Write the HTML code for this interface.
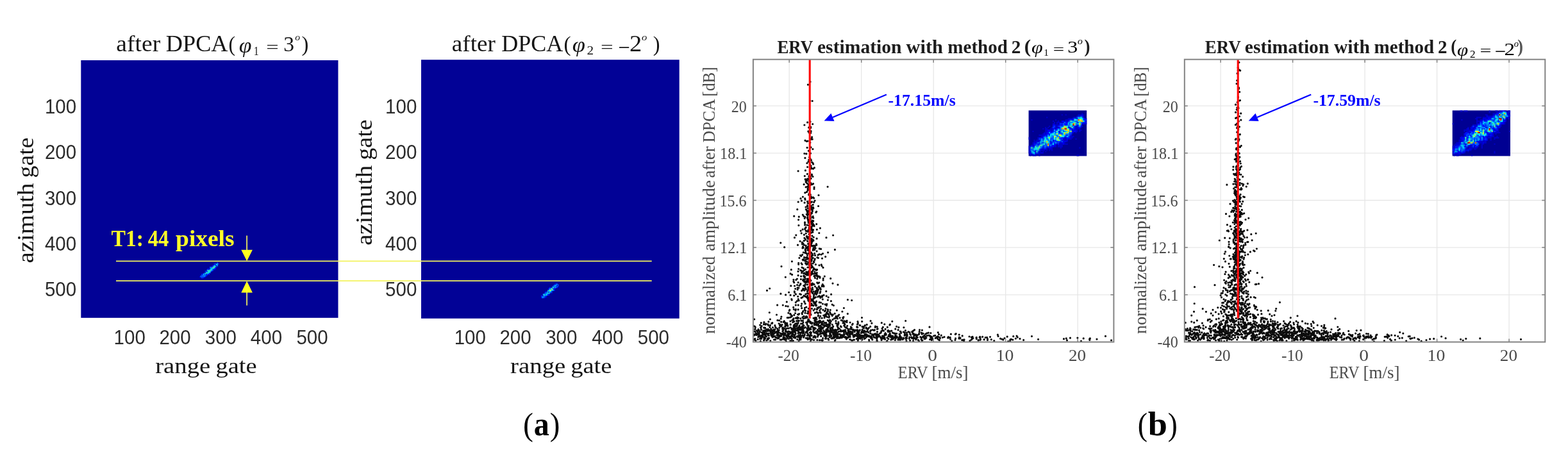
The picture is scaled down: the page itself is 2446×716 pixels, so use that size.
<!DOCTYPE html>
<html><head><meta charset="utf-8"><title>Figure</title>
<style>
html,body{margin:0;padding:0;background:#fff;}
body{width:2446px;height:716px;overflow:hidden;}
svg{display:block;}
.sf{font-family:"Liberation Serif",serif;}
.ss{font-family:"Liberation Sans",sans-serif;}
</style></head><body>
<svg width="2446" height="716" viewBox="0 0 2446 716">
<rect width="2446" height="716" fill="#fff"/>
<rect x="126.3" y="94.0" width="401.2" height="401.8" fill="#020296"/>
<rect x="657.0" y="93.2" width="402.7" height="403.6" fill="#020296"/>
<text transform="translate(69.90,176.70) scale(0.9580,1)" font-size="30.80" class="ss" fill="#2b2b2b">100</text>
<text transform="translate(601.10,176.70) scale(0.9580,1)" font-size="30.80" class="ss" fill="#2b2b2b">100</text>
<text transform="translate(69.90,248.10) scale(0.9580,1)" font-size="30.80" class="ss" fill="#2b2b2b">200</text>
<text transform="translate(601.10,248.10) scale(0.9580,1)" font-size="30.80" class="ss" fill="#2b2b2b">200</text>
<text transform="translate(69.90,319.50) scale(0.9580,1)" font-size="30.80" class="ss" fill="#2b2b2b">300</text>
<text transform="translate(601.10,319.50) scale(0.9580,1)" font-size="30.80" class="ss" fill="#2b2b2b">300</text>
<text transform="translate(69.90,390.90) scale(0.9580,1)" font-size="30.80" class="ss" fill="#2b2b2b">400</text>
<text transform="translate(601.10,390.90) scale(0.9580,1)" font-size="30.80" class="ss" fill="#2b2b2b">400</text>
<text transform="translate(69.90,462.20) scale(0.9580,1)" font-size="30.80" class="ss" fill="#2b2b2b">500</text>
<text transform="translate(601.10,462.20) scale(0.9580,1)" font-size="30.80" class="ss" fill="#2b2b2b">500</text>
<text transform="translate(177.60,537.20) scale(0.9580,1)" font-size="30.80" class="ss" fill="#2b2b2b">100</text>
<text transform="translate(708.65,537.20) scale(0.9580,1)" font-size="30.80" class="ss" fill="#2b2b2b">100</text>
<text transform="translate(248.41,537.20) scale(0.9580,1)" font-size="30.80" class="ss" fill="#2b2b2b">200</text>
<text transform="translate(779.41,537.20) scale(0.9580,1)" font-size="30.80" class="ss" fill="#2b2b2b">200</text>
<text transform="translate(319.76,537.20) scale(0.9580,1)" font-size="30.80" class="ss" fill="#2b2b2b">300</text>
<text transform="translate(851.16,537.20) scale(0.9580,1)" font-size="30.80" class="ss" fill="#2b2b2b">300</text>
<text transform="translate(390.86,537.20) scale(0.9580,1)" font-size="30.80" class="ss" fill="#2b2b2b">400</text>
<text transform="translate(923.16,537.20) scale(0.9580,1)" font-size="30.80" class="ss" fill="#2b2b2b">400</text>
<text transform="translate(462.41,537.20) scale(0.9580,1)" font-size="30.80" class="ss" fill="#2b2b2b">500</text>
<text transform="translate(994.76,537.20) scale(0.9580,1)" font-size="30.80" class="ss" fill="#2b2b2b">500</text>
<text class="sf"><tspan x="242.23" y="581.90" font-size="33.50" textLength="85.96" lengthAdjust="spacingAndGlyphs" fill="#141414">range</tspan> <tspan x="336.47" y="581.90" font-size="33.50" textLength="64.20" lengthAdjust="spacingAndGlyphs" fill="#141414">gate</tspan></text>
<text class="sf"><tspan x="796.02" y="581.80" font-size="33.50" textLength="86.37" lengthAdjust="spacingAndGlyphs" fill="#141414">range</tspan> <tspan x="890.16" y="581.80" font-size="33.50" textLength="64.31" lengthAdjust="spacingAndGlyphs" fill="#141414">gate</tspan></text>
<text class="sf" transform="translate(52.20,0) rotate(-90)"><tspan x="-410.56" y="0.00" font-size="35.00" textLength="125.08" lengthAdjust="spacingAndGlyphs" fill="#141414">azimuth</tspan> <tspan x="-277.40" y="0.00" font-size="35.00" textLength="62.94" lengthAdjust="spacingAndGlyphs" fill="#141414">gate</tspan></text>
<text class="sf" transform="translate(579.90,0) rotate(-90)"><tspan x="-382.86" y="0.00" font-size="35.00" textLength="125.08" lengthAdjust="spacingAndGlyphs" fill="#141414">azimuth</tspan> <tspan x="-249.71" y="0.00" font-size="35.00" textLength="63.47" lengthAdjust="spacingAndGlyphs" fill="#141414">gate</tspan></text>
<text class="sf"><tspan x="181.39" y="80.00" font-size="35.00" textLength="68.76" lengthAdjust="spacingAndGlyphs" fill="#141414">after</tspan> <tspan x="258.81" y="80.00" font-size="35.00" textLength="96.76" lengthAdjust="spacingAndGlyphs" fill="#141414">DPCA</tspan><tspan x="356.57" y="80.33" font-size="34.29" textLength="10.58" lengthAdjust="spacingAndGlyphs" fill="#141414">(</tspan><tspan x="372.73" y="81.73" font-size="34.74" textLength="19.78" lengthAdjust="spacingAndGlyphs" fill="#141414" font-style="italic">φ</tspan><tspan x="395.64" y="86.20" font-size="19.24" textLength="8.03" lengthAdjust="spacingAndGlyphs" fill="#141414">1</tspan> <tspan x="415.28" y="82.25" font-size="25.60" textLength="19.41" lengthAdjust="spacingAndGlyphs" fill="#141414">=</tspan> <tspan x="442.29" y="79.96" font-size="34.33" textLength="16.75" lengthAdjust="spacingAndGlyphs" fill="#141414">3</tspan><tspan x="460.33" y="62.96" font-size="13.75" textLength="7.84" lengthAdjust="spacingAndGlyphs" fill="#141414" font-style="italic">o</tspan><tspan x="470.52" y="80.33" font-size="34.29" textLength="10.89" lengthAdjust="spacingAndGlyphs" fill="#141414">)</tspan></text>
<text class="sf"><tspan x="704.80" y="80.00" font-size="35.00" textLength="68.04" lengthAdjust="spacingAndGlyphs" fill="#141414">after</tspan> <tspan x="782.22" y="80.00" font-size="35.00" textLength="96.15" lengthAdjust="spacingAndGlyphs" fill="#141414">DPCA</tspan><tspan x="879.60" y="80.33" font-size="34.29" textLength="11.10" lengthAdjust="spacingAndGlyphs" fill="#141414">(</tspan><tspan x="892.70" y="80.62" font-size="34.31" textLength="20.23" lengthAdjust="spacingAndGlyphs" fill="#141414" font-style="italic">φ</tspan><tspan x="915.54" y="84.60" font-size="19.09" textLength="10.62" lengthAdjust="spacingAndGlyphs" fill="#141414">2</tspan> <tspan x="937.06" y="82.25" font-size="25.60" textLength="19.65" lengthAdjust="spacingAndGlyphs" fill="#141414">=</tspan> <tspan x="964.17" y="85.78" font-size="36.00" textLength="18.44" lengthAdjust="spacingAndGlyphs" fill="#141414">−</tspan><tspan x="982.07" y="79.60" font-size="36.06" textLength="19.25" lengthAdjust="spacingAndGlyphs" fill="#141414">2</tspan><tspan x="1001.00" y="62.86" font-size="14.17" textLength="8.30" lengthAdjust="spacingAndGlyphs" fill="#141414" font-style="italic">o</tspan><tspan x="1018.63" y="80.33" font-size="34.29" textLength="10.76" lengthAdjust="spacingAndGlyphs" fill="#141414">)</tspan></text>
<path d="M332.7 410.9h1.6v1.6h-1.6zM335.6 412.3h1.6v1.6h-1.6zM326.9 415.2h1.6v1.6h-1.6zM328.4 415.2h1.6v1.6h-1.6zM324.0 418.1h1.6v1.6h-1.6zM325.4 419.6h1.6v1.6h-1.6zM332.7 419.6h1.6v1.6h-1.6zM313.9 426.8h1.6v1.6h-1.6zM321.1 426.8h1.6v1.6h-1.6zM310.9 431.1h1.6v1.6h-1.6zM319.6 431.1h1.6v1.6h-1.6z" fill="#0000d4"/>
<path d="M334.1 412.3h1.6v1.6h-1.6zM331.2 413.8h1.6v1.6h-1.6zM329.8 415.2h1.6v1.6h-1.6zM326.9 418.1h1.6v1.6h-1.6zM334.1 418.1h1.6v1.6h-1.6zM335.6 418.1h1.6v1.6h-1.6zM322.6 419.6h1.6v1.6h-1.6zM331.2 419.6h1.6v1.6h-1.6zM334.1 419.6h1.6v1.6h-1.6zM322.6 422.4h1.6v1.6h-1.6zM329.8 422.4h1.6v1.6h-1.6zM326.9 425.4h1.6v1.6h-1.6zM315.3 426.8h1.6v1.6h-1.6zM324.0 426.8h1.6v1.6h-1.6zM322.6 428.2h1.6v1.6h-1.6zM321.1 429.7h1.6v1.6h-1.6zM316.8 432.6h1.6v1.6h-1.6z" fill="#0000ff"/>
<path d="M334.1 410.9h1.6v1.6h-1.6zM339.9 410.9h1.6v1.6h-1.6zM331.2 415.2h1.6v1.6h-1.6zM337.1 415.2h1.6v1.6h-1.6zM324.0 419.6h1.6v1.6h-1.6zM319.6 422.4h1.6v1.6h-1.6zM321.1 422.4h1.6v1.6h-1.6zM325.4 425.4h1.6v1.6h-1.6zM325.4 426.8h1.6v1.6h-1.6zM315.3 428.2h1.6v1.6h-1.6zM318.2 428.2h1.6v1.6h-1.6zM321.1 428.2h1.6v1.6h-1.6zM313.9 429.7h1.6v1.6h-1.6zM315.3 431.1h1.6v1.6h-1.6zM318.2 431.1h1.6v1.6h-1.6zM313.9 432.6h1.6v1.6h-1.6zM315.3 432.6h1.6v1.6h-1.6z" fill="#002aff"/>
<path d="M338.5 409.4h1.6v1.6h-1.6zM335.6 410.9h1.6v1.6h-1.6zM337.1 410.9h1.6v1.6h-1.6zM335.6 413.8h1.6v1.6h-1.6zM326.9 416.6h1.6v1.6h-1.6zM329.8 416.6h1.6v1.6h-1.6zM331.2 421.0h1.6v1.6h-1.6zM328.4 422.4h1.6v1.6h-1.6zM318.2 425.4h1.6v1.6h-1.6zM318.2 426.8h1.6v1.6h-1.6zM313.9 428.2h1.6v1.6h-1.6zM319.6 428.2h1.6v1.6h-1.6zM312.4 429.7h1.6v1.6h-1.6zM316.8 429.7h1.6v1.6h-1.6zM319.6 429.7h1.6v1.6h-1.6zM312.4 431.1h1.6v1.6h-1.6zM313.9 431.1h1.6v1.6h-1.6zM316.8 431.1h1.6v1.6h-1.6z" fill="#0055ff"/>
<path d="M338.5 412.3h1.6v1.6h-1.6zM332.7 413.8h1.6v1.6h-1.6zM338.5 413.8h1.6v1.6h-1.6zM329.8 421.0h1.6v1.6h-1.6zM322.6 426.8h1.6v1.6h-1.6z" fill="#0080ff"/>
<path d="M338.5 410.9h1.6v1.6h-1.6zM335.6 415.2h1.6v1.6h-1.6zM328.4 416.6h1.6v1.6h-1.6zM328.4 418.1h1.6v1.6h-1.6zM332.7 418.1h1.6v1.6h-1.6zM326.9 419.6h1.6v1.6h-1.6zM328.4 419.6h1.6v1.6h-1.6zM319.6 425.4h1.6v1.6h-1.6zM322.6 425.4h1.6v1.6h-1.6zM316.8 428.2h1.6v1.6h-1.6zM315.3 429.7h1.6v1.6h-1.6z" fill="#00aaff"/>
<path d="M334.1 416.6h1.6v1.6h-1.6zM329.8 418.1h1.6v1.6h-1.6zM331.2 418.1h1.6v1.6h-1.6zM322.6 421.0h1.6v1.6h-1.6zM325.4 421.0h1.6v1.6h-1.6zM325.4 422.4h1.6v1.6h-1.6zM321.1 423.9h1.6v1.6h-1.6zM322.6 423.9h1.6v1.6h-1.6zM326.9 423.9h1.6v1.6h-1.6zM316.8 426.8h1.6v1.6h-1.6zM319.6 426.8h1.6v1.6h-1.6zM318.2 429.7h1.6v1.6h-1.6z" fill="#00d4ff"/>
<path d="M337.1 412.3h1.6v1.6h-1.6zM334.1 413.8h1.6v1.6h-1.6zM332.7 416.6h1.6v1.6h-1.6zM329.8 419.6h1.6v1.6h-1.6zM328.4 421.0h1.6v1.6h-1.6zM325.4 423.9h1.6v1.6h-1.6zM324.0 425.4h1.6v1.6h-1.6z" fill="#00ffff"/>
<path d="M332.7 415.2h1.6v1.6h-1.6zM324.0 422.4h1.6v1.6h-1.6zM326.9 422.4h1.6v1.6h-1.6zM324.0 423.9h1.6v1.6h-1.6z" fill="#2bffd4"/>
<path d="M334.1 415.2h1.6v1.6h-1.6zM324.0 421.0h1.6v1.6h-1.6zM326.9 421.0h1.6v1.6h-1.6zM321.1 425.4h1.6v1.6h-1.6z" fill="#55ffaa"/>
<path d="M331.2 416.6h1.6v1.6h-1.6z" fill="#80ff80"/>
<path d="M865.6 441.9h1.6v1.6h-1.6zM859.9 447.7h1.6v1.6h-1.6zM864.2 450.6h1.6v1.6h-1.6zM851.1 453.5h1.6v1.6h-1.6zM859.9 456.4h1.6v1.6h-1.6zM845.4 460.8h1.6v1.6h-1.6zM846.8 460.8h1.6v1.6h-1.6zM849.7 463.6h1.6v1.6h-1.6z" fill="#0000d4"/>
<path d="M870.0 446.2h1.6v1.6h-1.6zM857.0 447.7h1.6v1.6h-1.6zM864.2 447.7h1.6v1.6h-1.6zM868.5 447.7h1.6v1.6h-1.6zM855.5 449.1h1.6v1.6h-1.6zM865.6 449.1h1.6v1.6h-1.6zM862.8 450.6h1.6v1.6h-1.6zM864.2 452.1h1.6v1.6h-1.6zM859.9 453.5h1.6v1.6h-1.6zM849.7 454.9h1.6v1.6h-1.6zM851.1 454.9h1.6v1.6h-1.6zM855.5 454.9h1.6v1.6h-1.6zM854.0 457.9h1.6v1.6h-1.6zM855.5 459.3h1.6v1.6h-1.6zM843.9 462.2h1.6v1.6h-1.6zM851.1 462.2h1.6v1.6h-1.6zM843.9 463.6h1.6v1.6h-1.6z" fill="#0000ff"/>
<path d="M867.1 441.9h1.6v1.6h-1.6zM868.5 441.9h1.6v1.6h-1.6zM864.2 443.4h1.6v1.6h-1.6zM865.6 443.4h1.6v1.6h-1.6zM862.8 444.8h1.6v1.6h-1.6zM870.0 444.8h1.6v1.6h-1.6zM867.1 446.2h1.6v1.6h-1.6zM861.3 449.1h1.6v1.6h-1.6zM864.2 449.1h1.6v1.6h-1.6zM855.5 450.6h1.6v1.6h-1.6zM849.7 457.9h1.6v1.6h-1.6zM854.0 459.3h1.6v1.6h-1.6zM843.9 460.8h1.6v1.6h-1.6zM849.7 460.8h1.6v1.6h-1.6zM851.1 460.8h1.6v1.6h-1.6zM849.7 462.2h1.6v1.6h-1.6zM848.2 463.6h1.6v1.6h-1.6z" fill="#002aff"/>
<path d="M868.5 443.4h1.6v1.6h-1.6zM870.0 443.4h1.6v1.6h-1.6zM867.1 444.8h1.6v1.6h-1.6zM861.3 446.2h1.6v1.6h-1.6zM867.1 447.7h1.6v1.6h-1.6zM857.0 449.1h1.6v1.6h-1.6zM862.8 449.1h1.6v1.6h-1.6zM854.0 452.1h1.6v1.6h-1.6zM854.0 454.9h1.6v1.6h-1.6zM858.4 454.9h1.6v1.6h-1.6zM859.9 454.9h1.6v1.6h-1.6zM846.8 457.9h1.6v1.6h-1.6zM855.5 457.9h1.6v1.6h-1.6zM848.2 462.2h1.6v1.6h-1.6zM846.8 463.6h1.6v1.6h-1.6z" fill="#0055ff"/>
<path d="M864.2 444.8h1.6v1.6h-1.6zM862.8 446.2h1.6v1.6h-1.6zM865.6 446.2h1.6v1.6h-1.6zM868.5 446.2h1.6v1.6h-1.6zM858.4 449.1h1.6v1.6h-1.6zM858.4 450.6h1.6v1.6h-1.6zM862.8 452.1h1.6v1.6h-1.6zM852.6 454.9h1.6v1.6h-1.6zM849.7 456.4h1.6v1.6h-1.6zM851.1 456.4h1.6v1.6h-1.6zM857.0 456.4h1.6v1.6h-1.6zM851.1 457.9h1.6v1.6h-1.6zM849.7 459.3h1.6v1.6h-1.6zM845.4 463.6h1.6v1.6h-1.6z" fill="#0080ff"/>
<path d="M867.1 443.4h1.6v1.6h-1.6zM864.2 446.2h1.6v1.6h-1.6zM855.5 452.1h1.6v1.6h-1.6zM855.5 453.5h1.6v1.6h-1.6zM848.2 457.9h1.6v1.6h-1.6zM846.8 459.3h1.6v1.6h-1.6zM852.6 459.3h1.6v1.6h-1.6zM848.2 460.8h1.6v1.6h-1.6zM845.4 462.2h1.6v1.6h-1.6zM846.8 462.2h1.6v1.6h-1.6z" fill="#00aaff"/>
<path d="M865.6 444.8h1.6v1.6h-1.6zM861.3 447.7h1.6v1.6h-1.6zM865.6 447.7h1.6v1.6h-1.6zM857.0 450.6h1.6v1.6h-1.6zM859.9 452.1h1.6v1.6h-1.6zM861.3 452.1h1.6v1.6h-1.6zM857.0 454.9h1.6v1.6h-1.6zM852.6 456.4h1.6v1.6h-1.6zM852.6 457.9h1.6v1.6h-1.6z" fill="#00d4ff"/>
<path d="M857.0 453.5h1.6v1.6h-1.6zM858.4 453.5h1.6v1.6h-1.6zM854.0 456.4h1.6v1.6h-1.6zM851.1 459.3h1.6v1.6h-1.6z" fill="#00ffff"/>
<path d="M862.8 447.7h1.6v1.6h-1.6zM854.0 453.5h1.6v1.6h-1.6zM855.5 456.4h1.6v1.6h-1.6zM848.2 459.3h1.6v1.6h-1.6z" fill="#2bffd4"/>
<path d="M859.9 449.1h1.6v1.6h-1.6zM861.3 450.6h1.6v1.6h-1.6z" fill="#55ffaa"/>
<path d="M859.9 450.6h1.6v1.6h-1.6z" fill="#80ff80"/>
<path d="M857.0 452.1h1.6v1.6h-1.6zM858.4 452.1h1.6v1.6h-1.6z" fill="#aaff55"/>
<g stroke="#f3f35e" stroke-width="1.7" fill="none"><path d="M181 407.3H1016.7M181 438.2H1016.7M385.1 367.5V392M385.1 454V476.5"/></g>
<path d="M376.3 389.8H393.9L385.1 407.3zM376.3 456.4H393.9L385.1 438.3z" fill="#ffff1e"/>
<text class="sf"><tspan x="173.50" y="383.50" font-size="35.00" textLength="50.33" lengthAdjust="spacingAndGlyphs" fill="#ffff28" font-weight="bold">T1:</tspan> <tspan x="230.71" y="383.50" font-size="35.00" textLength="32.64" lengthAdjust="spacingAndGlyphs" fill="#ffff28" font-weight="bold">44</tspan> <tspan x="274.13" y="383.50" font-size="35.00" textLength="91.40" lengthAdjust="spacingAndGlyphs" fill="#ffff28" font-weight="bold">pixels</tspan></text>
<path d="M1174.9 165.2H1737.4M1174.9 238.8H1737.4M1174.9 312.5H1737.4M1174.9 386.1H1737.4M1174.9 459.8H1737.4M1231.2 92.7V533.5M1343.7 92.7V533.5M1456.2 92.7V533.5M1568.7 92.7V533.5M1681.2 92.7V533.5" stroke="#e7e7e7" stroke-width="1.3" fill="none"/>
<path d="M1262.0 292.1h0M1263.0 489.5h0M1273.5 459.4h0M1271.1 506.2h0M1259.2 411.2h0M1278.4 462.4h0M1279.0 431.8h0M1259.6 190.9h0M1279.0 433.3h0M1258.6 369.5h0M1239.4 508.9h0M1260.1 466.0h0M1298.2 492.6h0M1260.1 386.9h0M1267.2 509.7h0M1273.2 430.2h0M1267.2 503.5h0M1259.8 376.5h0M1266.8 383.4h0M1288.8 490.9h0M1259.5 314.3h0M1303.9 494.0h0M1285.0 460.4h0M1243.4 469.5h0M1267.8 451.6h0M1267.9 402.6h0M1243.4 435.0h0M1266.4 272.2h0M1251.9 387.0h0M1239.5 456.3h0M1259.7 461.3h0M1267.2 338.8h0M1266.1 379.6h0M1299.2 510.3h0M1263.5 420.6h0M1245.2 315.0h0M1245.1 266.8h0M1268.3 388.6h0M1279.5 501.2h0M1270.6 430.0h0M1254.5 401.3h0M1264.9 490.9h0M1257.4 451.6h0M1271.3 498.3h0M1306.4 497.0h0M1284.5 501.1h0M1267.7 319.5h0M1265.6 467.0h0M1270.7 465.0h0M1269.7 459.0h0M1268.3 374.1h0M1278.8 484.0h0M1265.4 476.5h0M1284.1 437.0h0M1264.2 354.4h0M1255.8 406.3h0M1250.7 480.7h0M1264.3 437.0h0M1235.4 407.8h0M1259.6 329.7h0M1249.6 431.0h0M1305.4 484.1h0M1255.8 300.7h0M1262.1 438.1h0M1271.1 313.0h0M1252.3 423.3h0M1252.8 406.0h0M1259.3 401.3h0M1263.3 322.6h0M1259.1 412.4h0M1264.9 285.6h0M1264.2 248.1h0M1221.3 476.0h0M1252.4 486.6h0M1271.9 456.1h0M1296.6 459.2h0M1268.0 254.4h0M1254.9 371.3h0M1256.6 410.6h0M1286.4 485.5h0M1282.2 446.7h0M1274.3 425.5h0M1255.7 496.2h0M1259.6 321.7h0M1262.5 250.6h0M1273.3 495.6h0M1266.1 373.0h0M1249.0 309.7h0M1259.2 404.1h0M1262.1 409.1h0M1307.4 492.9h0M1223.7 385.7h0M1262.5 276.6h0M1265.9 308.9h0M1254.9 195.0h0M1265.8 400.6h0M1256.6 393.4h0M1236.8 502.7h0M1257.2 493.8h0M1265.1 278.4h0M1261.9 283.6h0M1250.4 313.2h0M1271.8 498.9h0M1270.7 395.3h0M1268.5 427.1h0M1277.2 480.3h0M1260.3 428.5h0M1260.7 287.3h0M1291.6 393.8h0M1261.9 303.1h0M1266.9 367.9h0M1241.3 471.7h0M1265.3 413.2h0M1217.8 378.8h0M1265.0 355.0h0M1252.7 451.0h0M1245.6 342.8h0M1253.7 426.7h0M1273.7 330.1h0M1262.8 207.6h0M1255.6 351.0h0M1260.4 342.8h0M1279.2 486.9h0M1266.4 481.4h0M1277.8 363.5h0M1276.3 488.2h0M1251.1 417.2h0M1262.5 435.3h0M1260.6 380.4h0M1241.8 436.5h0M1289.3 476.6h0M1261.9 387.5h0M1261.7 351.5h0M1246.8 445.6h0M1267.1 377.0h0M1263.7 374.9h0M1263.9 443.2h0M1272.2 454.3h0M1261.7 380.8h0M1254.9 239.5h0M1261.9 345.5h0M1263.4 381.4h0M1272.9 382.3h0M1252.2 405.0h0M1259.4 271.4h0M1234.3 420.7h0M1255.9 246.4h0M1240.7 450.5h0M1253.7 337.3h0M1269.1 484.1h0M1273.7 427.5h0M1262.8 392.9h0M1268.7 465.4h0M1260.9 204.9h0M1258.3 368.6h0M1259.5 320.4h0M1255.5 348.1h0M1264.6 199.4h0M1275.0 502.4h0M1307.1 492.6h0M1267.2 468.9h0M1247.1 507.9h0M1284.0 417.4h0M1253.9 508.2h0M1265.9 473.7h0M1269.2 370.0h0M1262.5 327.4h0M1289.7 487.3h0M1245.2 466.6h0M1262.3 383.5h0M1263.8 386.2h0M1263.7 157.3h0M1218.9 494.0h0M1288.2 493.2h0M1261.2 347.6h0M1254.1 450.9h0M1252.9 503.1h0M1238.7 337.2h0M1248.5 398.4h0M1260.8 498.2h0M1266.1 357.3h0M1291.6 483.1h0M1258.8 440.2h0M1264.1 263.5h0M1265.1 204.7h0M1272.9 331.2h0M1279.1 457.0h0M1262.2 387.4h0M1279.4 450.0h0M1243.0 501.0h0M1265.9 383.1h0M1261.4 235.3h0M1287.1 490.9h0M1239.5 370.7h0M1296.4 469.7h0M1260.0 390.2h0M1294.0 502.8h0M1291.5 485.2h0M1198.6 507.6h0M1245.5 495.9h0M1262.4 427.5h0M1288.8 454.4h0M1259.3 443.9h0M1265.9 427.8h0M1257.3 326.5h0M1263.2 441.7h0M1266.4 314.9h0M1263.0 442.5h0M1237.9 439.0h0M1270.9 424.0h0M1315.0 503.8h0M1261.3 439.5h0M1267.1 395.9h0M1270.0 430.8h0M1261.4 469.3h0M1241.8 366.8h0M1260.9 427.7h0M1268.5 421.2h0M1254.8 470.9h0M1299.3 490.9h0M1261.0 488.7h0M1255.1 316.2h0M1267.1 398.8h0M1265.0 410.8h0M1252.4 384.9h0M1256.9 405.0h0M1291.1 482.9h0M1257.0 281.5h0M1258.3 395.4h0M1252.9 485.4h0M1313.9 486.0h0M1265.4 380.5h0M1338.4 503.9h0M1265.8 444.7h0M1260.7 427.1h0M1267.2 217.2h0M1274.2 452.6h0M1278.4 495.9h0M1276.6 321.5h0M1261.7 249.3h0M1263.4 256.4h0M1267.5 456.3h0M1238.7 461.1h0M1255.8 350.7h0M1262.2 380.5h0M1273.8 453.2h0M1250.4 422.6h0M1262.1 355.9h0M1254.0 461.3h0M1268.9 375.2h0M1245.2 440.7h0M1265.7 332.0h0M1267.5 327.5h0M1262.1 379.6h0M1272.4 412.6h0M1273.1 477.0h0M1291.2 499.6h0M1276.0 442.1h0M1293.6 493.2h0M1266.8 416.8h0M1261.9 389.2h0M1246.0 449.0h0M1262.8 313.6h0M1265.2 417.7h0M1264.1 286.7h0M1256.0 407.3h0M1260.1 297.0h0M1260.4 435.0h0M1232.9 489.4h0M1272.3 471.8h0M1252.4 307.1h0M1267.4 448.8h0M1267.4 476.1h0M1262.6 245.3h0M1266.5 415.8h0M1259.8 339.1h0M1249.1 360.1h0M1268.3 319.3h0M1263.0 284.5h0M1266.4 405.5h0M1262.0 365.3h0M1264.7 198.0h0M1282.7 461.3h0M1280.6 481.5h0M1299.0 442.1h0M1234.1 494.3h0M1259.2 494.8h0M1261.7 198.9h0M1264.6 469.8h0M1268.7 344.7h0M1261.9 457.5h0M1266.5 332.4h0M1257.6 360.2h0M1272.2 473.5h0M1264.3 303.7h0M1244.1 497.0h0M1244.2 451.7h0M1274.4 429.2h0M1273.7 349.6h0M1261.5 447.9h0M1261.3 438.8h0M1251.2 412.3h0M1255.3 446.4h0M1238.8 491.4h0M1268.0 398.0h0M1260.1 220.0h0M1254.1 375.7h0M1262.6 328.6h0M1274.4 482.8h0M1255.6 357.3h0M1264.4 275.3h0M1265.3 216.3h0M1260.6 429.1h0M1260.3 453.4h0M1245.0 423.3h0M1277.6 479.4h0M1269.7 315.4h0M1276.6 479.5h0M1252.9 379.8h0M1250.2 363.8h0M1270.4 430.9h0M1266.4 414.7h0M1280.2 488.0h0M1265.7 375.1h0M1286.3 431.1h0M1264.6 429.2h0M1282.3 445.6h0M1271.3 457.5h0M1280.5 472.0h0M1256.7 391.4h0M1264.2 462.3h0M1261.7 488.3h0M1241.4 482.6h0M1254.6 470.0h0M1262.2 316.8h0M1266.1 323.1h0M1235.2 468.0h0M1260.1 278.8h0M1243.8 326.7h0M1259.5 335.5h0M1265.4 407.6h0M1245.2 475.9h0M1269.3 461.8h0M1254.1 287.7h0M1264.3 337.2h0M1266.8 263.0h0M1233.1 460.3h0M1260.2 296.4h0M1248.9 442.7h0M1289.0 370.7h0M1260.1 403.9h0M1251.6 511.4h0M1266.4 398.3h0M1260.1 317.0h0M1231.8 483.4h0M1260.5 361.5h0M1257.1 354.7h0M1412.7 500.5h0M1270.7 389.7h0M1279.8 449.6h0M1259.1 435.2h0M1250.6 473.8h0M1264.0 127.5h0M1262.2 416.8h0M1307.1 506.8h0M1255.7 462.2h0M1256.5 449.0h0M1259.1 370.6h0M1244.1 448.8h0M1267.8 362.2h0M1265.7 377.5h0M1268.1 411.0h0M1263.7 382.0h0M1262.9 355.0h0M1272.8 420.7h0M1225.9 477.4h0M1262.3 422.5h0M1260.8 345.0h0M1261.4 369.6h0M1264.3 335.3h0M1315.1 497.0h0M1218.2 497.1h0M1262.2 440.6h0M1260.8 468.6h0M1262.5 392.7h0M1256.1 473.7h0M1257.4 385.5h0M1251.9 452.2h0M1281.3 412.8h0M1230.6 456.0h0M1272.4 463.5h0M1264.2 340.0h0M1252.1 357.9h0M1265.9 355.0h0M1262.3 407.2h0M1268.5 307.9h0M1318.1 509.9h0M1259.4 454.5h0M1265.1 374.8h0M1260.0 332.2h0M1265.0 321.2h0M1233.9 491.2h0M1274.0 486.9h0M1308.8 491.0h0M1283.4 474.0h0M1250.6 425.6h0M1267.1 352.5h0M1259.1 506.5h0M1245.1 429.7h0M1260.5 485.6h0M1306.5 509.6h0M1281.8 505.4h0M1225.9 508.0h0M1271.5 398.3h0M1266.6 475.6h0M1265.0 229.9h0M1251.0 488.4h0M1294.9 487.4h0M1252.0 463.7h0M1256.4 265.9h0M1262.1 355.3h0M1264.8 315.6h0M1261.8 499.2h0M1258.8 285.8h0M1270.9 500.5h0M1259.6 260.5h0M1267.0 344.2h0M1275.7 463.0h0M1262.6 412.9h0M1278.6 448.8h0M1256.0 219.2h0M1261.4 289.3h0M1235.8 499.5h0M1249.9 477.2h0M1251.2 378.0h0M1256.1 435.2h0M1288.0 481.3h0M1266.0 378.7h0M1326.1 503.0h0M1250.7 453.5h0M1263.1 392.9h0M1256.6 373.9h0M1241.3 475.9h0M1278.2 471.7h0M1240.3 507.1h0M1267.8 442.2h0M1283.3 466.9h0M1258.2 426.9h0M1258.3 334.3h0M1253.7 445.6h0M1255.3 274.6h0M1261.2 344.4h0M1277.1 448.0h0M1196.5 453.2h0M1263.7 247.0h0M1278.0 396.7h0M1254.2 421.7h0M1269.7 464.0h0M1276.4 402.3h0M1283.2 443.5h0M1284.2 434.3h0M1273.9 498.0h0M1263.5 366.6h0M1258.0 401.7h0M1238.3 482.5h0M1219.0 415.6h0M1252.0 494.9h0M1260.8 501.6h0M1253.3 404.5h0M1259.7 291.1h0M1280.1 478.1h0M1265.0 406.9h0M1262.4 470.1h0M1244.7 462.5h0M1291.1 291.3h0M1268.0 275.5h0M1260.2 324.8h0M1267.9 359.5h0M1318.0 506.3h0M1187.2 503.9h0M1267.0 359.6h0M1254.2 437.7h0M1301.3 496.8h0M1276.3 492.9h0M1248.8 421.7h0M1253.6 430.4h0M1271.3 386.6h0M1287.7 400.4h0M1267.3 358.2h0M1271.5 446.8h0M1256.0 394.5h0M1263.9 403.5h0M1264.2 504.0h0M1265.5 363.0h0M1270.0 294.7h0M1256.2 279.7h0M1258.3 279.8h0M1266.6 455.8h0M1232.8 495.0h0M1274.7 434.8h0M1246.6 489.6h0M1257.6 438.5h0M1262.0 403.3h0M1260.7 464.0h0M1270.1 292.1h0M1249.4 435.5h0M1243.5 507.2h0M1289.8 474.4h0M1257.2 383.1h0M1264.4 341.4h0M1255.9 432.1h0M1264.9 437.8h0M1265.8 394.8h0M1254.7 453.1h0M1284.7 445.6h0M1276.0 397.8h0M1277.4 446.7h0M1279.8 454.9h0M1271.3 488.1h0M1252.5 500.3h0M1286.1 495.7h0M1316.4 480.5h0M1265.5 404.7h0M1277.0 430.8h0M1262.1 282.7h0M1264.7 404.9h0M1296.7 490.3h0M1261.4 395.4h0M1277.9 461.7h0M1254.4 436.7h0M1262.4 391.1h0M1276.0 488.4h0M1250.1 464.7h0M1261.8 274.8h0M1269.7 383.0h0M1291.4 468.0h0M1257.1 284.0h0M1265.6 261.5h0M1261.4 380.2h0M1263.7 269.4h0M1259.6 375.8h0M1267.5 416.0h0M1341.7 507.6h0M1269.6 309.1h0M1272.5 502.5h0M1252.6 437.6h0M1256.3 355.9h0M1253.3 418.4h0M1273.8 505.6h0M1256.1 338.6h0M1295.4 504.0h0M1258.4 493.7h0M1257.9 239.9h0M1250.3 500.4h0M1200.3 487.5h0M1274.3 358.1h0M1267.7 193.5h0M1272.1 387.2h0M1268.9 324.8h0M1264.0 345.6h0M1265.6 346.9h0M1215.1 504.8h0M1260.0 338.6h0M1257.8 424.1h0M1265.6 404.1h0M1254.8 432.4h0M1267.1 508.8h0M1264.6 217.5h0M1302.2 489.2h0M1254.7 439.1h0M1267.8 444.2h0M1261.4 409.9h0M1268.8 476.8h0M1280.6 388.4h0M1271.5 433.5h0M1268.6 286.5h0M1266.8 350.6h0M1257.5 463.0h0M1270.1 352.6h0M1266.8 325.4h0M1259.9 335.5h0M1274.1 372.2h0M1273.9 449.1h0M1211.5 491.0h0M1237.7 479.4h0M1269.7 351.2h0M1266.6 213.9h0M1305.6 495.3h0M1262.2 358.9h0M1266.5 273.1h0M1271.2 403.8h0M1273.6 421.5h0M1271.3 384.4h0M1266.3 349.4h0M1234.8 466.6h0M1257.1 291.8h0M1240.6 488.5h0M1212.6 475.9h0M1292.2 463.8h0M1257.9 327.3h0M1241.4 458.9h0M1265.4 454.4h0M1254.4 366.2h0M1215.7 511.3h0M1296.6 511.2h0M1273.7 381.9h0M1265.9 444.9h0M1256.5 420.2h0M1279.8 464.5h0M1264.5 426.9h0M1258.3 220.4h0M1258.7 464.0h0M1217.9 458.2h0M1266.4 505.0h0M1259.9 437.2h0M1300.4 476.5h0M1263.5 419.7h0M1259.7 387.1h0M1322.4 467.5h0M1264.3 450.0h0M1264.2 288.4h0M1256.1 389.7h0M1259.3 331.0h0M1254.6 425.9h0M1258.7 408.0h0M1259.6 328.8h0M1292.4 490.6h0M1294.6 486.8h0M1258.9 254.5h0M1270.0 408.8h0M1303.2 496.4h0M1294.7 504.5h0M1316.0 494.5h0M1264.4 239.2h0M1267.6 346.3h0M1262.8 279.5h0M1261.6 303.9h0M1298.2 475.1h0M1268.1 390.3h0M1258.6 299.4h0M1268.6 358.6h0M1246.1 468.8h0M1263.8 436.3h0M1246.4 510.5h0M1265.6 327.0h0M1227.3 470.9h0M1263.2 482.5h0M1260.6 448.3h0M1261.0 458.1h0M1267.9 232.6h0M1274.9 401.7h0M1273.4 380.7h0M1233.8 445.9h0M1349.3 507.7h0M1256.9 450.0h0M1228.2 495.6h0M1259.1 401.5h0M1259.9 417.0h0M1271.6 505.6h0M1265.4 393.9h0M1257.3 364.1h0M1262.9 387.3h0M1280.3 451.4h0M1251.6 381.0h0M1268.9 470.7h0M1258.0 360.5h0M1242.5 504.6h0M1245.7 410.3h0M1272.5 426.8h0M1285.0 446.8h0M1262.3 301.9h0M1259.6 426.6h0M1251.3 380.3h0M1254.6 430.5h0M1248.8 496.8h0M1307.0 444.2h0M1259.0 351.0h0M1283.5 395.6h0M1267.0 397.7h0M1235.6 492.9h0M1268.2 337.6h0M1257.8 412.3h0M1256.4 427.6h0M1295.7 434.4h0M1253.3 386.5h0M1274.9 480.6h0M1263.5 484.3h0M1253.0 435.9h0M1274.6 420.7h0M1276.6 451.6h0M1243.6 444.5h0M1286.3 503.7h0M1254.0 493.3h0M1302.4 389.4h0M1365.3 510.6h0M1260.8 450.9h0M1266.5 452.0h0M1268.4 323.3h0M1255.4 402.1h0M1268.7 263.2h0M1270.4 261.7h0M1256.4 373.0h0M1255.7 309.7h0M1230.1 495.6h0M1260.8 359.0h0M1263.7 344.8h0M1261.7 342.3h0M1269.9 460.1h0M1233.1 426.9h0M1264.8 207.3h0M1254.6 439.4h0M1268.2 383.9h0M1229.9 488.2h0M1267.3 329.7h0M1248.1 376.3h0M1289.2 488.9h0M1279.5 502.1h0M1238.6 507.2h0M1279.7 493.1h0M1274.5 482.7h0M1244.5 504.5h0M1239.6 446.0h0M1258.9 329.2h0M1259.7 488.8h0M1235.6 428.4h0M1225.7 507.5h0M1257.1 360.1h0M1249.8 399.5h0M1269.0 454.8h0M1244.5 382.2h0M1268.4 349.4h0M1265.4 306.9h0M1252.8 450.1h0M1268.3 467.6h0M1238.7 440.7h0M1270.7 405.7h0M1258.9 503.2h0M1260.4 372.4h0M1248.5 444.0h0M1256.0 311.3h0M1245.7 419.6h0M1264.0 189.8h0M1260.1 385.6h0M1251.4 490.0h0M1259.1 230.3h0M1246.4 500.3h0M1176.7 498.0h0M1268.6 256.0h0M1267.5 457.4h0M1262.3 413.4h0M1254.4 382.2h0M1250.1 410.7h0M1273.5 470.2h0M1273.8 382.2h0M1229.1 477.9h0M1293.2 495.2h0M1255.4 480.3h0M1267.4 287.4h0M1275.6 432.0h0M1279.4 355.9h0M1247.7 458.6h0M1281.1 397.0h0M1276.5 491.8h0M1391.8 501.3h0M1271.0 482.0h0M1286.2 493.2h0M1256.8 388.2h0M1242.6 500.7h0M1264.2 316.3h0M1265.1 383.4h0M1233.2 506.5h0M1266.6 253.1h0M1266.1 333.0h0M1262.4 434.9h0M1260.7 384.4h0M1269.2 408.0h0M1287.1 474.8h0M1269.8 419.2h0M1279.9 462.5h0M1257.9 479.1h0M1258.0 387.1h0M1273.7 507.2h0M1273.4 458.0h0M1269.1 386.8h0M1256.1 443.9h0M1282.0 415.0h0M1252.4 452.1h0M1231.3 484.7h0M1262.0 279.5h0M1265.5 249.9h0M1268.2 402.3h0M1256.5 441.0h0M1251.6 397.4h0M1263.8 222.4h0M1269.5 389.3h0M1274.1 391.8h0M1282.6 463.2h0M1274.9 455.0h0M1260.4 132.1h0M1260.0 386.4h0M1280.6 502.9h0M1283.9 483.4h0M1225.3 432.3h0M1255.3 483.2h0M1260.1 294.4h0M1256.8 458.9h0M1269.8 470.8h0M1265.7 345.1h0M1225.6 459.9h0M1266.0 372.2h0M1257.7 424.4h0M1278.3 387.9h0M1275.9 453.8h0M1264.0 361.2h0M1255.2 340.6h0M1268.8 340.0h0M1267.2 157.5h0M1264.3 363.7h0M1274.7 440.9h0M1264.3 484.9h0M1253.3 393.8h0M1282.5 403.1h0M1261.9 486.0h0M1264.7 309.3h0M1260.8 423.9h0M1263.3 396.6h0M1266.8 442.2h0M1299.6 367.0h0M1264.3 465.4h0M1268.0 375.3h0M1274.4 450.1h0M1258.7 281.9h0M1270.1 443.5h0M1245.7 412.3h0M1258.6 368.6h0M1258.4 429.0h0M1265.0 258.7h0M1278.0 413.8h0M1269.9 473.2h0M1263.0 383.7h0M1264.7 437.5h0M1204.5 504.5h0M1200.7 450.0h0M1261.3 427.0h0M1260.6 330.6h0M1261.0 252.2h0M1259.4 457.5h0M1271.4 420.3h0M1304.1 493.3h0M1277.7 440.8h0M1246.3 338.2h0M1240.9 484.5h0M1257.0 323.0h0M1271.3 426.8h0M1289.2 461.8h0M1264.9 358.0h0M1253.4 404.6h0M1265.2 405.0h0M1256.6 484.8h0M1263.0 334.8h0M1259.5 340.4h0M1259.5 428.6h0M1261.7 280.8h0M1252.3 335.1h0M1277.0 304.5h0M1266.0 353.9h0M1292.0 505.8h0M1261.4 481.4h0M1255.5 346.8h0M1239.3 454.6h0M1233.0 501.1h0M1245.9 351.6h0M1328.7 468.5h0M1261.9 206.3h0M1249.9 500.1h0M1267.3 423.4h0M1260.5 425.5h0M1246.9 402.3h0M1271.8 475.6h0M1259.4 398.2h0M1273.5 476.2h0M1265.5 287.8h0M1269.3 418.3h0M1266.7 425.8h0M1260.4 295.5h0M1266.3 424.0h0M1314.8 495.5h0M1264.5 324.3h0M1262.3 465.7h0M1261.5 334.3h0M1263.3 372.5h0M1262.2 352.2h0M1264.4 490.3h0M1275.1 456.9h0M1237.9 436.3h0M1249.4 459.3h0M1367.7 524.7h0M1497.7 528.0h0M1304.4 514.8h0M1344.4 518.4h0M1218.5 509.2h0M1250.0 526.1h0M1197.2 515.2h0M1289.2 508.7h0M1270.2 514.1h0M1496.2 522.1h0M1385.9 528.7h0M1374.7 516.9h0M1215.8 523.0h0M1344.7 501.5h0M1213.2 518.2h0M1216.4 508.1h0M1337.4 524.8h0M1264.7 523.4h0M1259.4 513.0h0M1240.1 515.1h0M1357.9 519.8h0M1260.6 510.9h0M1451.6 524.3h0M1482.6 529.1h0M1349.9 527.5h0M1238.1 518.0h0M1243.4 524.7h0M1388.1 522.9h0M1368.1 524.9h0M1310.2 521.3h0M1374.3 519.0h0M1258.1 495.5h0M1176.8 529.4h0M1242.7 512.0h0M1375.3 503.7h0M1214.2 522.2h0M1435.8 525.7h0M1318.8 517.8h0M1409.0 527.1h0M1286.0 524.0h0M1199.2 523.2h0M1289.1 521.7h0M1232.7 526.1h0M1275.5 525.2h0M1490.6 527.9h0M1432.3 530.4h0M1368.5 523.3h0M1322.4 522.5h0M1237.2 521.4h0M1281.0 513.0h0M1251.8 519.9h0M1280.5 511.7h0M1227.0 525.1h0M1381.1 513.4h0M1532.7 525.4h0M1419.0 518.4h0M1246.0 523.1h0M1327.5 517.4h0M1327.2 518.3h0M1280.2 507.8h0M1195.0 517.1h0M1248.9 529.7h0M1227.7 504.2h0M1427.1 527.4h0M1306.1 506.9h0M1397.4 523.9h0M1311.6 524.3h0M1456.6 524.0h0M1437.6 527.7h0M1240.3 509.4h0M1255.3 521.9h0M1243.8 494.9h0M1259.0 504.2h0M1184.2 520.7h0M1295.2 519.3h0M1446.3 523.6h0M1249.1 524.0h0M1257.6 503.1h0M1342.6 525.2h0M1261.4 508.5h0M1350.0 521.1h0M1397.0 525.3h0M1321.5 512.1h0M1204.0 514.8h0M1234.3 518.1h0M1315.8 503.7h0M1322.3 489.4h0M1403.5 522.0h0M1198.0 506.0h0M1177.9 513.4h0M1285.8 509.5h0M1193.0 517.8h0M1424.9 528.4h0M1331.7 530.1h0M1244.3 514.3h0M1304.1 516.0h0M1221.2 520.7h0M1350.0 522.5h0M1261.2 522.7h0M1177.3 516.8h0M1369.0 523.6h0M1185.7 517.6h0M1281.9 505.7h0M1191.7 520.1h0M1347.3 509.6h0M1251.8 518.1h0M1399.2 525.0h0M1330.9 514.1h0M1310.3 526.1h0M1201.5 507.4h0M1398.6 509.3h0M1191.0 520.4h0M1189.3 523.5h0M1270.9 503.8h0M1358.7 515.2h0M1225.7 513.3h0M1240.8 513.6h0M1299.9 522.1h0M1317.3 521.1h0M1567.0 527.5h0M1292.0 500.3h0M1431.4 522.6h0M1218.4 508.3h0M1382.2 521.2h0M1512.9 531.7h0M1326.3 525.5h0M1233.7 531.6h0M1297.0 515.3h0M1369.2 521.5h0M1236.5 520.7h0M1359.9 504.2h0M1233.2 526.5h0M1331.7 515.7h0M1724.5 524.4h0M1295.0 512.4h0M1307.4 527.2h0M1256.0 488.2h0M1222.0 526.1h0M1378.5 528.0h0M1294.6 499.2h0M1226.9 528.8h0M1319.3 525.9h0M1289.5 514.5h0M1338.9 517.2h0M1288.8 522.8h0M1202.5 521.1h0M1443.7 521.2h0M1235.7 522.6h0M1351.6 525.7h0M1248.6 514.6h0M1183.7 522.1h0M1325.9 522.9h0M1517.9 527.6h0M1556.4 522.2h0M1194.7 505.2h0M1306.8 514.1h0M1205.7 521.0h0M1280.7 520.2h0M1245.1 525.6h0M1224.7 505.1h0M1326.6 521.2h0M1275.4 519.6h0M1248.3 526.2h0M1243.6 515.3h0M1198.9 501.9h0M1301.7 522.2h0M1204.3 516.7h0M1362.8 523.6h0M1388.1 521.6h0M1479.3 525.7h0M1200.6 515.1h0M1418.7 526.1h0M1239.7 512.1h0M1241.3 515.2h0M1312.3 510.0h0M1339.5 519.6h0M1221.9 522.4h0M1201.4 498.0h0M1403.3 525.1h0M1252.3 510.8h0M1453.3 525.7h0M1452.8 528.1h0M1276.8 515.9h0M1262.8 512.3h0M1298.4 512.3h0M1187.3 513.3h0M1221.2 510.8h0M1384.0 531.5h0M1189.1 524.2h0M1482.2 526.3h0M1458.7 523.4h0M1229.7 520.3h0M1193.2 516.8h0M1262.2 523.6h0M1213.6 523.3h0M1212.3 520.4h0M1256.8 510.6h0M1191.2 519.7h0M1409.9 510.8h0M1376.6 527.2h0M1463.7 525.4h0M1294.4 526.1h0M1198.2 522.8h0M1404.9 525.9h0M1236.8 520.7h0M1220.8 516.6h0M1343.4 519.5h0M1299.6 515.0h0M1323.5 517.5h0M1299.8 526.2h0M1212.7 512.9h0M1223.6 520.0h0M1205.8 523.5h0M1260.4 509.2h0M1299.5 527.8h0M1199.8 515.2h0M1263.2 523.3h0M1215.5 525.2h0M1348.4 528.5h0M1263.6 512.1h0M1183.3 525.0h0M1315.5 515.6h0M1368.5 517.7h0M1304.1 520.2h0M1339.4 517.3h0M1403.1 529.9h0M1433.5 521.4h0M1222.1 502.3h0M1317.6 506.1h0M1272.0 524.9h0M1244.9 524.9h0M1347.8 523.4h0M1280.4 521.0h0M1345.1 514.3h0M1199.5 527.4h0M1340.4 525.0h0M1323.0 519.7h0M1465.4 530.7h0M1363.3 521.6h0M1336.9 509.5h0M1329.3 520.8h0M1288.7 515.2h0M1183.0 513.8h0M1215.7 499.9h0M1302.3 531.6h0M1454.5 527.8h0M1176.5 523.1h0M1218.9 529.9h0M1300.1 515.3h0M1268.8 513.3h0M1186.4 525.5h0M1310.5 527.1h0M1214.6 515.8h0M1540.5 528.7h0M1325.7 529.5h0M1191.9 528.3h0M1304.5 523.1h0M1478.6 527.0h0M1193.0 515.5h0M1388.1 516.6h0M1214.4 527.6h0M1285.6 519.0h0M1340.0 518.2h0M1305.3 519.0h0M1344.5 495.5h0M1367.3 523.6h0M1307.4 520.9h0M1185.1 517.9h0M1312.3 499.6h0M1194.6 524.2h0M1466.4 527.7h0M1187.3 503.6h0M1523.3 526.4h0M1220.6 512.9h0M1307.3 511.1h0M1183.9 522.8h0M1181.6 516.1h0M1540.5 530.4h0M1369.1 512.9h0M1204.0 520.2h0M1191.5 505.9h0M1377.1 528.0h0M1356.9 524.1h0M1342.9 525.6h0M1208.6 524.4h0M1294.5 520.5h0M1355.0 523.9h0M1309.4 512.5h0M1371.8 523.9h0M1291.7 507.0h0M1288.6 503.4h0M1202.4 516.4h0M1344.0 523.3h0M1283.6 512.5h0M1217.7 507.3h0M1459.3 527.4h0M1404.4 528.6h0M1413.3 522.4h0M1349.1 517.4h0M1322.4 527.0h0M1439.6 525.4h0M1283.6 527.5h0M1287.5 484.4h0M1245.2 503.7h0M1226.4 532.3h0M1307.6 521.0h0M1251.9 504.8h0M1278.5 530.7h0M1295.6 521.5h0M1528.1 526.3h0M1311.4 508.9h0M1462.6 528.2h0M1320.4 511.2h0M1221.8 514.9h0M1420.6 522.5h0M1251.4 515.9h0M1305.4 524.2h0M1367.8 521.2h0M1349.3 523.0h0M1217.2 519.8h0M1414.0 531.8h0M1232.0 526.7h0M1376.4 524.0h0M1428.6 521.8h0M1396.3 530.5h0M1297.7 515.7h0M1339.4 522.2h0M1291.7 511.1h0M1496.2 528.0h0M1311.9 517.1h0M1429.6 525.2h0M1253.7 517.8h0M1239.9 516.1h0M1270.7 506.8h0M1257.1 518.0h0M1295.4 518.8h0M1299.0 513.9h0M1338.1 522.1h0M1389.2 522.7h0M1221.4 528.9h0M1319.8 527.4h0M1340.1 516.5h0M1302.5 524.6h0M1619.6 529.3h0M1180.2 521.1h0M1389.9 530.0h0M1245.6 490.8h0M1357.6 516.7h0M1226.9 523.5h0M1437.2 529.4h0M1374.8 526.9h0M1334.8 515.0h0M1306.1 505.4h0M1286.0 506.9h0M1463.8 529.6h0M1208.9 507.6h0M1352.1 512.2h0M1266.5 529.5h0M1395.9 525.6h0M1196.5 520.2h0M1245.2 510.6h0M1350.9 522.5h0M1298.9 498.6h0M1372.6 520.0h0M1178.6 521.7h0M1240.6 527.2h0M1363.1 525.7h0M1214.9 522.9h0M1180.8 520.8h0M1264.9 520.4h0M1445.7 519.9h0M1338.3 527.3h0M1249.6 504.9h0M1295.3 483.5h0M1225.6 513.1h0M1177.6 509.4h0M1414.7 524.9h0M1580.8 524.7h0M1450.0 510.2h0M1360.3 523.2h0M1213.5 520.8h0M1285.8 522.6h0M1190.9 516.9h0M1314.4 500.5h0M1224.0 529.8h0M1270.9 499.8h0M1699.6 528.8h0M1283.6 507.0h0M1279.8 509.7h0M1290.1 524.0h0M1336.7 510.1h0M1544.6 525.5h0M1291.8 528.1h0M1450.8 524.2h0M1235.3 528.6h0M1279.5 513.7h0M1321.7 508.3h0M1303.0 530.4h0M1307.7 513.0h0M1289.0 505.7h0M1338.5 517.6h0M1234.3 519.9h0M1268.8 526.5h0M1295.1 515.5h0M1355.3 511.5h0M1253.7 526.2h0M1380.6 529.2h0M1327.3 510.2h0M1500.7 530.4h0M1190.8 522.1h0M1193.6 511.4h0M1282.1 519.8h0M1502.6 530.4h0M1401.9 510.7h0M1275.6 507.1h0M1175.9 508.6h0M1291.0 512.5h0M1440.7 524.4h0M1385.5 517.4h0M1303.1 523.9h0M1193.7 522.7h0M1237.6 498.8h0M1180.4 515.8h0M1260.0 500.9h0M1460.8 526.1h0M1338.9 524.6h0M1358.7 525.5h0M1345.7 523.9h0M1188.8 525.3h0M1274.9 530.4h0M1248.1 510.6h0M1526.2 530.6h0M1260.3 515.4h0M1251.2 509.4h0M1229.1 520.0h0M1307.9 502.5h0M1322.9 515.3h0M1346.4 515.8h0M1197.9 516.3h0M1318.6 525.6h0M1222.8 523.1h0M1403.1 521.2h0M1354.0 513.3h0M1278.8 500.2h0M1177.8 517.4h0M1550.8 531.5h0M1464.6 521.7h0M1294.9 515.1h0M1206.4 521.4h0M1300.5 521.3h0M1305.5 527.6h0M1228.4 524.2h0M1207.6 529.8h0M1332.6 530.0h0M1228.8 508.5h0M1305.1 523.4h0M1214.7 527.6h0M1461.5 525.5h0M1259.8 516.3h0M1311.1 515.5h0M1238.7 501.4h0M1279.7 514.9h0M1336.2 515.1h0M1280.9 514.4h0M1287.7 519.5h0M1385.3 515.9h0M1209.6 518.6h0M1202.9 521.8h0M1305.1 524.8h0M1387.9 507.0h0M1201.8 531.5h0M1596.7 530.4h0M1239.1 524.1h0M1317.1 500.9h0M1381.1 519.5h0M1288.6 514.9h0M1355.9 532.5h0M1352.1 524.9h0M1294.5 506.1h0M1176.7 521.7h0M1341.3 514.8h0M1263.7 501.7h0M1231.3 527.5h0M1294.5 508.2h0M1398.7 520.3h0M1390.8 516.2h0M1270.3 518.9h0M1320.5 521.1h0M1699.8 530.3h0M1405.7 526.2h0M1289.5 518.3h0M1413.3 529.0h0M1310.1 495.8h0M1253.6 507.9h0M1306.6 508.9h0M1234.4 523.5h0M1234.7 512.4h0M1236.3 513.3h0M1288.5 528.2h0M1330.8 522.7h0M1263.9 518.8h0M1206.2 517.7h0M1360.6 521.6h0M1296.4 501.0h0M1251.8 513.5h0M1325.1 522.3h0M1351.4 517.5h0M1409.6 527.9h0M1320.2 525.9h0M1388.7 522.6h0M1516.1 528.9h0M1194.0 515.7h0M1347.1 518.9h0M1244.6 490.5h0M1247.3 529.5h0M1319.1 516.8h0M1364.4 514.7h0M1290.6 507.2h0M1184.9 524.8h0M1303.9 500.7h0M1212.7 527.8h0M1428.9 523.5h0M1236.3 521.2h0M1233.2 510.8h0M1225.0 519.9h0M1412.7 526.8h0M1249.2 524.9h0M1358.5 526.9h0M1247.4 528.2h0M1177.7 528.4h0M1182.8 525.7h0M1421.6 525.9h0M1205.0 519.4h0M1353.5 524.5h0M1297.5 516.9h0M1302.9 516.4h0M1305.2 523.3h0M1233.2 505.8h0M1359.9 527.8h0M1236.1 525.0h0M1301.8 525.8h0M1263.5 524.4h0M1318.4 514.5h0M1361.4 514.5h0M1300.3 525.5h0M1196.0 520.0h0M1316.5 520.9h0M1224.9 503.4h0M1575.9 529.9h0M1273.1 517.1h0M1663.3 527.9h0M1380.2 521.0h0M1246.7 514.1h0M1247.7 514.3h0M1349.3 521.1h0M1192.2 530.1h0M1409.4 517.8h0M1412.1 522.7h0M1317.8 515.1h0M1392.9 529.0h0M1384.3 510.4h0M1279.5 500.7h0M1277.6 512.0h0M1430.2 527.0h0M1179.0 521.1h0M1194.3 523.5h0M1337.3 517.1h0M1366.8 524.1h0M1276.7 522.8h0M1358.1 500.7h0M1198.3 513.6h0M1289.3 513.6h0M1204.9 521.4h0M1214.0 517.1h0M1237.9 511.4h0M1276.5 506.4h0M1269.4 525.3h0M1318.9 501.3h0M1367.8 531.6h0M1336.9 510.4h0M1276.7 516.8h0M1369.5 525.5h0M1248.4 520.5h0M1359.1 527.7h0M1300.5 525.1h0M1270.1 506.3h0M1192.5 521.4h0M1247.1 526.3h0M1235.5 531.7h0M1238.3 526.3h0M1295.8 512.8h0M1284.9 515.9h0M1360.6 528.8h0M1333.3 517.5h0M1305.9 508.0h0M1390.3 524.6h0M1609.5 524.6h0M1203.7 504.4h0M1243.9 525.4h0M1276.5 517.1h0M1282.2 512.8h0M1404.9 529.9h0M1300.6 518.2h0M1265.5 519.0h0M1204.8 503.7h0M1215.8 523.8h0M1279.5 513.3h0M1264.5 517.9h0M1377.4 510.3h0M1386.5 517.0h0M1571.2 525.2h0M1335.6 523.7h0M1355.6 525.1h0M1264.0 527.5h0M1323.5 517.5h0M1423.6 516.8h0M1453.3 530.5h0M1537.2 526.5h0M1344.7 528.7h0M1176.3 522.0h0M1251.4 523.5h0M1323.3 517.5h0M1186.4 532.0h0M1260.2 529.4h0M1287.4 520.7h0M1326.4 513.2h0M1291.5 511.0h0M1388.2 524.2h0M1526.1 531.1h0M1451.7 526.2h0M1225.3 528.9h0M1230.4 512.2h0M1221.2 511.3h0M1512.1 525.0h0M1207.3 520.6h0M1347.7 509.5h0M1382.1 522.3h0M1344.9 526.3h0M1319.0 501.7h0M1404.1 523.9h0M1394.6 519.9h0M1206.7 525.2h0M1415.2 523.2h0M1343.9 526.7h0M1323.5 525.2h0M1262.9 491.7h0M1391.7 526.3h0M1424.6 526.6h0M1324.7 519.4h0M1286.5 517.7h0M1357.0 524.3h0M1584.4 528.1h0M1251.6 508.8h0M1237.9 496.9h0M1546.4 529.6h0M1378.5 516.1h0M1228.3 506.9h0M1220.4 520.2h0M1495.9 528.0h0M1426.1 527.0h0M1443.9 527.5h0M1240.1 526.8h0M1367.9 523.5h0M1373.2 526.0h0M1260.8 501.4h0M1286.1 523.1h0M1220.0 506.7h0M1287.8 527.7h0M1351.0 524.8h0M1308.9 527.3h0M1504.1 529.8h0M1190.6 515.8h0M1367.3 525.5h0M1400.9 529.9h0M1178.3 510.5h0M1240.0 506.6h0M1302.1 519.6h0M1363.8 526.3h0M1438.2 531.3h0M1202.9 522.8h0M1227.8 518.0h0M1270.2 514.2h0M1271.1 511.7h0M1419.7 521.2h0M1384.9 516.2h0M1205.5 510.8h0M1275.7 516.0h0M1377.5 528.0h0M1224.8 508.5h0M1299.7 509.0h0M1405.1 517.4h0M1337.8 505.7h0M1221.3 516.5h0M1313.4 523.9h0M1199.4 520.0h0M1355.6 530.2h0M1529.1 526.3h0M1345.4 523.7h0M1212.5 517.2h0M1302.9 516.3h0M1490.0 530.3h0M1211.0 517.7h0M1292.7 530.1h0M1209.2 519.1h0M1249.7 511.6h0M1405.9 527.9h0M1396.1 520.0h0M1244.6 514.7h0M1287.9 523.9h0M1192.7 527.2h0M1179.3 519.9h0M1180.1 522.6h0M1415.0 521.5h0M1298.4 518.6h0M1321.1 519.8h0M1341.4 525.5h0M1357.6 520.2h0M1659.5 528.7h0M1311.6 524.1h0M1280.7 524.4h0M1340.0 521.2h0M1473.0 525.7h0M1367.2 525.4h0M1274.4 519.9h0M1365.5 509.1h0M1239.2 515.6h0M1188.2 508.5h0M1575.7 532.1h0M1411.4 521.3h0M1203.3 523.8h0M1282.6 501.9h0M1182.4 520.3h0M1295.3 503.9h0M1426.6 514.5h0M1323.3 516.1h0M1733.6 530.8h0M1327.4 521.1h0M1277.0 509.0h0M1217.2 529.9h0M1417.0 517.7h0M1577.3 529.2h0M1310.8 516.7h0M1392.5 524.0h0M1186.7 510.7h0M1275.7 522.4h0M1292.4 530.0h0M1230.2 528.4h0M1212.7 526.5h0M1282.8 531.8h0M1367.0 524.6h0M1238.1 508.8h0M1189.4 520.3h0M1283.4 530.6h0M1396.8 513.2h0M1365.1 520.5h0M1299.2 527.3h0M1278.3 521.1h0M1529.5 529.0h0M1253.6 516.5h0M1254.9 523.7h0M1256.9 519.0h0M1187.4 514.5h0M1240.9 518.8h0M1443.3 528.4h0M1245.6 518.1h0M1412.4 515.7h0M1431.2 526.2h0M1235.9 523.2h0M1272.1 526.7h0M1380.0 526.7h0M1337.9 514.9h0M1237.4 531.5h0M1429.6 528.0h0M1352.2 506.4h0M1293.0 501.1h0M1368.3 513.3h0M1240.5 505.2h0M1242.8 496.2h0M1202.7 513.0h0M1376.1 512.3h0M1237.8 516.0h0M1515.2 530.0h0M1224.6 522.8h0M1254.6 511.5h0M1292.6 517.3h0M1354.7 518.4h0M1191.4 519.8h0M1216.4 525.1h0M1274.4 504.0h0M1210.0 526.4h0M1327.7 519.6h0M1468.3 523.2h0M1352.4 512.9h0M1411.3 518.8h0M1427.5 522.3h0M1195.8 513.8h0M1253.3 523.8h0M1292.6 509.3h0M1291.8 510.0h0M1328.3 510.8h0M1218.6 502.2h0M1258.9 512.8h0M1535.2 529.7h0M1197.5 528.3h0M1246.5 523.6h0M1257.2 527.3h0M1341.0 507.3h0M1250.7 511.2h0M1390.4 529.5h0M1277.9 515.8h0M1193.4 515.0h0M1230.0 522.9h0M1297.1 527.9h0M1453.7 525.9h0M1243.8 529.4h0M1346.3 526.0h0M1398.8 524.7h0M1336.5 520.7h0M1297.3 516.5h0M1483.4 521.2h0M1197.9 516.3h0M1309.9 521.4h0M1356.7 524.8h0M1209.7 529.8h0M1178.0 513.2h0M1228.7 522.2h0M1199.0 527.3h0M1353.2 517.2h0M1195.5 524.9h0M1293.2 508.6h0M1375.1 516.6h0M1355.5 524.2h0M1299.4 520.4h0M1317.9 526.2h0M1383.3 532.6h0M1572.7 532.6h0M1192.0 525.9h0M1586.1 524.2h0M1261.6 498.5h0M1391.6 527.7h0M1308.0 517.4h0M1303.7 521.1h0M1291.6 489.2h0M1347.5 525.8h0M1304.5 516.8h0M1339.3 519.5h0M1215.0 518.6h0M1337.8 510.6h0M1387.6 525.0h0M1441.8 523.7h0M1376.9 515.2h0M1190.6 519.4h0M1340.6 527.6h0M1496.3 526.0h0M1204.4 523.2h0M1283.4 504.7h0M1528.7 525.4h0M1241.2 496.1h0M1315.5 525.5h0M1259.5 488.8h0M1357.6 516.4h0M1287.6 528.2h0M1403.7 524.6h0M1351.1 521.2h0M1379.8 505.8h0M1229.9 516.8h0M1302.9 514.3h0M1209.5 510.0h0M1411.1 523.3h0M1221.9 513.5h0M1312.3 522.9h0M1319.4 511.0h0M1392.5 519.1h0M1333.1 515.2h0M1321.0 502.6h0M1295.1 522.7h0M1320.2 519.7h0M1358.3 526.7h0M1314.2 523.1h0M1346.8 511.7h0M1208.1 516.9h0M1253.5 519.7h0M1237.7 514.2h0M1396.4 520.5h0M1259.2 523.3h0M1251.9 523.1h0M1498.0 527.0h0M1539.6 526.3h0M1188.9 523.9h0M1245.3 516.7h0M1268.7 516.5h0M1198.0 529.7h0M1425.7 526.9h0M1386.0 524.4h0M1294.7 517.2h0M1441.5 527.1h0M1200.9 510.4h0M1438.4 515.1h0M1438.3 519.6h0M1425.8 524.0h0M1321.1 500.3h0M1219.4 520.5h0M1368.2 525.3h0M1234.0 518.1h0M1408.2 529.5h0M1204.4 521.1h0M1344.2 517.2h0M1232.5 531.9h0M1188.3 523.2h0M1338.0 515.4h0M1295.8 514.4h0M1217.7 523.1h0M1296.4 516.1h0M1316.7 522.9h0M1177.7 513.6h0M1368.5 531.9h0M1284.7 492.0h0M1236.1 516.9h0M1503.7 532.0h0M1329.7 518.7h0M1269.1 517.4h0M1237.1 521.8h0M1388.3 519.8h0M1189.7 525.0h0M1176.0 530.1h0M1291.8 516.1h0M1289.1 516.3h0M1307.9 513.3h0M1330.6 516.0h0M1213.4 527.8h0M1437.3 519.1h0M1182.8 519.5h0M1360.8 529.8h0M1245.2 500.3h0M1393.9 527.5h0M1311.4 514.9h0M1192.1 522.0h0M1351.0 511.9h0M1191.9 502.7h0M1377.3 525.8h0M1664.5 530.9h0M1515.4 526.0h0M1276.7 501.6h0M1191.6 505.4h0M1367.5 527.5h0M1517.1 525.4h0M1288.3 522.4h0M1282.0 510.3h0M1205.2 516.3h0M1375.1 530.4h0M1367.9 528.7h0M1353.2 516.3h0M1376.9 524.3h0M1310.5 526.0h0M1418.3 528.2h0M1199.3 523.4h0M1405.1 526.6h0M1259.0 516.4h0M1190.6 520.5h0M1397.0 528.0h0M1224.3 527.1h0M1288.0 517.8h0M1340.2 523.6h0M1370.4 522.0h0M1185.6 507.0h0M1326.6 529.7h0M1344.9 529.9h0M1225.7 515.1h0M1332.7 525.0h0M1228.1 525.5h0M1466.2 526.3h0M1245.3 513.0h0M1395.6 526.2h0M1591.0 528.4h0M1330.2 519.2h0M1389.7 525.9h0M1336.7 514.8h0M1366.2 526.9h0M1264.5 502.0h0M1262.5 501.8h0M1330.2 505.2h0M1414.2 519.0h0M1228.1 526.4h0M1305.0 523.4h0M1294.8 520.8h0M1245.1 482.9h0M1258.4 517.2h0M1338.0 501.7h0M1366.2 521.2h0M1326.1 517.1h0M1300.8 521.2h0M1284.6 519.0h0M1669.5 527.2h0M1313.6 516.4h0M1329.6 531.1h0M1185.6 528.4h0M1401.1 514.7h0M1252.9 514.0h0M1295.1 520.1h0M1249.1 527.5h0M1397.5 526.2h0M1700.4 527.9h0M1293.3 523.8h0M1239.8 524.2h0M1337.7 521.9h0M1453.5 525.5h0M1207.0 514.2h0M1563.1 529.1h0M1213.2 515.8h0M1327.4 520.1h0M1308.0 504.9h0M1223.8 520.5h0M1247.5 512.7h0M1263.4 518.9h0M1281.2 516.5h0M1202.4 519.1h0M1383.9 526.8h0M1454.3 529.5h0M1284.2 520.5h0M1440.1 520.3h0M1212.9 499.7h0M1288.3 526.3h0M1425.4 520.6h0M1222.5 519.3h0M1201.1 516.6h0M1181.3 522.1h0M1376.5 515.3h0M1422.4 527.4h0M1193.4 520.3h0M1426.2 527.6h0M1259.9 519.9h0M1264.5 531.7h0M1290.3 494.4h0M1253.0 496.9h0M1401.4 529.0h0M1433.6 532.2h0M1434.2 517.4h0M1374.6 527.9h0M1235.1 514.0h0M1316.3 517.9h0M1424.1 521.2h0M1424.6 531.7h0M1272.8 519.3h0M1185.5 523.6h0M1195.8 531.0h0M1180.5 521.3h0M1188.5 518.6h0M1235.3 523.7h0M1281.5 530.5h0M1246.1 532.2h0M1320.4 519.1h0M1242.4 509.0h0M1203.7 515.7h0M1223.1 526.3h0M1328.5 513.4h0M1295.2 489.3h0M1324.2 516.1h0M1231.8 517.7h0M1286.2 519.8h0M1208.9 513.9h0M1290.4 513.5h0M1320.4 528.9h0M1313.6 522.7h0M1240.2 518.2h0M1396.7 523.4h0M1304.4 525.2h0M1329.1 521.0h0M1331.4 525.6h0M1238.2 525.3h0M1303.6 525.1h0M1304.1 518.9h0M1287.0 508.0h0M1523.3 528.6h0M1218.7 524.2h0M1296.7 523.3h0M1232.4 527.5h0M1329.4 506.6h0M1358.5 526.6h0M1269.1 496.3h0M1261.0 522.1h0M1368.3 509.8h0M1341.6 522.6h0M1240.5 526.1h0M1448.2 519.2h0M1336.3 528.7h0M1284.0 511.4h0M1186.3 524.8h0M1352.7 516.5h0M1237.1 498.4h0M1680.9 527.1h0M1337.8 518.0h0M1323.7 513.6h0M1449.1 523.1h0M1249.4 512.4h0M1345.1 509.5h0M1351.3 522.4h0M1490.3 521.4h0M1192.3 511.6h0M1347.9 524.4h0M1178.9 531.4h0M1327.7 519.5h0M1239.8 522.4h0M1238.3 515.9h0M1401.5 527.0h0M1194.2 506.3h0M1273.5 501.5h0M1313.2 526.8h0M1223.0 512.7h0M1262.7 514.2h0M1228.8 521.6h0M1377.0 525.8h0M1215.2 514.8h0M1216.9 506.3h0M1251.0 513.8h0M1248.4 522.7h0M1248.0 523.9h0M1428.8 529.7h0M1579.9 530.0h0M1422.7 517.6h0M1419.6 531.2h0M1239.0 512.2h0M1211.9 523.2h0M1197.7 505.9h0M1335.4 523.7h0M1337.4 506.0h0M1277.8 504.0h0M1501.2 523.9h0M1219.1 521.8h0M1210.2 511.0h0M1264.6 521.4h0M1205.5 525.1h0M1187.5 510.1h0M1180.4 521.1h0M1230.6 524.7h0M1224.8 529.9h0M1316.7 508.0h0M1444.9 526.9h0M1564.9 529.9h0M1206.3 521.1h0M1347.5 511.8h0M1363.5 515.3h0M1233.7 525.9h0M1194.3 522.3h0M1288.5 515.0h0M1264.3 512.7h0M1233.0 490.2h0M1225.1 521.1h0M1404.3 517.1h0M1557.1 524.5h0M1282.8 519.1h0M1262.4 528.3h0M1451.9 519.5h0M1293.0 509.9h0M1261.1 511.1h0M1236.4 519.1h0M1222.5 527.5h0M1272.3 512.3h0M1301.9 526.9h0M1587.3 526.1h0M1205.0 526.0h0M1187.6 528.3h0M1247.4 518.6h0M1330.0 519.6h0M1341.8 527.6h0M1398.5 526.8h0M1462.7 524.8h0M1227.9 512.1h0M1191.7 511.2h0M1241.1 520.7h0M1479.6 526.9h0M1197.4 521.1h0M1300.2 514.8h0M1560.6 528.2h0M1192.1 518.8h0M1250.3 518.4h0M1311.1 525.3h0M1438.1 521.1h0M1266.2 523.5h0M1184.0 515.4h0M1348.8 516.2h0M1253.1 507.1h0M1345.9 518.6h0M1433.8 520.3h0M1281.2 513.4h0M1294.7 517.5h0M1179.2 522.2h0M1223.3 500.9h0M1366.2 521.9h0M1348.6 515.8h0M1311.5 515.8h0M1423.3 518.8h0M1333.6 522.1h0M1343.0 528.5h0M1282.1 496.2h0M1258.7 527.8h0M1225.4 516.7h0M1523.0 526.8h0M1369.3 521.6h0M1213.0 522.7h0M1378.9 523.8h0M1338.3 531.5h0M1193.9 527.8h0M1443.7 524.8h0M1338.7 529.5h0M1245.7 524.9h0M1207.6 516.4h0M1304.1 504.2h0M1264.0 528.6h0M1360.0 526.4h0M1289.9 515.2h0M1296.6 524.7h0M1298.3 506.3h0M1232.9 518.1h0M1242.1 515.4h0M1279.3 518.0h0M1226.2 504.7h0M1290.6 509.2h0M1301.1 526.6h0M1181.8 517.6h0M1372.4 524.7h0M1434.5 514.5h0M1402.7 527.0h0M1231.7 520.8h0M1470.3 526.5h0M1333.4 523.1h0M1245.2 510.5h0M1279.0 508.4h0M1226.4 504.9h0M1450.5 529.5h0M1353.5 522.9h0M1264.1 488.1h0M1191.6 530.9h0M1442.0 528.5h0M1425.9 521.6h0M1690.2 527.9h0M1226.8 517.0h0M1275.6 514.4h0M1287.7 508.1h0M1245.1 520.1h0M1269.6 530.3h0M1392.7 524.7h0M1216.1 525.0h0M1265.6 509.8h0M1405.7 519.3h0M1331.2 525.0h0M1414.6 527.7h0M1380.1 523.0h0M1711.0 529.1h0M1484.8 531.8h0M1276.5 522.4h0M1270.4 524.2h0M1191.8 519.4h0M1326.9 521.1h0M1491.2 520.7h0M1317.4 504.5h0M1263.0 525.7h0M1389.8 523.8h0M1296.9 517.1h0M1385.5 515.4h0M1264.9 513.5h0M1231.7 525.0h0M1259.8 514.6h0M1271.5 495.7h0M1529.1 530.2h0M1291.7 514.9h0M1189.0 525.9h0M1357.7 509.4h0M1303.7 518.2h0M1351.1 510.8h0M1193.4 516.2h0M1270.1 504.0h0M1294.7 520.5h0M1259.9 527.0h0M1260.5 511.9h0M1328.7 531.1h0M1686.5 532.0h0M1368.0 527.8h0M1182.2 529.3h0M1438.9 531.0h0M1338.1 516.6h0M1324.0 525.8h0M1220.9 516.6h0M1307.0 521.4h0M1268.9 511.0h0M1307.3 524.7h0M1224.7 509.8h0M1425.0 515.9h0M1234.1 518.7h0M1437.5 526.7h0M1386.9 522.1h0M1388.4 506.2h0M1463.3 518.7h0M1307.0 524.8h0" stroke="#0c0c0c" stroke-width="3.2" stroke-linecap="round" stroke-linejoin="round" fill="none"/>
<line x1="1263.2" y1="92.7" x2="1263.2" y2="496.8" stroke="#ff0a0a" stroke-width="3.1"/>
<path d="M1174.9 165.2h5.0M1737.4 165.2h-5.0M1174.9 238.8h5.0M1737.4 238.8h-5.0M1174.9 312.5h5.0M1737.4 312.5h-5.0M1174.9 386.1h5.0M1737.4 386.1h-5.0M1174.9 459.8h5.0M1737.4 459.8h-5.0M1231.2 92.7v5.0M1231.2 533.5v-5.0M1343.7 92.7v5.0M1343.7 533.5v-5.0M1456.2 92.7v5.0M1456.2 533.5v-5.0M1568.7 92.7v5.0M1568.7 533.5v-5.0M1681.2 92.7v5.0M1681.2 533.5v-5.0" stroke="#838383" stroke-width="1.5" fill="none"/>
<rect x="1174.9" y="92.7" width="562.5" height="440.8" fill="none" stroke="#838383" stroke-width="2"/>
<text transform="translate(1140.73,174.50) scale(0.9850,1)" font-size="24.50" class="sf" fill="#4a4a4a">20</text>
<text transform="translate(1123.12,248.15) scale(0.9850,1)" font-size="24.50" class="sf" fill="#4a4a4a">18.1</text>
<text transform="translate(1122.39,321.80) scale(0.9850,1)" font-size="24.50" class="sf" fill="#4a4a4a">15.6</text>
<text transform="translate(1123.12,395.45) scale(0.9850,1)" font-size="24.50" class="sf" fill="#4a4a4a">12.1</text>
<text transform="translate(1135.18,469.10) scale(0.9850,1)" font-size="24.50" class="sf" fill="#4a4a4a">6.1</text>
<text transform="translate(1132.65,542.20) scale(0.9850,1)" font-size="24.50" class="sf" fill="#4a4a4a">-40</text>
<text transform="translate(1213.43,563.20) scale(1.0172,1)" font-size="24.50" class="sf" fill="#4a4a4a">-20</text>
<text transform="translate(1326.01,563.20) scale(1.0398,1)" font-size="24.50" class="sf" fill="#4a4a4a">-10</text>
<text transform="translate(1447.32,563.20) scale(1.2051,1)" font-size="24.50" class="sf" fill="#4a4a4a">0</text>
<text transform="translate(1553.64,563.20) scale(1.1335,1)" font-size="24.50" class="sf" fill="#4a4a4a">10</text>
<text transform="translate(1666.88,563.20) scale(1.1107,1)" font-size="24.50" class="sf" fill="#4a4a4a">20</text>
<text class="sf"><tspan x="1400.87" y="589.90" font-size="27.00" textLength="46.67" lengthAdjust="spacingAndGlyphs" fill="#4a4a4a">ERV</tspan> <tspan x="1453.58" y="589.90" font-size="27.00" textLength="56.93" lengthAdjust="spacingAndGlyphs" fill="#4a4a4a">[m/s]</tspan></text>
<text class="sf" transform="translate(1115.30,0) rotate(-90)"><tspan x="-520.74" y="0.00" font-size="27.00" textLength="121.05" lengthAdjust="spacingAndGlyphs" fill="#4a4a4a">normalized</tspan> <tspan x="-391.77" y="0.00" font-size="27.00" textLength="110.81" lengthAdjust="spacingAndGlyphs" fill="#4a4a4a">amplitude</tspan> <tspan x="-277.54" y="0.00" font-size="27.00" textLength="49.11" lengthAdjust="spacingAndGlyphs" fill="#4a4a4a">after</tspan> <tspan x="-222.26" y="0.00" font-size="27.00" textLength="67.75" lengthAdjust="spacingAndGlyphs" fill="#4a4a4a">DPCA</tspan> <tspan x="-150.49" y="0.00" font-size="27.00" textLength="46.24" lengthAdjust="spacingAndGlyphs" fill="#4a4a4a">[dB]</tspan></text>
<path d="M1847.8 165.2H2410.3M1847.8 238.8H2410.3M1847.8 312.5H2410.3M1847.8 386.1H2410.3M1847.8 459.8H2410.3M1904.1 92.7V533.5M2016.6 92.7V533.5M2129.1 92.7V533.5M2241.6 92.7V533.5M2354.1 92.7V533.5" stroke="#e7e7e7" stroke-width="1.3" fill="none"/>
<path d="M1924.0 460.2h0M1932.0 482.5h0M1907.0 416.8h0M1933.2 109.1h0M1935.1 440.8h0M1921.1 479.3h0M1930.7 325.4h0M1936.9 392.4h0M1932.5 455.7h0M1948.6 480.0h0M1925.9 272.8h0M1912.9 438.9h0M1922.2 500.2h0M1932.6 138.3h0M1932.4 326.4h0M1923.3 400.6h0M1933.3 450.6h0M1917.8 399.0h0M1931.5 107.5h0M1950.6 422.5h0M1930.9 314.4h0M1932.6 428.4h0M1910.9 427.6h0M1938.1 377.0h0M1925.2 315.3h0M1933.8 280.2h0M1925.9 444.9h0M1929.9 389.3h0M1928.4 250.0h0M1928.2 358.3h0M1915.4 471.8h0M1923.7 459.4h0M1913.4 491.3h0M1935.1 303.3h0M1926.8 321.8h0M1932.3 413.3h0M1927.6 362.6h0M1933.5 181.5h0M1935.7 321.8h0M1939.9 417.6h0M1926.2 334.5h0M1934.3 310.7h0M1933.8 430.5h0M1928.1 247.5h0M1923.9 287.1h0M1931.8 338.3h0M1932.1 505.9h0M1933.5 336.4h0M1933.3 366.6h0M1902.3 375.0h0M1941.7 430.3h0M1945.9 358.9h0M1927.2 422.8h0M1911.8 459.5h0M1935.1 359.9h0M1931.6 200.4h0M1935.8 357.1h0M1936.4 431.7h0M1933.1 396.6h0M1928.0 401.2h0M1943.7 488.3h0M1930.7 402.7h0M1927.1 313.2h0M1930.8 322.8h0M1917.0 377.3h0M1945.7 474.4h0M1929.9 288.9h0M1929.5 199.6h0M1926.9 423.1h0M1925.1 476.6h0M1925.1 454.8h0M1939.3 413.5h0M1934.1 347.1h0M1939.5 383.7h0M1929.8 411.1h0M1929.6 265.8h0M1914.0 503.5h0M1931.3 353.5h0M1931.8 336.7h0M1930.1 334.3h0M1939.7 287.7h0M1932.7 481.1h0M1937.1 443.1h0M1926.0 361.3h0M1921.4 441.4h0M1930.2 159.5h0M1928.6 384.1h0M1923.6 452.2h0M1927.4 271.1h0M1942.3 485.4h0M1929.9 329.2h0M1931.3 348.8h0M1950.4 494.7h0M1930.8 281.7h0M1924.8 328.5h0M1946.0 499.7h0M1930.3 171.4h0M1935.4 377.0h0M1929.1 298.6h0M1925.5 432.6h0M1935.8 432.9h0M1942.6 379.0h0M1961.3 425.7h0M1924.6 271.3h0M1957.3 494.9h0M1937.2 479.3h0M1941.0 508.9h0M1930.4 422.6h0M1932.5 337.4h0M1933.3 371.8h0M2039.9 505.1h0M1927.0 333.3h0M1925.1 475.1h0M1935.6 447.1h0M1918.4 470.6h0M1940.0 457.8h0M1930.1 388.8h0M1930.1 403.0h0M1996.4 471.7h0M1929.3 385.8h0M1971.8 507.4h0M1926.2 336.7h0M1914.2 500.1h0M1936.5 435.8h0M1942.3 435.5h0M1930.1 319.9h0M1925.5 437.5h0M1941.4 447.9h0M1923.8 490.1h0M1925.4 343.6h0M1932.9 421.6h0M1932.2 238.3h0M1916.7 384.7h0M1928.0 338.4h0M1930.2 359.0h0M1944.7 468.2h0M1910.0 484.4h0M1938.7 314.3h0M1924.1 403.4h0M1948.4 426.1h0M1932.4 219.2h0M1939.2 386.8h0M1923.7 324.4h0M1911.1 469.7h0M1907.4 482.4h0M1932.8 450.8h0M1936.7 361.0h0M2036.4 504.4h0M1932.5 351.0h0M1907.6 499.8h0M1930.2 478.5h0M1925.8 434.0h0M1934.9 483.4h0M1929.2 171.0h0M1930.3 445.3h0M1918.3 416.2h0M1939.3 468.3h0M1923.9 424.7h0M1932.6 136.9h0M1939.8 450.2h0M1932.5 445.5h0M1928.9 231.1h0M1939.7 482.0h0M1931.3 314.4h0M1931.1 375.2h0M1931.1 115.0h0M1937.1 318.1h0M1931.4 391.2h0M1920.9 422.7h0M1938.5 426.9h0M1968.4 511.0h0M1933.0 398.5h0M1942.7 507.2h0M1916.6 497.1h0M1928.1 399.8h0M1989.8 484.8h0M1928.8 394.3h0M1957.1 391.8h0M1958.5 496.5h0M1945.7 377.6h0M1922.1 328.2h0M1947.3 459.2h0M1929.3 482.9h0M1940.0 417.6h0M1927.7 336.9h0M1943.7 428.2h0M1910.3 395.8h0M1931.3 407.6h0M1929.7 409.2h0M1929.4 399.4h0M1928.9 291.9h0M1934.4 453.0h0M1933.3 264.9h0M1913.9 288.2h0M1948.2 475.0h0M1971.5 500.8h0M1926.9 405.6h0M1926.2 380.9h0M1926.7 403.8h0M1919.1 386.9h0M1926.9 318.4h0M1863.5 447.7h0M1928.2 359.8h0M1924.0 330.5h0M1926.1 355.0h0M1915.0 453.0h0M1934.0 363.1h0M1928.8 273.6h0M1929.2 473.0h0M1915.5 470.2h0M1932.4 354.8h0M1939.1 438.8h0M1942.8 505.1h0M1918.3 371.6h0M1934.1 393.4h0M1912.2 442.2h0M1937.0 472.3h0M1926.2 386.8h0M1912.5 452.4h0M1946.3 286.4h0M1939.2 474.6h0M1935.7 475.2h0M1909.7 483.8h0M1932.4 504.9h0M1948.1 503.8h0M1939.2 392.9h0M1925.1 400.4h0M1862.7 503.2h0M1951.1 463.7h0M1936.0 443.6h0M1932.6 437.1h0M1944.3 446.2h0M1890.2 500.3h0M1930.9 452.4h0M1919.3 352.9h0M1934.4 472.6h0M1928.8 357.3h0M1946.2 462.4h0M1914.4 350.7h0M1926.3 346.5h0M1887.3 498.1h0M1958.4 494.0h0M1922.8 470.7h0M1985.1 504.3h0M1968.7 506.5h0M2049.3 503.6h0M1906.7 472.4h0M1914.2 360.0h0M1930.9 418.8h0M1931.1 307.3h0M1928.6 326.4h0M1926.8 457.5h0M1931.5 443.8h0M1914.8 502.5h0M1930.7 351.1h0M1922.1 429.8h0M1923.7 477.9h0M1935.2 405.6h0M1932.5 415.4h0M1937.3 286.5h0M1944.6 496.0h0M1968.1 498.5h0M1937.1 481.9h0M1936.1 453.7h0M1907.2 457.1h0M1912.1 503.4h0M1939.4 428.1h0M1928.6 247.6h0M1933.2 467.1h0M1937.3 374.4h0M1935.3 337.8h0M1925.7 283.0h0M1929.2 391.5h0M1986.9 509.6h0M1928.2 347.2h0M1932.4 395.2h0M1928.5 232.9h0M1943.8 453.7h0M1930.2 464.4h0M1921.3 437.9h0M1931.1 251.4h0M1928.0 336.7h0M1931.2 210.6h0M1931.3 341.5h0M1925.8 491.5h0M1933.3 472.9h0M1929.7 206.2h0M1938.9 496.5h0M1954.4 490.6h0M1927.8 334.5h0M1917.1 448.1h0M1949.6 479.6h0M1931.0 317.2h0M1911.2 440.9h0M1932.7 376.0h0M1932.1 398.7h0M1926.6 412.9h0M1935.2 392.7h0M1933.3 239.3h0M1933.1 374.7h0M1929.4 232.9h0M1946.5 436.2h0M1925.1 437.3h0M1929.8 422.8h0M1933.9 506.6h0M1918.3 454.3h0M1950.4 392.9h0M1940.7 332.8h0M1913.1 475.1h0M1927.6 357.5h0M1935.5 388.4h0M1931.5 410.1h0M1930.1 264.7h0M1926.7 299.5h0M1936.1 480.8h0M1896.4 486.8h0M1928.8 396.2h0M1938.5 423.4h0M1958.2 511.2h0M1928.2 223.2h0M1927.5 175.2h0M1937.4 392.0h0M1931.7 233.3h0M1929.1 367.4h0M1952.2 510.3h0M1934.3 385.8h0M1924.5 402.2h0M1927.8 339.7h0M1945.3 370.3h0M1927.8 458.5h0M1937.3 485.4h0M1934.4 209.6h0M1926.1 371.4h0M1929.9 396.7h0M1933.7 157.0h0M1909.6 486.7h0M1979.4 509.1h0M1923.3 436.4h0M1919.9 471.8h0M1953.1 374.8h0M1923.7 264.8h0M2008.3 509.6h0M1938.6 275.7h0M1921.7 439.2h0M1929.0 381.4h0M1924.2 373.7h0M1926.6 368.9h0M1932.9 313.3h0M1908.5 472.2h0M1915.0 455.7h0M1916.2 433.7h0M1933.8 427.7h0M1926.0 370.2h0M1928.6 500.3h0M1923.3 461.0h0M1934.4 314.7h0M1942.2 473.1h0M1929.1 484.9h0M1929.9 271.9h0M1938.4 407.8h0M1929.3 344.7h0M1938.9 373.5h0M1958.3 443.6h0M1960.4 388.0h0M1926.0 458.8h0M1926.1 311.8h0M1929.0 389.4h0M1932.5 413.0h0M1928.5 405.2h0M1934.8 350.0h0M1909.0 448.9h0M1926.0 408.9h0M1929.4 336.0h0M1936.2 295.7h0M1906.3 457.3h0M1905.8 488.8h0M1927.7 271.4h0M1924.8 470.8h0M1877.1 507.9h0M1928.1 364.8h0M1895.0 444.7h0M1926.6 450.2h0M1932.3 430.2h0M1933.4 197.8h0M1910.7 371.2h0M1931.2 351.6h0M1933.5 423.9h0M1943.0 470.3h0M1931.5 294.4h0M1935.8 392.5h0M1950.8 489.8h0M1926.5 444.3h0M1930.9 459.1h0M1930.3 265.4h0M1930.6 245.0h0M1924.5 437.3h0M1925.7 378.7h0M1930.2 315.6h0M2064.3 511.3h0M1931.9 227.2h0M1956.6 491.9h0M1927.5 406.0h0M1930.1 381.6h0M1931.4 310.6h0M1933.3 443.0h0M1943.8 457.1h0M1930.9 318.2h0M1925.5 359.7h0M1932.1 346.9h0M1923.9 260.2h0M1933.8 338.4h0M1937.3 475.6h0M1930.6 410.4h0M1925.0 404.7h0M1930.8 447.1h0M1929.7 330.2h0M1929.5 308.2h0M1917.0 411.3h0M1933.2 403.5h0M1927.8 392.6h0M1924.9 448.4h0M1927.0 436.5h0M1929.3 399.6h0M1910.5 483.4h0M1935.2 365.0h0M1925.6 301.2h0M1924.9 487.0h0M1920.6 500.0h0M1939.8 425.0h0M1931.9 412.0h0M1933.1 313.4h0M1911.5 505.0h0M1935.7 176.9h0M1927.2 397.4h0M1930.0 277.2h0M1932.1 229.3h0M1924.0 376.0h0M1909.4 478.0h0M1928.4 392.1h0M1970.8 497.0h0M1915.8 441.1h0M1922.1 430.1h0M1876.2 481.7h0M1928.2 353.0h0M1909.3 403.7h0M1919.5 501.5h0M1942.9 381.8h0M1914.2 472.5h0M1928.1 461.6h0M1946.8 396.8h0M1912.3 479.4h0M1920.9 357.5h0M1956.8 477.8h0M1932.4 356.0h0M1937.6 389.3h0M1928.9 244.1h0M1941.3 413.0h0M1917.2 381.0h0M1938.2 333.9h0M1926.4 480.3h0M1927.7 343.8h0M1938.2 412.3h0M1931.7 202.3h0M1932.4 272.1h0M1929.1 303.0h0M1939.5 361.2h0M1920.7 330.5h0M1884.2 499.9h0M1925.5 449.1h0M1931.9 253.8h0M1930.4 316.2h0M1932.8 468.4h0M1923.7 449.4h0M1927.0 473.7h0M1949.0 473.9h0M1933.4 404.6h0M1934.8 261.3h0M1950.9 503.7h0M1931.0 470.4h0M1937.2 452.7h0M1927.4 369.7h0M1946.9 504.2h0M1911.5 407.9h0M1947.4 466.9h0M1932.9 269.4h0M1929.0 318.6h0M1934.5 156.5h0M1978.3 484.4h0M1935.6 359.7h0M1929.8 168.1h0M1930.2 348.7h0M1936.2 227.3h0M1955.6 390.8h0M1912.0 468.1h0M1931.4 196.9h0M1939.3 488.3h0M1872.7 511.3h0M1984.0 492.8h0M1937.2 450.5h0M1915.1 477.8h0M1934.2 435.5h0M1936.6 479.3h0M1908.3 509.5h0M1928.1 239.8h0M1928.4 473.9h0M1937.5 347.4h0M1934.6 330.1h0M1927.9 299.7h0M1935.8 294.6h0M1934.6 360.4h0M1928.5 252.2h0M1939.3 466.8h0M1937.0 465.0h0M1929.6 192.8h0M1924.7 449.6h0M1901.8 503.0h0M1930.1 273.6h0M1933.9 450.8h0M1932.9 311.3h0M1928.4 324.4h0M1940.6 401.9h0M1934.2 335.2h0M1931.0 404.6h0M1912.1 424.2h0M1936.5 349.3h0M1933.4 462.7h0M1920.2 492.7h0M1930.1 283.7h0M1936.8 446.8h0M1936.6 421.7h0M1930.9 464.1h0M1937.0 294.8h0M1926.8 482.1h0M1921.4 429.0h0M1932.0 168.7h0M1913.6 492.4h0M1929.9 389.1h0M1927.9 424.7h0M1925.5 328.4h0M1922.6 493.0h0M1917.4 478.0h0M1929.4 324.6h0M1938.9 472.5h0M1919.9 453.1h0M1926.0 398.9h0M1931.6 167.2h0M1929.8 306.6h0M1927.8 392.9h0M1930.9 243.6h0M1897.3 497.9h0M1893.6 413.3h0M1927.9 317.8h0M1944.0 490.2h0M1920.8 440.5h0M1927.0 436.1h0M1933.3 488.5h0M1937.9 473.8h0M1920.0 490.9h0M1928.1 216.7h0M1925.2 429.1h0M1905.2 457.7h0M1928.1 314.6h0M1929.1 347.4h0M1932.2 350.2h0M1927.7 283.5h0M1917.9 430.8h0M1928.7 231.6h0M1931.0 445.0h0M1926.1 360.1h0M1934.5 229.4h0M1932.2 497.6h0M1934.3 285.4h0M1916.5 360.8h0M1923.6 363.8h0M1940.1 382.6h0M1933.7 392.1h0M1921.9 439.1h0M1937.8 425.2h0M1909.6 437.0h0M1934.9 433.0h0M1926.1 452.1h0M1916.8 486.8h0M1925.5 415.4h0M1931.4 362.4h0M1934.6 437.9h0M1926.1 437.2h0M1923.3 510.5h0M1945.2 498.9h0M1932.8 463.6h0M1959.2 478.4h0M1938.6 502.3h0M2024.0 492.8h0M1937.4 363.1h0M1936.3 372.2h0M1931.0 238.1h0M1913.6 481.7h0M1926.7 303.3h0M1956.3 463.5h0M1928.5 449.5h0M1967.9 489.7h0M1933.6 414.1h0M1940.7 360.0h0M1933.6 370.4h0M1927.8 304.9h0M1934.7 110.1h0M1934.2 209.9h0M1938.9 432.7h0M1944.8 457.7h0M1948.8 440.2h0M1930.2 337.8h0M1939.0 391.8h0M1916.5 428.5h0M1927.6 456.1h0M1892.5 509.6h0M1927.9 241.7h0M1927.5 163.2h0M1928.1 451.9h0M1931.3 109.9h0M1925.1 427.1h0M1924.5 399.7h0M1941.6 477.9h0M1928.4 424.6h0M1918.3 440.4h0M1924.5 388.0h0M1928.6 330.2h0M1948.1 490.4h0M1917.5 508.6h0M1923.0 502.3h0M1930.5 419.4h0M1927.8 374.6h0M1926.7 469.9h0M1928.5 370.7h0M1928.3 393.2h0M1932.2 452.0h0M1936.0 373.9h0M1934.1 288.6h0M1936.7 332.1h0M1941.5 506.3h0M1896.1 509.3h0M1933.4 448.8h0M1921.4 474.0h0M1932.9 272.0h0M1926.2 386.8h0M1937.7 410.5h0M1923.2 482.1h0M1926.7 380.0h0M1938.7 488.8h0M1933.9 373.8h0M1920.2 403.9h0M1929.4 298.8h0M1928.7 379.9h0M1942.3 477.5h0M1917.9 337.3h0M1939.6 306.8h0M1931.3 210.5h0M1928.6 410.4h0M1937.6 399.9h0M1932.8 419.4h0M1899.8 479.8h0M1939.0 498.5h0M1930.0 476.0h0M1935.8 474.2h0M1936.3 481.1h0M1927.5 315.7h0M1934.2 346.0h0M1934.7 430.7h0M1938.2 456.6h0M1926.3 427.1h0M1930.0 334.5h0M1892.0 483.3h0M1934.7 485.4h0M1932.2 248.1h0M1897.6 506.4h0M1937.9 432.5h0M1905.5 463.8h0M1920.0 467.6h0M1932.7 478.9h0M1925.7 449.8h0M1931.6 413.2h0M1905.1 504.7h0M1928.1 361.7h0M1932.2 217.5h0M1943.7 484.1h0M1911.8 490.1h0M1938.5 482.5h0M1943.8 477.7h0M1914.0 479.4h0M1919.0 432.2h0M1934.6 332.4h0M1901.2 496.9h0M1926.8 292.0h0M1947.0 490.5h0M1936.8 426.7h0M1901.8 415.6h0M1936.9 462.0h0M1931.4 151.4h0M1911.5 503.4h0M1924.2 470.5h0M1960.4 508.1h0M1922.7 499.5h0M1927.5 401.1h0M1933.4 321.3h0M1929.7 408.7h0M1932.3 492.7h0M1923.7 498.1h0M1935.2 401.0h0M1911.6 392.7h0M1928.9 410.9h0M1931.6 177.3h0M1925.8 426.6h0M1931.4 429.1h0M1929.8 406.6h0M1934.8 429.1h0M1930.8 274.6h0M1958.0 481.4h0M1927.0 286.8h0M1932.7 392.8h0M1929.2 307.7h0M1938.5 408.8h0M1942.9 479.9h0M1936.0 419.9h0M1938.6 365.2h0M1927.7 387.6h0M1921.8 443.9h0M1926.8 458.7h0M1915.6 497.1h0M1931.8 257.8h0M1929.1 259.0h0M1928.9 432.4h0M1925.2 461.5h0M1863.8 510.5h0M1936.5 259.6h0M1929.5 344.3h0M1934.6 295.5h0M1947.8 424.3h0M1951.8 365.4h0M1918.9 508.9h0M1936.2 383.3h0M1936.1 431.7h0M1937.3 327.4h0M1946.8 454.8h0M1960.0 443.3h0M1928.6 325.6h0M1931.8 219.9h0M1940.7 454.9h0M1927.1 344.0h0M1932.1 219.0h0M1936.3 508.9h0M1934.1 425.8h0M1910.1 486.4h0M1930.5 196.9h0M1926.7 438.5h0M1929.7 385.9h0M1944.1 511.0h0M1902.1 509.8h0M1938.5 465.9h0M1930.1 267.0h0M1929.1 420.9h0M1932.3 189.2h0M1939.9 488.4h0M1938.3 377.6h0M1926.2 418.7h0M1972.2 502.9h0M1927.8 374.7h0M1938.9 289.6h0M1937.0 364.4h0M1936.8 435.4h0M1938.1 423.7h0M1948.5 486.1h0M1939.6 384.4h0M1931.2 105.4h0M1935.6 489.4h0M1928.2 300.7h0M1904.1 460.8h0M1927.4 501.2h0M1926.2 279.0h0M1881.4 486.3h0M1919.4 445.6h0M1918.9 480.9h0M1931.7 474.0h0M1934.5 264.0h0M1921.9 452.3h0M1933.1 448.6h0M1920.9 437.6h0M1931.3 439.6h0M1937.2 494.6h0M1958.3 464.5h0M1924.2 423.3h0M1920.4 471.8h0M1927.2 280.5h0M1969.0 432.8h0M1931.8 306.5h0M1929.2 466.8h0M1935.8 187.2h0M1927.3 217.7h0M1933.8 305.8h0M1934.6 411.7h0M1930.5 280.9h0M1941.2 476.1h0M1929.7 125.6h0M1921.0 482.5h0M1918.3 499.5h0M1924.1 363.5h0M1933.2 439.0h0M1925.9 349.6h0M1924.0 502.8h0M1934.1 497.1h0M1929.5 310.7h0M1929.2 364.3h0M1935.6 346.1h0M1941.5 370.5h0M1931.6 263.6h0M1933.0 455.9h0M1931.0 255.6h0M1943.7 443.2h0M1937.7 449.8h0M1933.0 217.2h0M1930.6 413.9h0M1933.5 372.5h0M1909.0 466.8h0M1863.2 473.5h0M1925.2 360.4h0M1925.8 367.5h0M1927.6 184.3h0M1936.8 454.6h0M1947.3 490.6h0M1937.6 374.6h0M1930.6 460.5h0M1938.5 474.1h0M1928.9 324.8h0M1925.9 298.1h0M1933.9 245.1h0M1931.8 404.4h0M1915.7 469.6h0M1929.0 427.9h0M1928.7 183.7h0M1901.1 489.8h0M1931.1 321.7h0M1929.1 130.6h0M1928.0 407.0h0M1929.8 418.5h0M1935.8 272.3h0M1889.2 488.9h0M1908.8 499.3h0M1948.4 474.4h0M1927.9 390.6h0M1932.4 471.3h0M1930.9 350.4h0M1928.5 263.7h0M1931.6 265.4h0M1940.0 368.2h0M1926.5 456.6h0M1956.4 476.2h0M1922.2 463.5h0M1934.4 351.6h0M1920.0 491.1h0M1929.7 414.7h0M1924.7 416.5h0M1930.3 394.6h0M1924.6 419.1h0M1935.6 422.2h0M1940.2 440.1h0M1930.2 451.1h0M1927.4 194.7h0M1921.1 441.7h0M1924.2 324.4h0M1919.4 404.0h0M1912.5 333.7h0M1926.4 394.1h0M1924.6 294.2h0M1927.4 342.3h0M1924.9 478.2h0M1922.6 465.7h0M1932.9 97.3h0M1947.8 340.3h0M1940.1 404.2h0M1916.6 385.3h0M1904.5 480.1h0M1895.7 506.1h0M1927.8 272.7h0M1862.5 486.2h0M1945.9 481.3h0M1933.8 407.1h0M1931.3 347.4h0M1927.1 435.0h0M1916.4 444.6h0M1924.4 378.4h0M1932.1 376.6h0M1938.8 410.7h0M1947.8 480.1h0M1922.2 458.7h0M1933.5 330.4h0M1928.2 393.4h0M1917.2 470.4h0M1932.2 373.1h0M1932.4 427.7h0M1932.6 458.8h0M1931.2 243.6h0M1928.4 429.9h0M1959.2 364.0h0M1911.9 450.4h0M1906.6 476.7h0M1930.7 322.5h0M1937.1 431.3h0M1931.9 213.6h0M1955.6 504.7h0M1946.4 489.3h0M1935.1 418.9h0M1919.6 458.0h0M1936.2 372.1h0M1941.3 307.4h0M1942.0 393.9h0M1931.8 361.3h0M1926.5 471.0h0M1907.9 453.9h0M1944.9 482.8h0M1936.3 293.4h0M1928.2 398.5h0M1897.3 505.5h0M1933.1 396.3h0M1932.7 265.3h0M1959.5 495.2h0M1943.0 342.5h0M1930.1 258.9h0M1932.7 400.6h0M1936.8 430.7h0M1919.0 318.1h0M1929.3 359.3h0M1932.0 427.6h0M1942.4 398.0h0M1926.4 402.7h0M1944.4 463.3h0M1936.9 480.9h0M1929.7 398.5h0M1934.0 366.4h0M1925.3 325.1h0M1927.5 375.0h0M1932.7 406.7h0M1929.9 247.0h0M1913.9 461.2h0M1931.0 234.2h0M1932.2 248.1h0M1935.1 484.1h0M1924.0 396.6h0M1935.4 426.4h0M1947.0 436.2h0M1929.2 411.9h0M1927.9 405.9h0M1931.5 363.9h0M1926.5 444.6h0M1937.3 402.1h0M1929.8 371.4h0M1935.7 333.5h0M1942.4 491.7h0M1930.8 434.7h0M1926.6 340.7h0M1943.4 507.5h0M1931.7 463.5h0M1923.6 422.1h0M1956.7 493.9h0M1943.3 437.7h0M1933.6 143.4h0M1936.8 389.2h0M1927.6 362.3h0M1931.7 498.2h0M1924.5 484.2h0M1923.3 347.0h0M1944.2 291.1h0M1929.9 403.5h0M1963.5 442.7h0M1930.6 450.8h0M1945.5 493.3h0M1946.9 377.4h0M1937.4 419.7h0M1929.0 288.9h0M1935.5 357.7h0M1927.1 346.3h0M1919.2 447.6h0M1922.1 490.5h0M1930.7 396.0h0M1902.1 508.2h0M1939.4 491.3h0M1939.8 498.0h0M1936.8 498.2h0M1920.8 467.6h0M1944.9 481.5h0M1932.2 381.6h0M1928.3 260.6h0M1934.6 251.7h0M1929.7 269.1h0M1928.3 443.7h0M1928.2 496.5h0M1939.0 450.7h0M1935.1 429.7h0M1933.2 308.2h0M1923.5 313.2h0M1946.7 486.6h0M1928.2 242.4h0M1935.3 255.0h0M1884.5 498.6h0M1930.1 114.6h0M1933.2 376.4h0M1926.2 248.5h0M1914.1 475.5h0M1926.3 345.8h0M1936.7 487.5h0M1930.8 327.0h0M1926.1 325.0h0M1924.8 430.6h0M1927.0 296.4h0M1929.9 286.3h0M1947.6 475.8h0M1875.4 504.1h0M1927.4 318.9h0M1958.1 480.8h0M1915.8 359.6h0M1967.2 484.8h0M1935.9 334.6h0M1925.3 488.7h0M1935.4 308.4h0M1962.5 490.9h0M1924.9 365.7h0M1931.7 279.1h0M1933.8 449.1h0M2045.3 505.4h0M1967.2 507.3h0M1961.2 483.3h0M2135.3 526.7h0M2095.6 519.3h0M1972.4 519.8h0M2255.1 527.7h0M2159.4 531.5h0M1937.7 511.3h0M2068.5 524.6h0M1902.9 528.7h0M1874.1 527.1h0M1902.0 513.3h0M2049.2 511.5h0M2016.4 526.6h0M2024.3 530.2h0M1865.0 521.7h0M1973.2 508.5h0M2018.2 523.0h0M2117.9 526.1h0M1941.9 511.3h0M2002.0 523.2h0M2116.2 515.6h0M2061.7 525.9h0M1943.3 527.9h0M2023.4 526.9h0M2016.8 518.8h0M1933.2 522.2h0M1900.5 518.8h0M1902.2 513.0h0M2012.6 502.2h0M2013.3 495.7h0M1989.6 522.8h0M2003.5 518.3h0M1917.8 492.0h0M2023.7 523.8h0M1988.0 504.6h0M1940.7 526.6h0M1970.7 524.6h0M1861.1 520.7h0M1854.3 527.8h0M1931.6 520.9h0M1907.1 513.8h0M1986.5 516.1h0M2112.8 531.9h0M2114.1 526.8h0M1970.1 495.7h0M1958.1 514.3h0M2031.5 524.3h0M1917.9 523.7h0M1985.5 500.9h0M1898.5 522.1h0M2115.4 528.4h0M2001.0 530.9h0M1982.4 501.3h0M1951.6 515.8h0M2106.3 528.1h0M2176.1 523.3h0M1960.6 503.6h0M1941.6 508.0h0M1874.8 518.7h0M1895.1 527.8h0M2070.7 528.1h0M2030.7 515.9h0M2065.4 528.6h0M1861.9 527.4h0M2050.9 516.0h0M2079.5 523.8h0M1994.4 525.0h0M1859.8 516.8h0M1853.3 525.2h0M2008.2 506.7h0M1998.7 529.0h0M1983.2 521.5h0M1865.0 514.4h0M2003.1 511.4h0M1980.7 490.2h0M1925.6 507.6h0M1963.4 508.7h0M2092.9 523.6h0M2018.0 503.6h0M1937.5 525.9h0M2119.8 526.6h0M1974.8 512.1h0M2308.8 527.9h0M2009.8 507.1h0M1930.5 516.7h0M1972.0 510.6h0M2078.4 527.0h0M2006.9 531.7h0M1969.3 519.7h0M1978.1 521.8h0M2041.4 526.6h0M1992.3 531.8h0M2230.6 528.9h0M1939.3 503.0h0M1956.6 494.5h0M2199.8 528.0h0M1848.9 515.2h0M2034.1 522.9h0M2005.4 521.6h0M1970.9 530.5h0M1979.9 506.7h0M2028.9 529.8h0M1911.0 520.6h0M1849.9 529.2h0M1868.6 531.2h0M1956.5 524.8h0M1953.2 530.7h0M1969.5 520.5h0M1912.2 517.5h0M1902.3 531.9h0M1931.0 515.6h0M2000.9 517.1h0M2061.4 522.8h0M2083.8 519.7h0M1905.2 531.8h0M2025.8 516.2h0M2019.6 529.9h0M2067.1 519.2h0M2105.8 522.3h0M2010.2 526.9h0M2036.4 517.3h0M2061.8 515.3h0M1917.1 528.2h0M1925.4 502.8h0M1968.5 513.1h0M1905.2 528.0h0M1964.1 521.2h0M2040.7 522.4h0M1887.7 514.0h0M1967.0 515.5h0M1923.9 514.4h0M1865.8 528.0h0M1953.9 526.9h0M1921.3 530.0h0M2100.8 526.8h0M2020.2 518.0h0M1954.9 509.3h0M1904.6 485.9h0M2009.7 518.5h0M1957.0 523.8h0M1971.2 519.0h0M2076.4 530.2h0M1926.7 510.4h0M2076.4 523.9h0M1938.9 517.6h0M1861.7 528.9h0M2064.0 525.5h0M2014.3 518.7h0M1968.5 505.9h0M1962.7 511.4h0M1907.7 525.5h0M2044.9 513.8h0M1986.7 518.1h0M1909.8 526.3h0M2018.3 511.0h0M2004.1 523.2h0M1987.1 506.2h0M2164.2 521.9h0M1971.8 514.0h0M1921.3 495.0h0M2059.2 527.1h0M2110.8 529.4h0M1912.2 526.6h0M2118.5 522.2h0M1900.0 511.7h0M1869.0 520.6h0M1996.9 528.8h0M1965.6 519.9h0M2143.9 528.4h0M2065.3 519.5h0M1909.7 532.3h0M2018.4 528.7h0M2097.3 522.0h0M2100.5 527.9h0M1910.4 527.4h0M2023.9 510.1h0M2002.6 501.1h0M2002.7 525.8h0M1905.2 528.1h0M1965.5 520.0h0M2069.9 524.6h0M1920.9 498.3h0M2004.1 504.3h0M2037.7 524.6h0M1894.2 521.9h0M1995.1 523.7h0M1871.4 518.0h0M1978.1 513.0h0M1942.6 520.8h0M2072.6 525.0h0M1965.5 525.9h0M2027.2 522.4h0M1975.7 519.0h0M2130.7 526.3h0M1880.8 522.5h0M1966.6 515.4h0M1881.0 521.7h0M1910.1 517.9h0M2064.6 521.4h0M2103.7 516.4h0M2081.9 529.0h0M1904.2 516.4h0M2286.8 528.3h0M2278.6 529.3h0M2225.0 530.5h0M1902.9 505.9h0M1975.0 523.4h0M2054.3 529.9h0M1877.7 521.8h0M1987.9 518.0h0M2002.6 519.6h0M1999.4 512.2h0M1974.8 522.6h0M2054.5 519.4h0M2024.9 503.2h0M2126.4 523.6h0M2000.7 520.4h0M1949.5 518.0h0M2031.8 524.5h0M2035.3 524.3h0M1900.5 510.3h0M1954.0 521.4h0M1994.0 517.7h0M1893.7 529.0h0M1869.4 522.4h0M1908.4 493.4h0M2127.1 523.1h0M1958.7 506.3h0M1859.2 521.8h0M2086.8 522.1h0M2007.3 523.7h0M1916.1 522.5h0M1961.4 515.1h0M2032.6 527.8h0M1924.5 516.8h0M2054.7 526.4h0M1895.9 518.5h0M1915.3 520.2h0M1850.3 524.3h0M1996.0 519.8h0M2087.4 515.2h0M1987.2 531.4h0M1989.7 513.9h0M1854.4 531.5h0M1930.0 521.8h0M1964.1 506.6h0M1988.0 491.6h0M1867.3 499.9h0M1922.3 500.5h0M2068.1 519.6h0M1903.0 511.2h0M2118.6 525.4h0M1983.5 525.4h0M1946.1 521.4h0M1977.4 523.7h0M2016.1 524.8h0M1993.0 502.7h0M2106.7 530.2h0M2022.0 520.0h0M2007.4 516.9h0M2138.7 527.0h0M1954.7 525.7h0M1961.0 522.5h0M2065.3 515.7h0M1874.7 526.6h0M1888.8 519.0h0M1989.1 523.5h0M1997.6 513.5h0M1895.1 517.3h0M1985.6 513.6h0M2049.1 531.6h0M1926.6 519.5h0M1944.0 518.9h0M2030.3 520.7h0M2037.6 515.5h0M1999.7 527.3h0M1952.1 523.9h0M1953.3 509.7h0M1954.3 511.3h0M1941.7 511.9h0M2041.5 512.2h0M1922.7 510.6h0M1917.0 527.6h0M1889.2 523.4h0M1965.1 527.2h0M2086.3 522.2h0M1883.8 530.9h0M1864.0 519.8h0M1931.5 520.3h0M1862.5 519.0h0M1970.1 508.9h0M2065.0 527.6h0M1971.3 519.6h0M1893.6 527.9h0M1937.7 525.6h0M2138.1 523.1h0M1987.2 521.6h0M1936.6 525.6h0M1981.6 517.2h0M1891.5 526.9h0M2074.0 527.5h0M2069.3 516.5h0M2206.3 526.9h0M1950.4 512.2h0M2055.9 531.2h0M2211.9 528.8h0M2018.5 506.0h0M2058.2 518.1h0M2027.3 517.5h0M1999.5 522.7h0M1985.1 519.3h0M1997.8 512.6h0M1940.9 526.5h0M1856.8 519.7h0M1976.7 519.2h0M2037.3 519.4h0M1951.2 506.7h0M2134.4 524.3h0M2030.7 518.8h0M1980.6 523.5h0M2067.7 511.9h0M2197.2 524.8h0M1950.3 517.4h0M2035.5 521.6h0M1978.9 522.2h0M1855.2 524.2h0M2200.5 528.4h0M2077.4 529.1h0M1950.5 519.5h0M2071.9 518.8h0M1906.9 520.8h0M2058.2 520.4h0M1992.1 510.7h0M2018.9 512.6h0M2022.5 527.5h0M1988.0 511.9h0M1957.0 530.4h0M1906.4 517.8h0M1998.5 520.4h0M1916.3 495.7h0M1878.5 521.4h0M2036.1 528.2h0M1951.9 517.9h0M2062.6 519.9h0M2045.1 524.3h0M1954.8 493.1h0M1883.3 527.1h0M1874.2 528.1h0M1892.0 492.1h0M2007.2 526.0h0M1991.0 525.0h0M2061.4 529.9h0M2180.8 524.6h0M1996.0 526.4h0M2050.1 520.4h0M2031.5 501.2h0M1981.1 517.5h0M2141.0 529.8h0M1997.8 516.1h0M2043.2 524.5h0M2015.1 525.7h0M2132.3 526.2h0M1973.2 496.7h0M1923.2 510.4h0M1977.2 526.9h0M2014.0 523.3h0M2075.3 524.0h0M1973.6 513.0h0M1898.6 523.3h0M2015.0 513.0h0M1985.5 509.9h0M2037.1 528.2h0M1997.1 505.3h0M1884.6 520.2h0M1958.7 526.8h0M2236.7 528.4h0M2020.3 520.5h0M1928.9 520.8h0M2084.4 530.5h0M1984.8 517.3h0M2043.4 526.6h0M2001.5 515.5h0M1974.1 512.5h0M2068.8 519.2h0M1861.6 513.9h0M2030.2 522.1h0M1911.7 506.6h0M1990.2 504.9h0M2020.1 527.9h0M2040.5 520.4h0M1941.2 503.3h0M1902.0 519.4h0M2143.3 532.5h0M1897.4 518.8h0M2062.5 529.2h0M1990.7 481.5h0M1963.5 507.8h0M2065.1 527.1h0M1921.5 525.7h0M1988.1 523.9h0M1979.2 514.1h0M2018.1 522.8h0M1853.3 515.6h0M1861.4 528.6h0M2031.7 512.7h0M2078.9 527.1h0M1868.2 522.2h0M1910.7 508.0h0M1912.3 527.7h0M2096.6 529.2h0M1973.5 527.8h0M1898.0 518.1h0M2007.3 520.6h0M2019.7 529.6h0M1877.0 526.7h0M1977.0 520.6h0M1941.0 519.7h0M1959.4 507.1h0M2017.5 519.5h0M1863.1 529.4h0M2049.7 521.1h0M2045.9 508.6h0M1934.1 515.1h0M1926.0 523.4h0M1872.4 529.9h0M1921.9 518.7h0M1958.8 524.1h0M2085.3 529.1h0M2014.0 523.4h0M2026.6 515.1h0M1960.2 530.2h0M1932.3 521.8h0M2035.6 521.7h0M1955.1 525.7h0M2058.0 530.6h0M2010.6 528.1h0M2107.0 528.5h0M1986.7 530.4h0M1869.6 525.5h0M2067.1 517.9h0M2217.2 532.2h0M2137.6 525.3h0M2041.0 518.2h0M1900.2 529.9h0M2024.6 508.6h0M2032.1 515.4h0M1915.1 508.5h0M1990.7 519.6h0M1966.7 510.0h0M1911.8 508.8h0M2005.7 517.7h0M1935.5 502.1h0M1957.9 517.2h0M1914.0 531.2h0M1972.9 525.6h0M2023.5 518.4h0M2028.3 525.5h0M1923.2 510.0h0M2282.2 531.0h0M1915.8 516.0h0M1955.4 500.9h0M1917.8 529.2h0M1889.9 512.4h0M1965.8 518.9h0M1955.0 519.2h0M2050.4 528.0h0M2134.3 524.4h0M1916.2 527.2h0M1932.9 515.5h0M1994.9 522.8h0M2134.4 520.8h0M2045.1 522.9h0M1968.6 527.4h0M1930.9 525.6h0M2031.8 516.4h0M2041.0 525.4h0M2009.4 512.5h0M2067.8 530.8h0M2067.0 512.3h0M1943.4 508.2h0M2083.1 524.0h0M2107.6 523.9h0M1968.5 511.1h0M1977.9 501.6h0M1953.6 529.7h0M1915.5 526.5h0M1947.7 521.2h0M2027.3 512.7h0M2127.9 525.0h0M2011.1 520.6h0M1911.1 511.0h0M1870.3 527.8h0M2030.1 523.3h0M2046.4 531.0h0M2029.9 522.9h0M1896.8 525.3h0M1925.4 505.9h0M1972.7 525.7h0M1885.9 512.5h0M2104.7 527.5h0M2014.8 526.7h0M1904.7 528.6h0M1962.2 509.6h0M2111.2 528.1h0M2048.9 517.6h0M2036.5 528.6h0M2032.8 520.6h0M1906.3 516.3h0M1904.4 523.5h0M1990.7 526.7h0M1987.2 515.9h0M2046.4 528.4h0M2162.5 525.2h0M1901.8 518.4h0M2009.3 524.8h0M1953.4 519.6h0M2008.3 518.6h0M1856.6 511.8h0M2076.0 527.7h0M1964.9 517.6h0M1899.4 517.4h0M1990.5 529.7h0M2119.7 525.7h0M1954.6 523.2h0M2022.1 529.4h0M2164.7 527.1h0M1887.6 508.8h0M2056.7 529.0h0M1940.6 508.2h0M2146.1 525.4h0M2131.3 527.0h0M2060.2 529.3h0M2047.6 522.5h0M1857.1 516.2h0M2084.1 522.7h0M1998.2 522.5h0M2041.3 525.9h0M1930.5 516.0h0M1920.9 506.2h0M2065.0 531.0h0M2007.6 513.4h0M1956.1 526.6h0M2089.8 519.6h0M1945.0 488.8h0M1944.1 516.0h0M1868.6 509.6h0M1944.3 524.9h0M1899.9 517.4h0M1997.1 505.3h0M2139.9 525.3h0M2086.8 510.0h0M1942.6 519.8h0M1904.3 517.4h0M1857.1 514.1h0M1975.3 521.4h0M1909.0 516.1h0M1936.5 506.2h0M1907.2 522.2h0M2030.3 517.6h0M2052.3 523.4h0M1918.6 529.1h0M1948.0 505.8h0M1992.2 527.1h0M1962.0 525.8h0M1955.8 521.9h0M2170.1 531.3h0M1915.0 502.7h0M2064.6 519.7h0M1908.8 511.9h0M2127.6 525.1h0M2068.2 523.9h0M2008.0 525.7h0M1944.6 506.8h0M1939.7 528.2h0M1980.6 512.6h0M1971.5 502.3h0M1981.0 506.4h0M1878.8 523.5h0M2027.7 516.3h0M2202.9 527.5h0M2005.6 505.4h0M1968.6 510.5h0M1940.5 517.8h0M1920.3 509.9h0M1859.3 527.0h0M1887.5 531.3h0M1932.0 509.9h0M1889.8 516.1h0M1942.4 511.7h0M1998.1 518.1h0M1918.7 522.8h0M1959.2 526.6h0M1863.5 518.5h0M1884.4 530.1h0M2039.2 528.6h0M1849.2 513.7h0M2019.4 515.8h0M2000.1 529.1h0M2083.0 496.9h0M1955.3 522.8h0M1993.2 511.8h0M1915.1 507.1h0M2072.4 530.3h0M1986.1 510.3h0M2014.4 509.0h0M1914.3 527.7h0M2033.7 520.9h0M1963.0 515.4h0M1952.9 527.2h0M1981.1 518.5h0M1908.8 514.4h0M1993.9 512.7h0M2166.4 523.3h0M1984.1 507.2h0M1869.6 511.1h0M2046.1 515.0h0M2043.7 529.4h0M1866.7 522.2h0M2104.3 526.4h0M2010.1 512.3h0M2076.8 527.6h0M2013.3 507.4h0M1949.8 520.2h0M1973.0 526.8h0M1918.8 520.4h0M2015.2 522.9h0M2085.6 524.8h0M2120.4 531.9h0M2054.8 528.1h0M2031.5 528.8h0M2042.4 512.9h0M1904.0 507.4h0M1912.1 514.9h0M1922.8 496.5h0M1976.5 497.8h0M2038.5 526.0h0M1905.4 518.8h0M2070.8 525.2h0M1864.2 523.2h0M2029.7 521.7h0M1930.4 507.7h0M2055.9 516.4h0M2007.6 508.7h0M1856.4 531.5h0M1977.8 504.0h0M2004.3 527.2h0M1857.2 513.0h0M2183.2 527.6h0M1926.7 526.5h0M1864.0 514.6h0M2006.9 517.0h0M1888.7 516.7h0M2042.0 516.4h0M1950.6 515.6h0M1924.9 499.3h0M1957.2 506.1h0M1902.4 522.3h0M2032.4 513.1h0M1993.1 506.6h0M2083.1 520.1h0M1935.7 521.6h0M1914.0 493.4h0M2061.9 528.8h0M2007.9 513.5h0M1931.6 515.4h0M2003.6 522.7h0M1860.1 528.7h0M1861.7 527.9h0M1902.4 516.2h0M2071.0 522.2h0M2039.7 515.8h0M2065.8 507.0h0M1980.9 506.2h0M1870.8 508.6h0M1906.7 515.3h0M2109.5 524.9h0M2030.5 528.5h0M1896.5 531.0h0M2034.1 529.9h0M2016.2 511.6h0M2018.1 516.5h0M2025.1 512.6h0M1876.2 525.3h0M2045.4 521.6h0M1939.7 504.2h0M1869.9 522.7h0M2248.6 525.0h0M2146.1 527.8h0M1944.1 492.3h0M2050.1 524.1h0M2095.0 521.1h0M1994.7 517.3h0M1887.6 512.6h0M2031.0 518.1h0M1870.6 515.2h0M2065.8 525.9h0M1992.0 521.1h0M2122.9 515.2h0M2051.2 525.4h0M2033.8 520.0h0M2131.6 520.5h0M1901.7 532.2h0M2050.9 525.5h0M1913.6 496.2h0M1864.1 513.8h0M2090.5 526.0h0M2058.4 530.0h0M1892.9 515.1h0M1965.9 508.8h0M1965.4 517.8h0M1892.8 526.6h0M1936.2 520.5h0M1981.3 516.6h0M1955.0 517.1h0M2047.7 517.9h0M2016.9 524.5h0M1894.3 523.5h0M1878.3 526.9h0M1923.7 511.6h0M1978.3 518.9h0M2089.7 513.4h0M1933.5 513.5h0M1975.3 507.7h0M2010.3 526.0h0M2043.0 517.1h0M1947.0 514.0h0M1966.1 514.5h0M2029.2 528.0h0M1949.0 513.9h0M1941.6 510.7h0M1938.3 510.2h0M1875.8 524.0h0M2036.6 522.1h0M2028.7 516.2h0M1893.4 508.1h0M1964.8 520.4h0M2050.5 523.3h0M1903.0 517.6h0M2187.3 527.2h0M1953.0 506.3h0M1887.3 527.4h0M2048.5 521.0h0M1856.4 521.7h0M1956.2 522.1h0M2061.5 508.6h0M1916.1 516.2h0M2036.6 514.4h0M1988.7 506.9h0M1961.7 529.6h0M1942.4 516.3h0M2050.0 518.1h0M2030.0 523.2h0M1963.8 528.2h0M2019.2 512.5h0M2020.4 529.2h0M1968.1 518.9h0M2020.3 517.4h0M2061.6 525.1h0M2039.9 511.7h0M1998.2 527.3h0M1866.7 520.4h0M2035.0 520.8h0M2048.1 501.7h0M1954.7 526.8h0M1972.6 501.4h0M1876.2 526.6h0M2146.4 526.9h0M2011.0 516.9h0M1993.0 509.7h0M1948.7 520.4h0M1997.2 520.3h0M1922.6 516.2h0M1920.3 525.9h0M2113.2 527.5h0M1899.0 522.7h0M1981.3 506.8h0M1901.9 516.8h0M1910.7 509.0h0M1872.7 521.6h0M2032.5 522.7h0M1855.8 514.2h0M2016.1 523.0h0M2021.1 528.6h0M1859.1 522.4h0M2034.3 530.0h0M1967.2 532.3h0M1857.0 520.6h0M1878.0 528.7h0M1983.0 522.6h0M1876.7 512.0h0M2072.1 531.3h0M1996.4 517.7h0M2036.8 521.1h0M2041.7 528.1h0M1858.7 492.1h0M2372.5 529.3h0M2028.8 516.5h0M2029.5 528.0h0M1979.8 511.6h0M1913.7 518.6h0M1867.4 519.1h0M2106.4 522.4h0M2066.3 518.3h0M2170.6 522.9h0M1979.4 524.1h0M1923.4 522.6h0M2075.6 518.2h0M1904.9 514.1h0M2131.4 524.9h0M1999.2 531.0h0M1856.7 519.3h0M2047.3 529.3h0M1926.4 510.8h0M1883.2 523.8h0M1995.7 506.5h0M2028.5 509.3h0M1896.0 523.4h0M2048.5 518.7h0M2097.1 528.0h0M2104.4 521.4h0M1930.6 507.0h0M2103.2 526.1h0M2039.9 525.5h0M2028.6 530.0h0M1927.6 506.0h0M1926.8 523.1h0M1967.8 506.9h0M1941.5 520.3h0M2168.5 529.2h0M1989.2 514.6h0M1933.1 516.3h0M1949.5 504.6h0M2030.2 526.6h0M1919.0 518.5h0M1961.8 516.9h0M2092.8 526.5h0M1865.9 510.0h0M1922.2 515.9h0M1866.4 526.8h0M1996.0 531.0h0M1923.8 528.3h0M1911.0 521.7h0M1968.4 519.3h0M2165.2 524.4h0M1988.7 528.2h0M2087.3 519.3h0M2016.8 531.1h0M1980.9 523.8h0M1906.4 505.7h0M1981.0 515.4h0M1986.0 508.5h0M1924.3 517.3h0M2055.2 507.3h0M2017.3 520.2h0M1881.0 510.4h0M2081.4 521.3h0M1932.3 493.0h0M1945.4 523.0h0M1914.1 499.9h0M1957.2 525.7h0M1989.2 506.8h0M1922.1 523.0h0M1954.0 526.5h0M1932.0 516.2h0M1855.7 521.9h0M1983.4 528.8h0M2122.1 525.1h0M1975.9 519.3h0M1928.0 519.1h0M2049.0 527.1h0M1955.5 496.7h0M2014.8 519.0h0M1929.7 529.8h0M1854.5 519.2h0M1981.5 527.6h0M1864.3 520.7h0M2147.9 522.1h0M2000.1 522.6h0M2084.2 524.6h0M2044.1 519.4h0M2022.6 527.5h0M1968.2 516.8h0M2011.8 526.1h0M1980.6 529.1h0M2023.1 517.5h0M1933.0 511.3h0M1988.7 501.3h0M1971.8 519.8h0M1882.9 520.2h0M2023.9 522.8h0M1904.6 522.1h0M2010.1 523.8h0M1961.1 508.7h0M1868.8 524.3h0M1932.0 489.6h0M1934.5 517.3h0M2080.2 527.8h0M1969.9 527.1h0M2027.6 509.2h0M1910.1 512.9h0M1984.4 515.4h0M2012.9 518.6h0M2048.2 519.7h0M2188.8 520.1h0M1959.7 478.9h0M2015.8 520.4h0M1904.8 501.5h0M1906.1 514.9h0M1913.9 520.2h0M1978.8 513.5h0M2126.7 529.4h0M2129.0 527.8h0M2090.4 520.2h0M1983.6 517.6h0M1877.6 513.0h0M1941.1 508.2h0M2039.0 528.0h0M2065.5 509.6h0M1953.5 511.0h0M1942.4 503.0h0M2010.8 504.7h0M1916.2 492.0h0M1944.6 508.4h0M2033.1 530.9h0M2089.6 520.7h0M2053.2 516.4h0M1940.0 512.6h0M1919.9 514.6h0M2064.4 526.4h0M2021.4 525.9h0M1917.6 524.5h0M1911.0 523.2h0M2063.6 529.4h0M1883.6 520.1h0M2014.8 518.6h0M1977.1 520.4h0M2038.1 520.8h0M2052.0 525.6h0M1895.8 514.7h0M1954.1 508.3h0M2084.2 527.0h0M2030.8 511.3h0M1877.7 528.3h0M1933.1 490.1h0M2026.5 510.6h0M1929.1 518.5h0M2034.3 530.0h0M1993.7 522.4h0M2045.0 526.0h0M1934.6 517.5h0M2055.3 529.9h0M1900.9 512.3h0M2013.2 514.2h0M2002.0 507.8h0M1939.6 500.5h0M2170.5 531.0h0M2079.5 521.1h0M1958.7 517.5h0M1908.4 515.3h0M2037.1 516.7h0M2014.8 520.3h0M2005.0 509.3h0M1877.0 522.3h0M2017.8 528.1h0M1861.4 526.2h0M1962.9 529.4h0M1907.0 526.9h0M1972.1 529.5h0M2038.7 525.6h0M2088.1 524.2h0M1862.2 529.4h0M1911.2 514.0h0M1960.0 522.0h0M1957.1 509.6h0M1903.7 512.6h0M1987.9 515.6h0M2054.1 531.0h0M2045.4 522.1h0M1916.3 510.9h0M2019.2 530.8h0M2074.9 523.0h0M1851.2 515.6h0M2034.9 517.2h0M2093.2 530.0h0M1931.2 515.4h0M1909.2 514.5h0M1900.9 522.7h0M1958.0 501.8h0M1942.2 506.7h0M1911.2 518.6h0M1982.0 507.0h0M1959.2 531.0h0M1956.6 526.4h0M1965.4 517.8h0M1851.8 515.1h0M2042.0 519.4h0M1974.4 527.4h0M1877.6 521.0h0M1903.9 523.5h0M1889.3 528.2h0M1967.5 495.9h0M2047.5 518.1h0M2213.6 529.9h0M1989.5 504.7h0M2038.7 527.2h0M2049.6 522.9h0M2043.1 528.8h0M1895.8 526.7h0M1956.9 527.9h0M2166.9 524.5h0M1894.0 517.0h0M1944.0 519.4h0M1925.1 500.2h0M2134.4 524.3h0M1895.3 521.9h0M2004.6 515.5h0M1962.3 515.6h0M2087.5 523.2h0M2015.3 527.9h0M2001.1 525.2h0M1980.3 507.9h0M1970.4 529.7h0M1956.4 524.4h0M1849.2 503.4h0M1998.3 521.2h0M1878.9 519.8h0M1985.5 522.1h0M2000.6 517.6h0M1947.0 519.5h0M1966.0 508.7h0M2176.3 530.0h0M1895.3 528.1h0M2107.3 522.9h0M1984.9 516.6h0M2102.5 525.8h0M1921.3 519.6h0M1851.7 524.8h0M2076.6 529.4h0M2004.1 514.5h0M2120.9 527.9h0M2071.9 529.5h0M1956.2 526.4h0M1994.4 526.2h0M1932.0 502.4h0M1856.0 521.2h0M1982.3 498.3h0M2017.0 528.7h0M2011.3 523.1h0M1993.6 508.9h0M1945.0 506.6h0M2109.9 522.5h0M1909.9 522.4h0M2160.2 525.3h0M1968.8 505.8h0M1934.5 483.9h0M2009.0 523.7h0M1852.3 512.7h0M2052.6 525.7h0M1886.4 523.1h0M1885.0 530.8h0M2008.9 523.6h0M2082.4 525.0h0M2019.9 528.5h0M1916.3 513.5h0M1941.9 492.9h0M1951.6 528.5h0M1863.1 523.9h0M2003.9 513.7h0M2035.5 528.9h0M2146.7 522.8h0M2015.7 531.8h0M1978.0 509.2h0M1918.6 522.4h0M1851.0 525.1h0M2025.6 523.9h0M1858.7 501.8h0M1888.3 502.2h0M1935.1 498.4h0M2025.8 523.4h0M2083.2 529.3h0M2055.0 527.4h0M2199.2 524.6h0M1851.1 529.3h0M1865.2 525.7h0M1867.3 514.7h0M2088.0 521.3h0M2024.1 506.3h0M1977.1 530.1h0M2022.1 501.2h0M2106.7 522.7h0M1973.7 510.7h0M1870.4 528.9h0M2005.9 519.2h0M1923.0 510.1h0M2114.6 520.1h0M1940.4 527.7h0M1913.1 516.5h0M2039.6 522.2h0M2065.4 518.4h0M1987.7 519.1h0M2031.4 519.8h0M1914.5 528.4h0M2066.9 528.6h0M1850.1 527.2h0M1907.8 527.6h0M1979.3 522.2h0M2072.9 530.5h0M1951.8 512.8h0M2077.0 513.8h0M1880.9 522.2h0M2063.4 527.4h0M1857.8 526.0h0M2007.2 514.8h0M1888.1 516.8h0M2014.4 510.8h0M1956.9 504.6h0M1977.2 505.4h0M1903.7 523.7h0M2041.0 528.9h0M2143.0 528.7h0M1914.0 524.6h0M2050.8 525.7h0M1909.3 517.3h0M1905.6 518.5h0M2060.5 520.9h0M1923.8 522.3h0M2193.7 531.8h0M2070.9 519.9h0M1949.7 517.4h0M1937.0 514.7h0M1903.2 512.9h0M1913.3 520.5h0M2065.7 516.5h0M1916.6 519.3h0M1902.9 515.2h0M1908.5 512.4h0M1902.6 519.8h0M2076.8 526.0h0M2121.0 520.9h0M2112.9 531.4h0M2057.1 528.2h0M1925.6 514.6h0M1976.1 510.6h0M2007.1 521.5h0M1935.6 521.6h0M1969.3 515.9h0M2007.6 517.5h0M2049.3 522.6h0M1904.1 524.2h0M2019.4 513.4h0M1931.4 526.7h0M1969.5 512.3h0M1966.9 499.4h0M1974.9 497.8h0M2121.6 524.0h0M1967.0 502.1h0M2010.7 504.5h0M1885.8 524.8h0M2080.1 524.1h0M2005.4 524.9h0M2183.7 518.3h0M1863.6 520.6h0M2046.0 520.5h0M1893.1 526.4h0M2084.0 525.3h0M2082.3 522.3h0M1978.8 517.9h0M1897.1 516.7h0M1915.8 519.2h0M2069.4 529.0h0M1942.7 524.3h0M2095.6 529.8h0M1901.8 519.5h0M2048.0 528.4h0M1981.9 519.6h0M2079.9 524.7h0M1986.6 525.8h0M1961.6 516.5h0M2057.6 518.5h0M2106.1 528.1h0M1991.0 528.0h0M1998.9 529.1h0M1876.9 524.8h0M1938.7 509.1h0M1937.7 522.0h0M2045.5 523.1h0M1964.0 508.1h0M1912.3 500.8h0M1989.8 530.6h0M2056.6 529.0h0M2021.4 525.3h0M1920.2 517.5h0M2034.0 527.3h0M2042.1 521.4h0M1951.9 514.1h0" stroke="#0c0c0c" stroke-width="3.2" stroke-linecap="round" stroke-linejoin="round" fill="none"/>
<line x1="1931.2" y1="92.7" x2="1931.2" y2="496.8" stroke="#ff0a0a" stroke-width="3.1"/>
<path d="M1847.8 165.2h5.0M2410.3 165.2h-5.0M1847.8 238.8h5.0M2410.3 238.8h-5.0M1847.8 312.5h5.0M2410.3 312.5h-5.0M1847.8 386.1h5.0M2410.3 386.1h-5.0M1847.8 459.8h5.0M2410.3 459.8h-5.0M1904.1 92.7v5.0M1904.1 533.5v-5.0M2016.6 92.7v5.0M2016.6 533.5v-5.0M2129.1 92.7v5.0M2129.1 533.5v-5.0M2241.6 92.7v5.0M2241.6 533.5v-5.0M2354.1 92.7v5.0M2354.1 533.5v-5.0" stroke="#838383" stroke-width="1.5" fill="none"/>
<rect x="1847.8" y="92.7" width="562.5" height="440.8" fill="none" stroke="#838383" stroke-width="2"/>
<text transform="translate(1813.63,174.50) scale(0.9850,1)" font-size="24.50" class="sf" fill="#4a4a4a">20</text>
<text transform="translate(1796.02,248.15) scale(0.9850,1)" font-size="24.50" class="sf" fill="#4a4a4a">18.1</text>
<text transform="translate(1795.29,321.80) scale(0.9850,1)" font-size="24.50" class="sf" fill="#4a4a4a">15.6</text>
<text transform="translate(1796.02,395.45) scale(0.9850,1)" font-size="24.50" class="sf" fill="#4a4a4a">12.1</text>
<text transform="translate(1808.08,469.10) scale(0.9850,1)" font-size="24.50" class="sf" fill="#4a4a4a">6.1</text>
<text transform="translate(1805.55,542.20) scale(0.9850,1)" font-size="24.50" class="sf" fill="#4a4a4a">-40</text>
<text transform="translate(1886.33,563.20) scale(1.0172,1)" font-size="24.50" class="sf" fill="#4a4a4a">-20</text>
<text transform="translate(1998.91,563.20) scale(1.0398,1)" font-size="24.50" class="sf" fill="#4a4a4a">-10</text>
<text transform="translate(2120.22,563.20) scale(1.2051,1)" font-size="24.50" class="sf" fill="#4a4a4a">0</text>
<text transform="translate(2226.54,563.20) scale(1.1335,1)" font-size="24.50" class="sf" fill="#4a4a4a">10</text>
<text transform="translate(2339.78,563.20) scale(1.1107,1)" font-size="24.50" class="sf" fill="#4a4a4a">20</text>
<text class="sf"><tspan x="2073.77" y="589.90" font-size="27.00" textLength="46.67" lengthAdjust="spacingAndGlyphs" fill="#4a4a4a">ERV</tspan> <tspan x="2126.48" y="589.90" font-size="27.00" textLength="56.93" lengthAdjust="spacingAndGlyphs" fill="#4a4a4a">[m/s]</tspan></text>
<text class="sf" transform="translate(1788.20,0) rotate(-90)"><tspan x="-520.74" y="0.00" font-size="27.00" textLength="121.05" lengthAdjust="spacingAndGlyphs" fill="#4a4a4a">normalized</tspan> <tspan x="-391.77" y="0.00" font-size="27.00" textLength="110.81" lengthAdjust="spacingAndGlyphs" fill="#4a4a4a">amplitude</tspan> <tspan x="-277.54" y="0.00" font-size="27.00" textLength="49.11" lengthAdjust="spacingAndGlyphs" fill="#4a4a4a">after</tspan> <tspan x="-222.26" y="0.00" font-size="27.00" textLength="67.75" lengthAdjust="spacingAndGlyphs" fill="#4a4a4a">DPCA</tspan> <tspan x="-150.49" y="0.00" font-size="27.00" textLength="46.24" lengthAdjust="spacingAndGlyphs" fill="#4a4a4a">[dB]</tspan></text>
<text class="sf"><tspan x="1212.40" y="83.00" font-size="29.00" textLength="55.91" lengthAdjust="spacingAndGlyphs" fill="#1c1c1c" font-weight="bold">ERV</tspan> <tspan x="1274.96" y="83.00" font-size="29.00" textLength="131.65" lengthAdjust="spacingAndGlyphs" fill="#1c1c1c" font-weight="bold">estimation</tspan> <tspan x="1413.60" y="83.00" font-size="29.00" textLength="57.43" lengthAdjust="spacingAndGlyphs" fill="#1c1c1c" font-weight="bold">with</tspan> <tspan x="1478.37" y="83.00" font-size="29.00" textLength="93.58" lengthAdjust="spacingAndGlyphs" fill="#1c1c1c" font-weight="bold">method</tspan> <tspan x="1577.83" y="83.00" font-size="29.00" textLength="14.64" lengthAdjust="spacingAndGlyphs" fill="#1c1c1c" font-weight="bold">2</tspan> <tspan x="1597.79" y="82.24" font-size="29.12" textLength="10.45" lengthAdjust="spacingAndGlyphs" fill="#1c1c1c" font-weight="bold">(</tspan><tspan x="1608.94" y="82.96" font-size="27.15" textLength="17.77" lengthAdjust="spacingAndGlyphs" fill="#000" font-style="italic">φ</tspan><tspan x="1628.21" y="86.70" font-size="15.30" textLength="7.61" lengthAdjust="spacingAndGlyphs" fill="#000">1</tspan> <tspan x="1642.85" y="83.76" font-size="20.80" textLength="17.47" lengthAdjust="spacingAndGlyphs" fill="#000">=</tspan> <tspan x="1665.26" y="82.35" font-size="24.78" textLength="16.02" lengthAdjust="spacingAndGlyphs" fill="#000">3</tspan><tspan x="1681.13" y="68.85" font-size="14.58" textLength="7.84" lengthAdjust="spacingAndGlyphs" fill="#000" font-style="italic">o</tspan><tspan x="1691.39" y="82.24" font-size="29.12" textLength="8.97" lengthAdjust="spacingAndGlyphs" fill="#1c1c1c" font-weight="bold">)</tspan></text>
<text class="sf"><tspan x="1879.70" y="83.00" font-size="29.00" textLength="56.01" lengthAdjust="spacingAndGlyphs" fill="#1c1c1c" font-weight="bold">ERV</tspan> <tspan x="1941.76" y="83.00" font-size="29.00" textLength="131.65" lengthAdjust="spacingAndGlyphs" fill="#1c1c1c" font-weight="bold">estimation</tspan> <tspan x="2081.00" y="83.00" font-size="29.00" textLength="55.82" lengthAdjust="spacingAndGlyphs" fill="#1c1c1c" font-weight="bold">with</tspan> <tspan x="2143.57" y="83.00" font-size="29.00" textLength="93.58" lengthAdjust="spacingAndGlyphs" fill="#1c1c1c" font-weight="bold">method</tspan> <tspan x="2243.14" y="83.00" font-size="29.00" textLength="14.52" lengthAdjust="spacingAndGlyphs" fill="#1c1c1c" font-weight="bold">2</tspan> <tspan x="2263.28" y="82.24" font-size="29.12" textLength="9.01" lengthAdjust="spacingAndGlyphs" fill="#1c1c1c" font-weight="bold">(</tspan><tspan x="2273.07" y="87.04" font-size="27.74" textLength="17.21" lengthAdjust="spacingAndGlyphs" fill="#000" font-style="italic">φ</tspan><tspan x="2292.92" y="90.40" font-size="15.76" textLength="8.63" lengthAdjust="spacingAndGlyphs" fill="#000">2</tspan> <tspan x="2308.61" y="86.23" font-size="21.60" textLength="17.95" lengthAdjust="spacingAndGlyphs" fill="#000">=</tspan> <tspan x="2331.45" y="90.86" font-size="32.00" textLength="17.47" lengthAdjust="spacingAndGlyphs" fill="#000">−</tspan><tspan x="2346.40" y="86.10" font-size="28.18" textLength="16.62" lengthAdjust="spacingAndGlyphs" fill="#000">2</tspan><tspan x="2361.76" y="72.76" font-size="14.38" textLength="7.27" lengthAdjust="spacingAndGlyphs" fill="#000" font-style="italic">o</tspan><tspan x="2367.22" y="82.24" font-size="29.12" textLength="8.71" lengthAdjust="spacingAndGlyphs" fill="#555" font-weight="bold">)</tspan></text>
<line x1="1382.9" y1="147.5" x2="1299.0" y2="182.9" stroke="#0505ff" stroke-width="2.2"/>
<polygon points="1285.6,188.5 1296.4,176.8 1301.5,189.0" fill="#0505ff"/>
<line x1="2045.2" y1="147.5" x2="1961.1" y2="182.9" stroke="#0505ff" stroke-width="2.2"/>
<polygon points="1947.7,188.5 1958.5,176.8 1963.6,189.0" fill="#0505ff"/>
<text transform="translate(1385.50,165.10) scale(1.0113,1)" font-size="25.50" class="sf" fill="#0505ff" font-weight="bold">-17.15m/s</text>
<text transform="translate(2048.40,165.10) scale(1.0113,1)" font-size="25.50" class="sf" fill="#0505ff" font-weight="bold">-17.59m/s</text>
<rect x="1604.6" y="172.3" width="90.6" height="71.1" fill="#000092"/>
<path d="M1687.3 176.2h2.1v2.1h-2.1zM1655.8 178.2h2.1v2.1h-2.1zM1661.7 178.2h2.1v2.1h-2.1zM1681.4 178.2h2.1v2.1h-2.1zM1683.4 178.2h2.1v2.1h-2.1zM1685.4 178.2h2.1v2.1h-2.1zM1689.3 178.2h2.1v2.1h-2.1zM1679.4 180.2h2.1v2.1h-2.1zM1689.3 180.2h2.1v2.1h-2.1zM1632.2 182.2h2.1v2.1h-2.1zM1673.5 182.2h2.1v2.1h-2.1zM1675.5 182.2h2.1v2.1h-2.1zM1677.5 182.2h2.1v2.1h-2.1zM1665.7 184.2h2.1v2.1h-2.1zM1667.6 184.2h2.1v2.1h-2.1zM1669.6 184.2h2.1v2.1h-2.1zM1671.6 184.2h2.1v2.1h-2.1zM1693.2 184.2h2.1v2.1h-2.1zM1608.5 186.1h2.1v2.1h-2.1zM1646.0 186.1h2.1v2.1h-2.1zM1661.7 186.1h2.1v2.1h-2.1zM1663.7 186.1h2.1v2.1h-2.1zM1665.7 186.1h2.1v2.1h-2.1zM1642.0 188.1h2.1v2.1h-2.1zM1649.9 188.1h2.1v2.1h-2.1zM1659.7 188.1h2.1v2.1h-2.1zM1663.7 188.1h2.1v2.1h-2.1zM1693.2 188.1h2.1v2.1h-2.1zM1644.0 190.1h2.1v2.1h-2.1zM1647.9 190.1h2.1v2.1h-2.1zM1649.9 190.1h2.1v2.1h-2.1zM1651.9 190.1h2.1v2.1h-2.1zM1653.8 190.1h2.1v2.1h-2.1zM1655.8 190.1h2.1v2.1h-2.1zM1642.0 192.1h2.1v2.1h-2.1zM1644.0 192.1h2.1v2.1h-2.1zM1647.9 192.1h2.1v2.1h-2.1zM1687.3 192.1h2.1v2.1h-2.1zM1691.3 192.1h2.1v2.1h-2.1zM1693.2 192.1h2.1v2.1h-2.1zM1646.0 194.0h2.1v2.1h-2.1zM1647.9 194.0h2.1v2.1h-2.1zM1649.9 194.0h2.1v2.1h-2.1zM1636.1 196.0h2.1v2.1h-2.1zM1646.0 196.0h2.1v2.1h-2.1zM1647.9 196.0h2.1v2.1h-2.1zM1677.5 196.0h2.1v2.1h-2.1zM1679.4 196.0h2.1v2.1h-2.1zM1687.3 196.0h2.1v2.1h-2.1zM1630.2 198.0h2.1v2.1h-2.1zM1634.1 198.0h2.1v2.1h-2.1zM1640.1 198.0h2.1v2.1h-2.1zM1646.0 198.0h2.1v2.1h-2.1zM1647.9 198.0h2.1v2.1h-2.1zM1649.9 198.0h2.1v2.1h-2.1zM1677.5 198.0h2.1v2.1h-2.1zM1679.4 198.0h2.1v2.1h-2.1zM1685.4 198.0h2.1v2.1h-2.1zM1626.3 200.0h2.1v2.1h-2.1zM1630.2 200.0h2.1v2.1h-2.1zM1632.2 200.0h2.1v2.1h-2.1zM1638.1 200.0h2.1v2.1h-2.1zM1640.1 200.0h2.1v2.1h-2.1zM1646.0 200.0h2.1v2.1h-2.1zM1677.5 200.0h2.1v2.1h-2.1zM1679.4 200.0h2.1v2.1h-2.1zM1681.4 200.0h2.1v2.1h-2.1zM1683.4 200.0h2.1v2.1h-2.1zM1630.2 201.9h2.1v2.1h-2.1zM1632.2 201.9h2.1v2.1h-2.1zM1638.1 201.9h2.1v2.1h-2.1zM1640.1 201.9h2.1v2.1h-2.1zM1671.6 201.9h2.1v2.1h-2.1zM1679.4 201.9h2.1v2.1h-2.1zM1683.4 201.9h2.1v2.1h-2.1zM1685.4 201.9h2.1v2.1h-2.1zM1610.5 203.9h2.1v2.1h-2.1zM1630.2 203.9h2.1v2.1h-2.1zM1632.2 203.9h2.1v2.1h-2.1zM1640.1 203.9h2.1v2.1h-2.1zM1679.4 203.9h2.1v2.1h-2.1zM1683.4 203.9h2.1v2.1h-2.1zM1628.2 205.9h2.1v2.1h-2.1zM1630.2 205.9h2.1v2.1h-2.1zM1673.5 205.9h2.1v2.1h-2.1zM1677.5 205.9h2.1v2.1h-2.1zM1626.3 207.9h2.1v2.1h-2.1zM1630.2 207.9h2.1v2.1h-2.1zM1671.6 207.9h2.1v2.1h-2.1zM1620.4 209.8h2.1v2.1h-2.1zM1622.3 209.8h2.1v2.1h-2.1zM1624.3 209.8h2.1v2.1h-2.1zM1626.3 209.8h2.1v2.1h-2.1zM1628.2 209.8h2.1v2.1h-2.1zM1624.3 211.8h2.1v2.1h-2.1zM1669.6 211.8h2.1v2.1h-2.1zM1671.6 211.8h2.1v2.1h-2.1zM1673.5 211.8h2.1v2.1h-2.1zM1604.6 213.8h2.1v2.1h-2.1zM1618.4 213.8h2.1v2.1h-2.1zM1659.7 213.8h2.1v2.1h-2.1zM1661.7 213.8h2.1v2.1h-2.1zM1669.6 213.8h2.1v2.1h-2.1zM1671.6 213.8h2.1v2.1h-2.1zM1604.6 215.8h2.1v2.1h-2.1zM1618.4 215.8h2.1v2.1h-2.1zM1657.8 215.8h2.1v2.1h-2.1zM1659.7 215.8h2.1v2.1h-2.1zM1661.7 215.8h2.1v2.1h-2.1zM1665.7 215.8h2.1v2.1h-2.1zM1667.6 215.8h2.1v2.1h-2.1zM1669.6 215.8h2.1v2.1h-2.1zM1677.5 215.8h2.1v2.1h-2.1zM1612.5 217.7h2.1v2.1h-2.1zM1616.4 217.7h2.1v2.1h-2.1zM1618.4 217.7h2.1v2.1h-2.1zM1620.4 217.7h2.1v2.1h-2.1zM1659.7 217.7h2.1v2.1h-2.1zM1661.7 217.7h2.1v2.1h-2.1zM1612.5 219.7h2.1v2.1h-2.1zM1614.4 219.7h2.1v2.1h-2.1zM1618.4 219.7h2.1v2.1h-2.1zM1663.7 219.7h2.1v2.1h-2.1zM1610.5 221.7h2.1v2.1h-2.1zM1614.4 221.7h2.1v2.1h-2.1zM1653.8 221.7h2.1v2.1h-2.1zM1659.7 221.7h2.1v2.1h-2.1zM1610.5 223.7h2.1v2.1h-2.1zM1647.9 223.7h2.1v2.1h-2.1zM1651.9 223.7h2.1v2.1h-2.1zM1653.8 223.7h2.1v2.1h-2.1zM1655.8 223.7h2.1v2.1h-2.1zM1659.7 223.7h2.1v2.1h-2.1zM1661.7 223.7h2.1v2.1h-2.1zM1663.7 223.7h2.1v2.1h-2.1zM1608.5 225.6h2.1v2.1h-2.1zM1610.5 225.6h2.1v2.1h-2.1zM1646.0 225.6h2.1v2.1h-2.1zM1649.9 225.6h2.1v2.1h-2.1zM1651.9 225.6h2.1v2.1h-2.1zM1653.8 225.6h2.1v2.1h-2.1zM1655.8 225.6h2.1v2.1h-2.1zM1604.6 227.6h2.1v2.1h-2.1zM1644.0 227.6h2.1v2.1h-2.1zM1646.0 227.6h2.1v2.1h-2.1zM1649.9 227.6h2.1v2.1h-2.1zM1651.9 227.6h2.1v2.1h-2.1zM1653.8 227.6h2.1v2.1h-2.1zM1655.8 227.6h2.1v2.1h-2.1zM1604.6 229.6h2.1v2.1h-2.1zM1632.2 229.6h2.1v2.1h-2.1zM1634.1 229.6h2.1v2.1h-2.1zM1640.1 229.6h2.1v2.1h-2.1zM1653.8 229.6h2.1v2.1h-2.1zM1683.4 229.6h2.1v2.1h-2.1zM1604.6 231.6h2.1v2.1h-2.1zM1624.3 231.6h2.1v2.1h-2.1zM1626.3 231.6h2.1v2.1h-2.1zM1632.2 231.6h2.1v2.1h-2.1zM1636.1 231.6h2.1v2.1h-2.1zM1638.1 231.6h2.1v2.1h-2.1zM1640.1 231.6h2.1v2.1h-2.1zM1604.6 233.5h2.1v2.1h-2.1zM1622.3 233.5h2.1v2.1h-2.1zM1624.3 233.5h2.1v2.1h-2.1zM1626.3 233.5h2.1v2.1h-2.1zM1628.2 233.5h2.1v2.1h-2.1zM1632.2 233.5h2.1v2.1h-2.1zM1636.1 233.5h2.1v2.1h-2.1zM1640.1 233.5h2.1v2.1h-2.1zM1604.6 235.5h2.1v2.1h-2.1zM1620.4 235.5h2.1v2.1h-2.1zM1622.3 235.5h2.1v2.1h-2.1zM1626.3 235.5h2.1v2.1h-2.1zM1630.2 235.5h2.1v2.1h-2.1zM1604.6 237.5h2.1v2.1h-2.1zM1620.4 237.5h2.1v2.1h-2.1zM1622.3 237.5h2.1v2.1h-2.1zM1626.3 237.5h2.1v2.1h-2.1zM1608.5 239.4h2.1v2.1h-2.1zM1614.4 239.4h2.1v2.1h-2.1zM1616.4 239.4h2.1v2.1h-2.1zM1618.4 239.4h2.1v2.1h-2.1zM1620.4 239.4h2.1v2.1h-2.1zM1606.6 241.4h2.1v2.1h-2.1zM1610.5 241.4h2.1v2.1h-2.1zM1612.5 241.4h2.1v2.1h-2.1zM1614.4 241.4h2.1v2.1h-2.1zM1620.4 241.4h2.1v2.1h-2.1zM1679.4 241.4h2.1v2.1h-2.1zM1681.4 241.4h2.1v2.1h-2.1z" fill="#0000c8"/>
<path d="M1687.3 178.2h2.1v2.1h-2.1zM1681.4 180.2h2.1v2.1h-2.1zM1683.4 180.2h2.1v2.1h-2.1zM1689.3 182.2h2.1v2.1h-2.1zM1691.3 184.2h2.1v2.1h-2.1zM1667.6 186.1h2.1v2.1h-2.1zM1671.6 186.1h2.1v2.1h-2.1zM1655.8 188.1h2.1v2.1h-2.1zM1657.8 188.1h2.1v2.1h-2.1zM1661.7 188.1h2.1v2.1h-2.1zM1665.7 188.1h2.1v2.1h-2.1zM1657.8 190.1h2.1v2.1h-2.1zM1663.7 190.1h2.1v2.1h-2.1zM1693.2 190.1h2.1v2.1h-2.1zM1651.9 192.1h2.1v2.1h-2.1zM1689.3 192.1h2.1v2.1h-2.1zM1642.0 194.0h2.1v2.1h-2.1zM1644.0 194.0h2.1v2.1h-2.1zM1651.9 194.0h2.1v2.1h-2.1zM1655.8 194.0h2.1v2.1h-2.1zM1661.7 194.0h2.1v2.1h-2.1zM1679.4 194.0h2.1v2.1h-2.1zM1685.4 196.0h2.1v2.1h-2.1zM1651.9 198.0h2.1v2.1h-2.1zM1667.6 198.0h2.1v2.1h-2.1zM1675.5 198.0h2.1v2.1h-2.1zM1681.4 198.0h2.1v2.1h-2.1zM1642.0 200.0h2.1v2.1h-2.1zM1644.0 200.0h2.1v2.1h-2.1zM1669.6 200.0h2.1v2.1h-2.1zM1675.5 200.0h2.1v2.1h-2.1zM1634.1 201.9h2.1v2.1h-2.1zM1636.1 201.9h2.1v2.1h-2.1zM1642.0 201.9h2.1v2.1h-2.1zM1673.5 201.9h2.1v2.1h-2.1zM1675.5 201.9h2.1v2.1h-2.1zM1677.5 201.9h2.1v2.1h-2.1zM1634.1 203.9h2.1v2.1h-2.1zM1638.1 203.9h2.1v2.1h-2.1zM1651.9 203.9h2.1v2.1h-2.1zM1673.5 203.9h2.1v2.1h-2.1zM1677.5 203.9h2.1v2.1h-2.1zM1632.2 205.9h2.1v2.1h-2.1zM1634.1 205.9h2.1v2.1h-2.1zM1651.9 205.9h2.1v2.1h-2.1zM1671.6 205.9h2.1v2.1h-2.1zM1628.2 207.9h2.1v2.1h-2.1zM1632.2 207.9h2.1v2.1h-2.1zM1634.1 207.9h2.1v2.1h-2.1zM1630.2 209.8h2.1v2.1h-2.1zM1669.6 209.8h2.1v2.1h-2.1zM1626.3 211.8h2.1v2.1h-2.1zM1667.6 211.8h2.1v2.1h-2.1zM1620.4 213.8h2.1v2.1h-2.1zM1622.3 213.8h2.1v2.1h-2.1zM1624.3 213.8h2.1v2.1h-2.1zM1667.6 213.8h2.1v2.1h-2.1zM1663.7 215.8h2.1v2.1h-2.1zM1642.0 217.7h2.1v2.1h-2.1zM1655.8 217.7h2.1v2.1h-2.1zM1657.8 217.7h2.1v2.1h-2.1zM1663.7 217.7h2.1v2.1h-2.1zM1616.4 219.7h2.1v2.1h-2.1zM1620.4 219.7h2.1v2.1h-2.1zM1638.1 219.7h2.1v2.1h-2.1zM1657.8 219.7h2.1v2.1h-2.1zM1659.7 219.7h2.1v2.1h-2.1zM1661.7 219.7h2.1v2.1h-2.1zM1612.5 221.7h2.1v2.1h-2.1zM1638.1 221.7h2.1v2.1h-2.1zM1651.9 221.7h2.1v2.1h-2.1zM1655.8 221.7h2.1v2.1h-2.1zM1657.8 221.7h2.1v2.1h-2.1zM1620.4 223.7h2.1v2.1h-2.1zM1657.8 223.7h2.1v2.1h-2.1zM1612.5 225.6h2.1v2.1h-2.1zM1644.0 225.6h2.1v2.1h-2.1zM1606.6 227.6h2.1v2.1h-2.1zM1610.5 227.6h2.1v2.1h-2.1zM1626.3 227.6h2.1v2.1h-2.1zM1636.1 227.6h2.1v2.1h-2.1zM1640.1 227.6h2.1v2.1h-2.1zM1642.0 227.6h2.1v2.1h-2.1zM1626.3 229.6h2.1v2.1h-2.1zM1636.1 229.6h2.1v2.1h-2.1zM1638.1 229.6h2.1v2.1h-2.1zM1622.3 231.6h2.1v2.1h-2.1zM1628.2 231.6h2.1v2.1h-2.1zM1630.2 231.6h2.1v2.1h-2.1zM1606.6 235.5h2.1v2.1h-2.1zM1606.6 237.5h2.1v2.1h-2.1zM1614.4 237.5h2.1v2.1h-2.1zM1624.3 237.5h2.1v2.1h-2.1zM1606.6 239.4h2.1v2.1h-2.1z" fill="#0000ed"/>
<path d="M1687.3 180.2h2.1v2.1h-2.1zM1673.5 184.2h2.1v2.1h-2.1zM1679.4 184.2h2.1v2.1h-2.1zM1673.5 186.1h2.1v2.1h-2.1zM1691.3 186.1h2.1v2.1h-2.1zM1693.2 186.1h2.1v2.1h-2.1zM1661.7 190.1h2.1v2.1h-2.1zM1679.4 190.1h2.1v2.1h-2.1zM1689.3 190.1h2.1v2.1h-2.1zM1691.3 190.1h2.1v2.1h-2.1zM1655.8 192.1h2.1v2.1h-2.1zM1659.7 192.1h2.1v2.1h-2.1zM1661.7 192.1h2.1v2.1h-2.1zM1663.7 192.1h2.1v2.1h-2.1zM1653.8 194.0h2.1v2.1h-2.1zM1642.0 196.0h2.1v2.1h-2.1zM1649.9 196.0h2.1v2.1h-2.1zM1675.5 196.0h2.1v2.1h-2.1zM1644.0 198.0h2.1v2.1h-2.1zM1665.7 198.0h2.1v2.1h-2.1zM1683.4 198.0h2.1v2.1h-2.1zM1647.9 200.0h2.1v2.1h-2.1zM1671.6 200.0h2.1v2.1h-2.1zM1646.0 201.9h2.1v2.1h-2.1zM1636.1 203.9h2.1v2.1h-2.1zM1642.0 203.9h2.1v2.1h-2.1zM1671.6 203.9h2.1v2.1h-2.1zM1675.5 203.9h2.1v2.1h-2.1zM1638.1 205.9h2.1v2.1h-2.1zM1640.1 205.9h2.1v2.1h-2.1zM1636.1 207.9h2.1v2.1h-2.1zM1655.8 207.9h2.1v2.1h-2.1zM1632.2 209.8h2.1v2.1h-2.1zM1636.1 209.8h2.1v2.1h-2.1zM1663.7 209.8h2.1v2.1h-2.1zM1632.2 211.8h2.1v2.1h-2.1zM1661.7 211.8h2.1v2.1h-2.1zM1626.3 213.8h2.1v2.1h-2.1zM1655.8 213.8h2.1v2.1h-2.1zM1657.8 213.8h2.1v2.1h-2.1zM1663.7 213.8h2.1v2.1h-2.1zM1665.7 213.8h2.1v2.1h-2.1zM1626.3 215.8h2.1v2.1h-2.1zM1653.8 215.8h2.1v2.1h-2.1zM1642.0 219.7h2.1v2.1h-2.1zM1647.9 219.7h2.1v2.1h-2.1zM1653.8 219.7h2.1v2.1h-2.1zM1616.4 221.7h2.1v2.1h-2.1zM1640.1 221.7h2.1v2.1h-2.1zM1612.5 223.7h2.1v2.1h-2.1zM1614.4 223.7h2.1v2.1h-2.1zM1618.4 223.7h2.1v2.1h-2.1zM1638.1 223.7h2.1v2.1h-2.1zM1644.0 223.7h2.1v2.1h-2.1zM1646.0 223.7h2.1v2.1h-2.1zM1649.9 223.7h2.1v2.1h-2.1zM1618.4 225.6h2.1v2.1h-2.1zM1640.1 225.6h2.1v2.1h-2.1zM1642.0 225.6h2.1v2.1h-2.1zM1612.5 227.6h2.1v2.1h-2.1zM1632.2 227.6h2.1v2.1h-2.1zM1638.1 227.6h2.1v2.1h-2.1zM1614.4 235.5h2.1v2.1h-2.1zM1618.4 237.5h2.1v2.1h-2.1zM1610.5 239.4h2.1v2.1h-2.1z" fill="#0012ff"/>
<path d="M1685.4 180.2h2.1v2.1h-2.1zM1679.4 182.2h2.1v2.1h-2.1zM1677.5 184.2h2.1v2.1h-2.1zM1689.3 184.2h2.1v2.1h-2.1zM1669.6 186.1h2.1v2.1h-2.1zM1689.3 186.1h2.1v2.1h-2.1zM1677.5 188.1h2.1v2.1h-2.1zM1691.3 188.1h2.1v2.1h-2.1zM1687.3 190.1h2.1v2.1h-2.1zM1653.8 192.1h2.1v2.1h-2.1zM1667.6 192.1h2.1v2.1h-2.1zM1659.7 194.0h2.1v2.1h-2.1zM1663.7 194.0h2.1v2.1h-2.1zM1681.4 194.0h2.1v2.1h-2.1zM1685.4 194.0h2.1v2.1h-2.1zM1644.0 196.0h2.1v2.1h-2.1zM1651.9 196.0h2.1v2.1h-2.1zM1655.8 196.0h2.1v2.1h-2.1zM1681.4 196.0h2.1v2.1h-2.1zM1642.0 198.0h2.1v2.1h-2.1zM1651.9 200.0h2.1v2.1h-2.1zM1667.6 200.0h2.1v2.1h-2.1zM1673.5 200.0h2.1v2.1h-2.1zM1647.9 201.9h2.1v2.1h-2.1zM1646.0 205.9h2.1v2.1h-2.1zM1667.6 205.9h2.1v2.1h-2.1zM1667.6 207.9h2.1v2.1h-2.1zM1669.6 207.9h2.1v2.1h-2.1zM1661.7 209.8h2.1v2.1h-2.1zM1667.6 209.8h2.1v2.1h-2.1zM1628.2 211.8h2.1v2.1h-2.1zM1653.8 213.8h2.1v2.1h-2.1zM1620.4 215.8h2.1v2.1h-2.1zM1622.3 215.8h2.1v2.1h-2.1zM1632.2 215.8h2.1v2.1h-2.1zM1638.1 215.8h2.1v2.1h-2.1zM1640.1 215.8h2.1v2.1h-2.1zM1655.8 215.8h2.1v2.1h-2.1zM1622.3 217.7h2.1v2.1h-2.1zM1626.3 217.7h2.1v2.1h-2.1zM1644.0 217.7h2.1v2.1h-2.1zM1646.0 217.7h2.1v2.1h-2.1zM1644.0 219.7h2.1v2.1h-2.1zM1646.0 219.7h2.1v2.1h-2.1zM1649.9 219.7h2.1v2.1h-2.1zM1651.9 219.7h2.1v2.1h-2.1zM1620.4 221.7h2.1v2.1h-2.1zM1626.3 221.7h2.1v2.1h-2.1zM1644.0 221.7h2.1v2.1h-2.1zM1647.9 221.7h2.1v2.1h-2.1zM1649.9 221.7h2.1v2.1h-2.1zM1616.4 223.7h2.1v2.1h-2.1zM1630.2 223.7h2.1v2.1h-2.1zM1614.4 225.6h2.1v2.1h-2.1zM1636.1 225.6h2.1v2.1h-2.1zM1608.5 227.6h2.1v2.1h-2.1zM1624.3 229.6h2.1v2.1h-2.1zM1628.2 229.6h2.1v2.1h-2.1zM1630.2 229.6h2.1v2.1h-2.1zM1606.6 231.6h2.1v2.1h-2.1zM1606.6 233.5h2.1v2.1h-2.1zM1614.4 233.5h2.1v2.1h-2.1zM1620.4 233.5h2.1v2.1h-2.1zM1612.5 235.5h2.1v2.1h-2.1zM1618.4 235.5h2.1v2.1h-2.1z" fill="#0037ff"/>
<path d="M1687.3 182.2h2.1v2.1h-2.1zM1667.6 188.1h2.1v2.1h-2.1zM1679.4 188.1h2.1v2.1h-2.1zM1659.7 190.1h2.1v2.1h-2.1zM1681.4 190.1h2.1v2.1h-2.1zM1657.8 192.1h2.1v2.1h-2.1zM1657.8 194.0h2.1v2.1h-2.1zM1653.8 196.0h2.1v2.1h-2.1zM1665.7 196.0h2.1v2.1h-2.1zM1669.6 198.0h2.1v2.1h-2.1zM1673.5 198.0h2.1v2.1h-2.1zM1649.9 200.0h2.1v2.1h-2.1zM1653.8 201.9h2.1v2.1h-2.1zM1644.0 203.9h2.1v2.1h-2.1zM1646.0 203.9h2.1v2.1h-2.1zM1649.9 203.9h2.1v2.1h-2.1zM1657.8 203.9h2.1v2.1h-2.1zM1653.8 205.9h2.1v2.1h-2.1zM1669.6 205.9h2.1v2.1h-2.1zM1651.9 207.9h2.1v2.1h-2.1zM1653.8 207.9h2.1v2.1h-2.1zM1647.9 209.8h2.1v2.1h-2.1zM1630.2 211.8h2.1v2.1h-2.1zM1642.0 211.8h2.1v2.1h-2.1zM1647.9 211.8h2.1v2.1h-2.1zM1659.7 211.8h2.1v2.1h-2.1zM1665.7 211.8h2.1v2.1h-2.1zM1632.2 213.8h2.1v2.1h-2.1zM1640.1 213.8h2.1v2.1h-2.1zM1642.0 213.8h2.1v2.1h-2.1zM1651.9 213.8h2.1v2.1h-2.1zM1642.0 215.8h2.1v2.1h-2.1zM1651.9 215.8h2.1v2.1h-2.1zM1634.1 217.7h2.1v2.1h-2.1zM1638.1 217.7h2.1v2.1h-2.1zM1653.8 217.7h2.1v2.1h-2.1zM1640.1 219.7h2.1v2.1h-2.1zM1655.8 219.7h2.1v2.1h-2.1zM1624.3 221.7h2.1v2.1h-2.1zM1622.3 223.7h2.1v2.1h-2.1zM1640.1 223.7h2.1v2.1h-2.1zM1626.3 225.6h2.1v2.1h-2.1zM1628.2 225.6h2.1v2.1h-2.1zM1630.2 225.6h2.1v2.1h-2.1zM1632.2 225.6h2.1v2.1h-2.1zM1628.2 227.6h2.1v2.1h-2.1zM1634.1 227.6h2.1v2.1h-2.1zM1606.6 229.6h2.1v2.1h-2.1zM1610.5 229.6h2.1v2.1h-2.1zM1608.5 231.6h2.1v2.1h-2.1zM1620.4 231.6h2.1v2.1h-2.1zM1610.5 233.5h2.1v2.1h-2.1zM1608.5 237.5h2.1v2.1h-2.1zM1616.4 237.5h2.1v2.1h-2.1zM1612.5 239.4h2.1v2.1h-2.1z" fill="#005bff"/>
<path d="M1675.5 184.2h2.1v2.1h-2.1zM1675.5 188.1h2.1v2.1h-2.1zM1665.7 190.1h2.1v2.1h-2.1zM1667.6 190.1h2.1v2.1h-2.1zM1669.6 190.1h2.1v2.1h-2.1zM1671.6 190.1h2.1v2.1h-2.1zM1685.4 190.1h2.1v2.1h-2.1zM1677.5 192.1h2.1v2.1h-2.1zM1679.4 192.1h2.1v2.1h-2.1zM1685.4 192.1h2.1v2.1h-2.1zM1665.7 194.0h2.1v2.1h-2.1zM1667.6 194.0h2.1v2.1h-2.1zM1677.5 194.0h2.1v2.1h-2.1zM1657.8 196.0h2.1v2.1h-2.1zM1671.6 196.0h2.1v2.1h-2.1zM1673.5 196.0h2.1v2.1h-2.1zM1653.8 198.0h2.1v2.1h-2.1zM1653.8 200.0h2.1v2.1h-2.1zM1651.9 201.9h2.1v2.1h-2.1zM1657.8 201.9h2.1v2.1h-2.1zM1667.6 201.9h2.1v2.1h-2.1zM1669.6 201.9h2.1v2.1h-2.1zM1653.8 203.9h2.1v2.1h-2.1zM1659.7 203.9h2.1v2.1h-2.1zM1642.0 205.9h2.1v2.1h-2.1zM1649.9 205.9h2.1v2.1h-2.1zM1663.7 207.9h2.1v2.1h-2.1zM1665.7 207.9h2.1v2.1h-2.1zM1634.1 209.8h2.1v2.1h-2.1zM1646.0 209.8h2.1v2.1h-2.1zM1665.7 209.8h2.1v2.1h-2.1zM1640.1 211.8h2.1v2.1h-2.1zM1649.9 211.8h2.1v2.1h-2.1zM1651.9 211.8h2.1v2.1h-2.1zM1638.1 213.8h2.1v2.1h-2.1zM1646.0 213.8h2.1v2.1h-2.1zM1628.2 215.8h2.1v2.1h-2.1zM1634.1 215.8h2.1v2.1h-2.1zM1636.1 219.7h2.1v2.1h-2.1zM1618.4 221.7h2.1v2.1h-2.1zM1642.0 221.7h2.1v2.1h-2.1zM1636.1 223.7h2.1v2.1h-2.1zM1616.4 225.6h2.1v2.1h-2.1zM1620.4 225.6h2.1v2.1h-2.1zM1638.1 225.6h2.1v2.1h-2.1zM1616.4 227.6h2.1v2.1h-2.1zM1622.3 227.6h2.1v2.1h-2.1zM1624.3 227.6h2.1v2.1h-2.1zM1630.2 227.6h2.1v2.1h-2.1zM1612.5 229.6h2.1v2.1h-2.1zM1622.3 229.6h2.1v2.1h-2.1zM1610.5 231.6h2.1v2.1h-2.1z" fill="#0080ff"/>
<path d="M1683.4 182.2h2.1v2.1h-2.1zM1673.5 188.1h2.1v2.1h-2.1zM1667.6 196.0h2.1v2.1h-2.1zM1683.4 196.0h2.1v2.1h-2.1zM1644.0 201.9h2.1v2.1h-2.1zM1655.8 201.9h2.1v2.1h-2.1zM1636.1 205.9h2.1v2.1h-2.1zM1655.8 205.9h2.1v2.1h-2.1zM1638.1 207.9h2.1v2.1h-2.1zM1644.0 207.9h2.1v2.1h-2.1zM1646.0 207.9h2.1v2.1h-2.1zM1649.9 207.9h2.1v2.1h-2.1zM1661.7 207.9h2.1v2.1h-2.1zM1640.1 209.8h2.1v2.1h-2.1zM1628.2 213.8h2.1v2.1h-2.1zM1624.3 215.8h2.1v2.1h-2.1zM1646.0 215.8h2.1v2.1h-2.1zM1640.1 217.7h2.1v2.1h-2.1zM1622.3 219.7h2.1v2.1h-2.1zM1626.3 219.7h2.1v2.1h-2.1zM1628.2 221.7h2.1v2.1h-2.1zM1630.2 221.7h2.1v2.1h-2.1zM1636.1 221.7h2.1v2.1h-2.1zM1646.0 221.7h2.1v2.1h-2.1zM1624.3 223.7h2.1v2.1h-2.1zM1632.2 223.7h2.1v2.1h-2.1zM1618.4 227.6h2.1v2.1h-2.1zM1608.5 233.5h2.1v2.1h-2.1zM1612.5 233.5h2.1v2.1h-2.1zM1616.4 233.5h2.1v2.1h-2.1z" fill="#00a4ff"/>
<path d="M1681.4 182.2h2.1v2.1h-2.1zM1681.4 184.2h2.1v2.1h-2.1zM1679.4 186.1h2.1v2.1h-2.1zM1671.6 188.1h2.1v2.1h-2.1zM1677.5 190.1h2.1v2.1h-2.1zM1665.7 192.1h2.1v2.1h-2.1zM1671.6 194.0h2.1v2.1h-2.1zM1661.7 203.9h2.1v2.1h-2.1zM1667.6 203.9h2.1v2.1h-2.1zM1644.0 205.9h2.1v2.1h-2.1zM1657.8 207.9h2.1v2.1h-2.1zM1642.0 209.8h2.1v2.1h-2.1zM1644.0 209.8h2.1v2.1h-2.1zM1649.9 209.8h2.1v2.1h-2.1zM1655.8 209.8h2.1v2.1h-2.1zM1659.7 209.8h2.1v2.1h-2.1zM1634.1 211.8h2.1v2.1h-2.1zM1636.1 211.8h2.1v2.1h-2.1zM1638.1 211.8h2.1v2.1h-2.1zM1663.7 211.8h2.1v2.1h-2.1zM1630.2 213.8h2.1v2.1h-2.1zM1624.3 217.7h2.1v2.1h-2.1zM1636.1 217.7h2.1v2.1h-2.1zM1624.3 219.7h2.1v2.1h-2.1zM1622.3 221.7h2.1v2.1h-2.1zM1618.4 233.5h2.1v2.1h-2.1zM1608.5 235.5h2.1v2.1h-2.1zM1610.5 235.5h2.1v2.1h-2.1z" fill="#00c8ff"/>
<path d="M1673.5 190.1h2.1v2.1h-2.1zM1681.4 192.1h2.1v2.1h-2.1zM1669.6 194.0h2.1v2.1h-2.1zM1655.8 198.0h2.1v2.1h-2.1zM1647.9 205.9h2.1v2.1h-2.1zM1657.8 205.9h2.1v2.1h-2.1zM1640.1 207.9h2.1v2.1h-2.1zM1638.1 209.8h2.1v2.1h-2.1zM1657.8 209.8h2.1v2.1h-2.1zM1657.8 211.8h2.1v2.1h-2.1zM1647.9 213.8h2.1v2.1h-2.1zM1630.2 217.7h2.1v2.1h-2.1zM1632.2 217.7h2.1v2.1h-2.1zM1630.2 219.7h2.1v2.1h-2.1zM1634.1 219.7h2.1v2.1h-2.1zM1626.3 223.7h2.1v2.1h-2.1zM1642.0 223.7h2.1v2.1h-2.1zM1614.4 231.6h2.1v2.1h-2.1zM1616.4 231.6h2.1v2.1h-2.1zM1610.5 237.5h2.1v2.1h-2.1zM1612.5 237.5h2.1v2.1h-2.1z" fill="#00edff"/>
<path d="M1685.4 182.2h2.1v2.1h-2.1zM1683.4 184.2h2.1v2.1h-2.1zM1685.4 184.2h2.1v2.1h-2.1zM1687.3 184.2h2.1v2.1h-2.1zM1675.5 186.1h2.1v2.1h-2.1zM1677.5 186.1h2.1v2.1h-2.1zM1687.3 186.1h2.1v2.1h-2.1zM1689.3 188.1h2.1v2.1h-2.1zM1669.6 192.1h2.1v2.1h-2.1zM1661.7 196.0h2.1v2.1h-2.1zM1663.7 198.0h2.1v2.1h-2.1zM1649.9 201.9h2.1v2.1h-2.1zM1659.7 201.9h2.1v2.1h-2.1zM1630.2 215.8h2.1v2.1h-2.1zM1636.1 215.8h2.1v2.1h-2.1zM1644.0 215.8h2.1v2.1h-2.1zM1628.2 217.7h2.1v2.1h-2.1zM1647.9 217.7h2.1v2.1h-2.1zM1614.4 229.6h2.1v2.1h-2.1zM1616.4 229.6h2.1v2.1h-2.1zM1612.5 231.6h2.1v2.1h-2.1z" fill="#12ffed"/>
<path d="M1683.4 188.1h2.1v2.1h-2.1zM1683.4 190.1h2.1v2.1h-2.1zM1671.6 192.1h2.1v2.1h-2.1zM1663.7 196.0h2.1v2.1h-2.1zM1671.6 198.0h2.1v2.1h-2.1zM1655.8 203.9h2.1v2.1h-2.1zM1663.7 203.9h2.1v2.1h-2.1zM1661.7 205.9h2.1v2.1h-2.1zM1665.7 205.9h2.1v2.1h-2.1zM1642.0 207.9h2.1v2.1h-2.1zM1653.8 211.8h2.1v2.1h-2.1zM1655.8 211.8h2.1v2.1h-2.1zM1634.1 213.8h2.1v2.1h-2.1zM1649.9 215.8h2.1v2.1h-2.1zM1634.1 221.7h2.1v2.1h-2.1zM1628.2 223.7h2.1v2.1h-2.1zM1624.3 225.6h2.1v2.1h-2.1zM1614.4 227.6h2.1v2.1h-2.1zM1618.4 229.6h2.1v2.1h-2.1zM1620.4 229.6h2.1v2.1h-2.1zM1616.4 235.5h2.1v2.1h-2.1z" fill="#37ffc8"/>
<path d="M1669.6 188.1h2.1v2.1h-2.1zM1681.4 188.1h2.1v2.1h-2.1zM1675.5 190.1h2.1v2.1h-2.1zM1675.5 194.0h2.1v2.1h-2.1zM1683.4 194.0h2.1v2.1h-2.1zM1665.7 200.0h2.1v2.1h-2.1zM1647.9 203.9h2.1v2.1h-2.1zM1646.0 211.8h2.1v2.1h-2.1zM1644.0 213.8h2.1v2.1h-2.1zM1651.9 217.7h2.1v2.1h-2.1zM1628.2 219.7h2.1v2.1h-2.1zM1632.2 221.7h2.1v2.1h-2.1zM1622.3 225.6h2.1v2.1h-2.1zM1608.5 229.6h2.1v2.1h-2.1zM1618.4 231.6h2.1v2.1h-2.1z" fill="#5bffa4"/>
<path d="M1669.6 196.0h2.1v2.1h-2.1zM1659.7 198.0h2.1v2.1h-2.1zM1663.7 200.0h2.1v2.1h-2.1zM1620.4 227.6h2.1v2.1h-2.1z" fill="#80ff80"/>
<path d="M1657.8 200.0h2.1v2.1h-2.1zM1636.1 213.8h2.1v2.1h-2.1zM1647.9 215.8h2.1v2.1h-2.1zM1649.9 217.7h2.1v2.1h-2.1z" fill="#a4ff5b"/>
<path d="M1675.5 192.1h2.1v2.1h-2.1zM1657.8 198.0h2.1v2.1h-2.1zM1669.6 203.9h2.1v2.1h-2.1zM1659.7 205.9h2.1v2.1h-2.1zM1644.0 211.8h2.1v2.1h-2.1z" fill="#c8ff37"/>
<path d="M1683.4 192.1h2.1v2.1h-2.1zM1665.7 201.9h2.1v2.1h-2.1zM1647.9 207.9h2.1v2.1h-2.1zM1651.9 209.8h2.1v2.1h-2.1zM1653.8 209.8h2.1v2.1h-2.1z" fill="#edff12"/>
<path d="M1683.4 186.1h2.1v2.1h-2.1zM1685.4 186.1h2.1v2.1h-2.1zM1685.4 188.1h2.1v2.1h-2.1zM1659.7 196.0h2.1v2.1h-2.1zM1663.7 201.9h2.1v2.1h-2.1zM1663.7 205.9h2.1v2.1h-2.1zM1632.2 219.7h2.1v2.1h-2.1zM1634.1 225.6h2.1v2.1h-2.1z" fill="#ffed00"/>
<path d="M1687.3 188.1h2.1v2.1h-2.1zM1661.7 198.0h2.1v2.1h-2.1zM1661.7 201.9h2.1v2.1h-2.1zM1665.7 203.9h2.1v2.1h-2.1zM1659.7 207.9h2.1v2.1h-2.1z" fill="#ffc800"/>
<path d="M1655.8 200.0h2.1v2.1h-2.1zM1649.9 213.8h2.1v2.1h-2.1z" fill="#ffa400"/>
<path d="M1673.5 192.1h2.1v2.1h-2.1z" fill="#ff8000"/>
<path d="M1681.4 186.1h2.1v2.1h-2.1zM1659.7 200.0h2.1v2.1h-2.1zM1634.1 223.7h2.1v2.1h-2.1z" fill="#ff5b00"/>
<path d="M1673.5 194.0h2.1v2.1h-2.1zM1661.7 200.0h2.1v2.1h-2.1z" fill="#c80000"/>
<rect x="2265.7" y="172.3" width="90.3" height="71.1" fill="#000092"/>
<path d="M2277.5 172.3h2.1v2.1h-2.1zM2279.4 172.3h2.1v2.1h-2.1zM2283.4 172.3h2.1v2.1h-2.1zM2285.3 172.3h2.1v2.1h-2.1zM2287.3 172.3h2.1v2.1h-2.1zM2322.6 172.3h2.1v2.1h-2.1zM2332.4 172.3h2.1v2.1h-2.1zM2334.4 172.3h2.1v2.1h-2.1zM2338.3 172.3h2.1v2.1h-2.1zM2340.3 172.3h2.1v2.1h-2.1zM2346.2 172.3h2.1v2.1h-2.1zM2348.1 172.3h2.1v2.1h-2.1zM2352.1 172.3h2.1v2.1h-2.1zM2354.0 172.3h2.1v2.1h-2.1zM2322.6 174.3h2.1v2.1h-2.1zM2334.4 174.3h2.1v2.1h-2.1zM2336.4 174.3h2.1v2.1h-2.1zM2350.1 174.3h2.1v2.1h-2.1zM2352.1 174.3h2.1v2.1h-2.1zM2354.0 174.3h2.1v2.1h-2.1zM2328.5 176.2h2.1v2.1h-2.1zM2330.5 176.2h2.1v2.1h-2.1zM2332.4 176.2h2.1v2.1h-2.1zM2352.1 176.2h2.1v2.1h-2.1zM2316.7 178.2h2.1v2.1h-2.1zM2318.7 178.2h2.1v2.1h-2.1zM2328.5 178.2h2.1v2.1h-2.1zM2352.1 178.2h2.1v2.1h-2.1zM2354.0 178.2h2.1v2.1h-2.1zM2320.7 180.2h2.1v2.1h-2.1zM2322.6 180.2h2.1v2.1h-2.1zM2324.6 180.2h2.1v2.1h-2.1zM2326.6 180.2h2.1v2.1h-2.1zM2354.0 180.2h2.1v2.1h-2.1zM2303.0 182.2h2.1v2.1h-2.1zM2305.0 182.2h2.1v2.1h-2.1zM2306.9 182.2h2.1v2.1h-2.1zM2308.9 182.2h2.1v2.1h-2.1zM2312.8 182.2h2.1v2.1h-2.1zM2314.8 182.2h2.1v2.1h-2.1zM2316.7 182.2h2.1v2.1h-2.1zM2318.7 182.2h2.1v2.1h-2.1zM2352.1 182.2h2.1v2.1h-2.1zM2301.0 184.2h2.1v2.1h-2.1zM2303.0 184.2h2.1v2.1h-2.1zM2318.7 184.2h2.1v2.1h-2.1zM2348.1 184.2h2.1v2.1h-2.1zM2352.1 184.2h2.1v2.1h-2.1zM2279.4 186.1h2.1v2.1h-2.1zM2303.0 186.1h2.1v2.1h-2.1zM2308.9 186.1h2.1v2.1h-2.1zM2310.8 186.1h2.1v2.1h-2.1zM2314.8 186.1h2.1v2.1h-2.1zM2348.1 186.1h2.1v2.1h-2.1zM2303.0 188.1h2.1v2.1h-2.1zM2305.0 188.1h2.1v2.1h-2.1zM2306.9 188.1h2.1v2.1h-2.1zM2348.1 188.1h2.1v2.1h-2.1zM2303.0 190.1h2.1v2.1h-2.1zM2306.9 190.1h2.1v2.1h-2.1zM2346.2 190.1h2.1v2.1h-2.1zM2265.7 192.1h2.1v2.1h-2.1zM2303.0 192.1h2.1v2.1h-2.1zM2305.0 192.1h2.1v2.1h-2.1zM2346.2 192.1h2.1v2.1h-2.1zM2297.1 194.0h2.1v2.1h-2.1zM2299.1 194.0h2.1v2.1h-2.1zM2301.0 194.0h2.1v2.1h-2.1zM2303.0 194.0h2.1v2.1h-2.1zM2340.3 194.0h2.1v2.1h-2.1zM2295.1 196.0h2.1v2.1h-2.1zM2301.0 196.0h2.1v2.1h-2.1zM2340.3 196.0h2.1v2.1h-2.1zM2289.3 198.0h2.1v2.1h-2.1zM2293.2 198.0h2.1v2.1h-2.1zM2299.1 198.0h2.1v2.1h-2.1zM2287.3 200.0h2.1v2.1h-2.1zM2293.2 200.0h2.1v2.1h-2.1zM2297.1 200.0h2.1v2.1h-2.1zM2336.4 200.0h2.1v2.1h-2.1zM2283.4 201.9h2.1v2.1h-2.1zM2285.3 201.9h2.1v2.1h-2.1zM2287.3 201.9h2.1v2.1h-2.1zM2289.3 201.9h2.1v2.1h-2.1zM2291.2 201.9h2.1v2.1h-2.1zM2293.2 201.9h2.1v2.1h-2.1zM2295.1 201.9h2.1v2.1h-2.1zM2330.5 201.9h2.1v2.1h-2.1zM2336.4 201.9h2.1v2.1h-2.1zM2283.4 203.9h2.1v2.1h-2.1zM2287.3 203.9h2.1v2.1h-2.1zM2289.3 203.9h2.1v2.1h-2.1zM2334.4 203.9h2.1v2.1h-2.1zM2336.4 203.9h2.1v2.1h-2.1zM2354.0 203.9h2.1v2.1h-2.1zM2291.2 205.9h2.1v2.1h-2.1zM2328.5 205.9h2.1v2.1h-2.1zM2330.5 205.9h2.1v2.1h-2.1zM2332.4 205.9h2.1v2.1h-2.1zM2334.4 205.9h2.1v2.1h-2.1zM2336.4 205.9h2.1v2.1h-2.1zM2338.3 205.9h2.1v2.1h-2.1zM2322.6 207.9h2.1v2.1h-2.1zM2328.5 207.9h2.1v2.1h-2.1zM2332.4 207.9h2.1v2.1h-2.1zM2283.4 209.8h2.1v2.1h-2.1zM2328.5 209.8h2.1v2.1h-2.1zM2279.4 211.8h2.1v2.1h-2.1zM2320.7 211.8h2.1v2.1h-2.1zM2322.6 211.8h2.1v2.1h-2.1zM2326.6 211.8h2.1v2.1h-2.1zM2328.5 211.8h2.1v2.1h-2.1zM2334.4 211.8h2.1v2.1h-2.1zM2318.7 213.8h2.1v2.1h-2.1zM2320.7 213.8h2.1v2.1h-2.1zM2322.6 213.8h2.1v2.1h-2.1zM2324.6 213.8h2.1v2.1h-2.1zM2330.5 213.8h2.1v2.1h-2.1zM2332.4 213.8h2.1v2.1h-2.1zM2334.4 213.8h2.1v2.1h-2.1zM2336.4 213.8h2.1v2.1h-2.1zM2277.5 215.8h2.1v2.1h-2.1zM2324.6 215.8h2.1v2.1h-2.1zM2330.5 215.8h2.1v2.1h-2.1zM2275.5 217.7h2.1v2.1h-2.1zM2277.5 217.7h2.1v2.1h-2.1zM2324.6 217.7h2.1v2.1h-2.1zM2275.5 219.7h2.1v2.1h-2.1zM2277.5 219.7h2.1v2.1h-2.1zM2308.9 219.7h2.1v2.1h-2.1zM2310.8 219.7h2.1v2.1h-2.1zM2312.8 219.7h2.1v2.1h-2.1zM2314.8 219.7h2.1v2.1h-2.1zM2316.7 219.7h2.1v2.1h-2.1zM2271.6 221.7h2.1v2.1h-2.1zM2273.6 221.7h2.1v2.1h-2.1zM2306.9 221.7h2.1v2.1h-2.1zM2308.9 221.7h2.1v2.1h-2.1zM2310.8 221.7h2.1v2.1h-2.1zM2314.8 221.7h2.1v2.1h-2.1zM2316.7 221.7h2.1v2.1h-2.1zM2269.6 223.7h2.1v2.1h-2.1zM2271.6 223.7h2.1v2.1h-2.1zM2273.6 223.7h2.1v2.1h-2.1zM2275.5 223.7h2.1v2.1h-2.1zM2306.9 223.7h2.1v2.1h-2.1zM2310.8 223.7h2.1v2.1h-2.1zM2312.8 223.7h2.1v2.1h-2.1zM2330.5 223.7h2.1v2.1h-2.1zM2267.7 225.6h2.1v2.1h-2.1zM2269.6 225.6h2.1v2.1h-2.1zM2293.2 225.6h2.1v2.1h-2.1zM2295.1 225.6h2.1v2.1h-2.1zM2310.8 225.6h2.1v2.1h-2.1zM2265.7 227.6h2.1v2.1h-2.1zM2267.7 227.6h2.1v2.1h-2.1zM2289.3 227.6h2.1v2.1h-2.1zM2291.2 227.6h2.1v2.1h-2.1zM2293.2 227.6h2.1v2.1h-2.1zM2299.1 227.6h2.1v2.1h-2.1zM2305.0 227.6h2.1v2.1h-2.1zM2310.8 227.6h2.1v2.1h-2.1zM2265.7 229.6h2.1v2.1h-2.1zM2267.7 229.6h2.1v2.1h-2.1zM2287.3 229.6h2.1v2.1h-2.1zM2291.2 229.6h2.1v2.1h-2.1zM2293.2 229.6h2.1v2.1h-2.1zM2295.1 229.6h2.1v2.1h-2.1zM2297.1 229.6h2.1v2.1h-2.1zM2299.1 229.6h2.1v2.1h-2.1zM2301.0 229.6h2.1v2.1h-2.1zM2303.0 229.6h2.1v2.1h-2.1zM2310.8 229.6h2.1v2.1h-2.1zM2285.3 231.6h2.1v2.1h-2.1zM2287.3 231.6h2.1v2.1h-2.1zM2289.3 231.6h2.1v2.1h-2.1zM2295.1 231.6h2.1v2.1h-2.1zM2299.1 231.6h2.1v2.1h-2.1zM2301.0 231.6h2.1v2.1h-2.1zM2291.2 233.5h2.1v2.1h-2.1zM2293.2 233.5h2.1v2.1h-2.1zM2265.7 235.5h2.1v2.1h-2.1zM2285.3 235.5h2.1v2.1h-2.1zM2289.3 235.5h2.1v2.1h-2.1zM2330.5 235.5h2.1v2.1h-2.1zM2277.5 237.5h2.1v2.1h-2.1zM2283.4 237.5h2.1v2.1h-2.1zM2330.5 237.5h2.1v2.1h-2.1zM2265.7 239.4h2.1v2.1h-2.1zM2267.7 239.4h2.1v2.1h-2.1zM2269.6 239.4h2.1v2.1h-2.1zM2271.6 239.4h2.1v2.1h-2.1zM2273.6 239.4h2.1v2.1h-2.1zM2277.5 239.4h2.1v2.1h-2.1zM2267.7 241.4h2.1v2.1h-2.1zM2271.6 241.4h2.1v2.1h-2.1zM2273.6 241.4h2.1v2.1h-2.1zM2295.1 241.4h2.1v2.1h-2.1z" fill="#0000c8"/>
<path d="M2342.3 172.3h2.1v2.1h-2.1zM2338.3 174.3h2.1v2.1h-2.1zM2336.4 176.2h2.1v2.1h-2.1zM2350.1 176.2h2.1v2.1h-2.1zM2330.5 178.2h2.1v2.1h-2.1zM2318.7 180.2h2.1v2.1h-2.1zM2320.7 182.2h2.1v2.1h-2.1zM2322.6 182.2h2.1v2.1h-2.1zM2324.6 182.2h2.1v2.1h-2.1zM2350.1 182.2h2.1v2.1h-2.1zM2312.8 184.2h2.1v2.1h-2.1zM2314.8 184.2h2.1v2.1h-2.1zM2316.7 184.2h2.1v2.1h-2.1zM2320.7 184.2h2.1v2.1h-2.1zM2322.6 184.2h2.1v2.1h-2.1zM2312.8 186.1h2.1v2.1h-2.1zM2316.7 186.1h2.1v2.1h-2.1zM2344.2 186.1h2.1v2.1h-2.1zM2346.2 186.1h2.1v2.1h-2.1zM2308.9 188.1h2.1v2.1h-2.1zM2310.8 188.1h2.1v2.1h-2.1zM2336.4 188.1h2.1v2.1h-2.1zM2344.2 188.1h2.1v2.1h-2.1zM2310.8 190.1h2.1v2.1h-2.1zM2342.3 190.1h2.1v2.1h-2.1zM2344.2 190.1h2.1v2.1h-2.1zM2306.9 192.1h2.1v2.1h-2.1zM2340.3 192.1h2.1v2.1h-2.1zM2342.3 192.1h2.1v2.1h-2.1zM2344.2 192.1h2.1v2.1h-2.1zM2338.3 194.0h2.1v2.1h-2.1zM2299.1 196.0h2.1v2.1h-2.1zM2303.0 196.0h2.1v2.1h-2.1zM2324.6 196.0h2.1v2.1h-2.1zM2334.4 196.0h2.1v2.1h-2.1zM2338.3 196.0h2.1v2.1h-2.1zM2295.1 198.0h2.1v2.1h-2.1zM2297.1 198.0h2.1v2.1h-2.1zM2301.0 198.0h2.1v2.1h-2.1zM2336.4 198.0h2.1v2.1h-2.1zM2338.3 198.0h2.1v2.1h-2.1zM2289.3 200.0h2.1v2.1h-2.1zM2295.1 200.0h2.1v2.1h-2.1zM2299.1 200.0h2.1v2.1h-2.1zM2328.5 200.0h2.1v2.1h-2.1zM2330.5 200.0h2.1v2.1h-2.1zM2297.1 201.9h2.1v2.1h-2.1zM2332.4 201.9h2.1v2.1h-2.1zM2291.2 203.9h2.1v2.1h-2.1zM2297.1 203.9h2.1v2.1h-2.1zM2332.4 203.9h2.1v2.1h-2.1zM2285.3 205.9h2.1v2.1h-2.1zM2289.3 205.9h2.1v2.1h-2.1zM2318.7 205.9h2.1v2.1h-2.1zM2283.4 207.9h2.1v2.1h-2.1zM2320.7 207.9h2.1v2.1h-2.1zM2324.6 207.9h2.1v2.1h-2.1zM2326.6 207.9h2.1v2.1h-2.1zM2285.3 209.8h2.1v2.1h-2.1zM2320.7 209.8h2.1v2.1h-2.1zM2322.6 209.8h2.1v2.1h-2.1zM2326.6 209.8h2.1v2.1h-2.1zM2283.4 211.8h2.1v2.1h-2.1zM2312.8 211.8h2.1v2.1h-2.1zM2316.7 211.8h2.1v2.1h-2.1zM2318.7 211.8h2.1v2.1h-2.1zM2324.6 211.8h2.1v2.1h-2.1zM2277.5 213.8h2.1v2.1h-2.1zM2279.4 213.8h2.1v2.1h-2.1zM2281.4 213.8h2.1v2.1h-2.1zM2312.8 213.8h2.1v2.1h-2.1zM2314.8 213.8h2.1v2.1h-2.1zM2279.4 215.8h2.1v2.1h-2.1zM2283.4 215.8h2.1v2.1h-2.1zM2308.9 215.8h2.1v2.1h-2.1zM2318.7 215.8h2.1v2.1h-2.1zM2279.4 217.7h2.1v2.1h-2.1zM2281.4 217.7h2.1v2.1h-2.1zM2312.8 217.7h2.1v2.1h-2.1zM2314.8 217.7h2.1v2.1h-2.1zM2318.7 217.7h2.1v2.1h-2.1zM2279.4 219.7h2.1v2.1h-2.1zM2303.0 219.7h2.1v2.1h-2.1zM2305.0 219.7h2.1v2.1h-2.1zM2306.9 219.7h2.1v2.1h-2.1zM2275.5 221.7h2.1v2.1h-2.1zM2312.8 221.7h2.1v2.1h-2.1zM2285.3 223.7h2.1v2.1h-2.1zM2271.6 225.6h2.1v2.1h-2.1zM2273.6 225.6h2.1v2.1h-2.1zM2275.5 225.6h2.1v2.1h-2.1zM2291.2 225.6h2.1v2.1h-2.1zM2299.1 225.6h2.1v2.1h-2.1zM2301.0 225.6h2.1v2.1h-2.1zM2305.0 225.6h2.1v2.1h-2.1zM2285.3 227.6h2.1v2.1h-2.1zM2295.1 227.6h2.1v2.1h-2.1zM2303.0 227.6h2.1v2.1h-2.1zM2265.7 231.6h2.1v2.1h-2.1zM2267.7 231.6h2.1v2.1h-2.1zM2291.2 231.6h2.1v2.1h-2.1zM2293.2 231.6h2.1v2.1h-2.1zM2285.3 233.5h2.1v2.1h-2.1zM2287.3 233.5h2.1v2.1h-2.1zM2273.6 235.5h2.1v2.1h-2.1zM2265.7 237.5h2.1v2.1h-2.1zM2269.6 237.5h2.1v2.1h-2.1zM2271.6 237.5h2.1v2.1h-2.1zM2273.6 237.5h2.1v2.1h-2.1zM2275.5 237.5h2.1v2.1h-2.1zM2279.4 237.5h2.1v2.1h-2.1zM2281.4 237.5h2.1v2.1h-2.1zM2275.5 239.4h2.1v2.1h-2.1z" fill="#0000ed"/>
<path d="M2344.2 172.3h2.1v2.1h-2.1zM2334.4 176.2h2.1v2.1h-2.1zM2334.4 178.2h2.1v2.1h-2.1zM2328.5 180.2h2.1v2.1h-2.1zM2352.1 180.2h2.1v2.1h-2.1zM2326.6 182.2h2.1v2.1h-2.1zM2348.1 182.2h2.1v2.1h-2.1zM2324.6 184.2h2.1v2.1h-2.1zM2344.2 184.2h2.1v2.1h-2.1zM2318.7 186.1h2.1v2.1h-2.1zM2320.7 186.1h2.1v2.1h-2.1zM2314.8 188.1h2.1v2.1h-2.1zM2316.7 188.1h2.1v2.1h-2.1zM2346.2 188.1h2.1v2.1h-2.1zM2322.6 190.1h2.1v2.1h-2.1zM2340.3 190.1h2.1v2.1h-2.1zM2310.8 192.1h2.1v2.1h-2.1zM2322.6 192.1h2.1v2.1h-2.1zM2312.8 194.0h2.1v2.1h-2.1zM2316.7 194.0h2.1v2.1h-2.1zM2312.8 196.0h2.1v2.1h-2.1zM2314.8 196.0h2.1v2.1h-2.1zM2336.4 196.0h2.1v2.1h-2.1zM2316.7 198.0h2.1v2.1h-2.1zM2318.7 198.0h2.1v2.1h-2.1zM2324.6 198.0h2.1v2.1h-2.1zM2328.5 198.0h2.1v2.1h-2.1zM2334.4 198.0h2.1v2.1h-2.1zM2301.0 200.0h2.1v2.1h-2.1zM2334.4 200.0h2.1v2.1h-2.1zM2299.1 201.9h2.1v2.1h-2.1zM2328.5 201.9h2.1v2.1h-2.1zM2334.4 201.9h2.1v2.1h-2.1zM2293.2 203.9h2.1v2.1h-2.1zM2295.1 203.9h2.1v2.1h-2.1zM2316.7 203.9h2.1v2.1h-2.1zM2328.5 203.9h2.1v2.1h-2.1zM2287.3 205.9h2.1v2.1h-2.1zM2293.2 205.9h2.1v2.1h-2.1zM2297.1 205.9h2.1v2.1h-2.1zM2320.7 205.9h2.1v2.1h-2.1zM2326.6 205.9h2.1v2.1h-2.1zM2285.3 207.9h2.1v2.1h-2.1zM2287.3 207.9h2.1v2.1h-2.1zM2291.2 207.9h2.1v2.1h-2.1zM2318.7 207.9h2.1v2.1h-2.1zM2289.3 209.8h2.1v2.1h-2.1zM2293.2 209.8h2.1v2.1h-2.1zM2324.6 209.8h2.1v2.1h-2.1zM2285.3 211.8h2.1v2.1h-2.1zM2283.4 213.8h2.1v2.1h-2.1zM2287.3 213.8h2.1v2.1h-2.1zM2289.3 213.8h2.1v2.1h-2.1zM2308.9 213.8h2.1v2.1h-2.1zM2316.7 213.8h2.1v2.1h-2.1zM2281.4 215.8h2.1v2.1h-2.1zM2287.3 215.8h2.1v2.1h-2.1zM2312.8 215.8h2.1v2.1h-2.1zM2314.8 215.8h2.1v2.1h-2.1zM2287.3 217.7h2.1v2.1h-2.1zM2308.9 217.7h2.1v2.1h-2.1zM2316.7 217.7h2.1v2.1h-2.1zM2281.4 219.7h2.1v2.1h-2.1zM2277.5 221.7h2.1v2.1h-2.1zM2305.0 221.7h2.1v2.1h-2.1zM2277.5 223.7h2.1v2.1h-2.1zM2283.4 223.7h2.1v2.1h-2.1zM2297.1 223.7h2.1v2.1h-2.1zM2285.3 225.6h2.1v2.1h-2.1zM2269.6 227.6h2.1v2.1h-2.1zM2271.6 227.6h2.1v2.1h-2.1zM2273.6 227.6h2.1v2.1h-2.1zM2283.4 227.6h2.1v2.1h-2.1zM2301.0 227.6h2.1v2.1h-2.1zM2269.6 229.6h2.1v2.1h-2.1zM2271.6 229.6h2.1v2.1h-2.1zM2285.3 229.6h2.1v2.1h-2.1zM2265.7 233.5h2.1v2.1h-2.1zM2267.7 233.5h2.1v2.1h-2.1zM2273.6 233.5h2.1v2.1h-2.1zM2277.5 233.5h2.1v2.1h-2.1zM2289.3 233.5h2.1v2.1h-2.1zM2275.5 235.5h2.1v2.1h-2.1zM2277.5 235.5h2.1v2.1h-2.1zM2281.4 235.5h2.1v2.1h-2.1zM2283.4 235.5h2.1v2.1h-2.1z" fill="#0012ff"/>
<path d="M2340.3 174.3h2.1v2.1h-2.1zM2342.3 174.3h2.1v2.1h-2.1zM2350.1 178.2h2.1v2.1h-2.1zM2330.5 180.2h2.1v2.1h-2.1zM2336.4 180.2h2.1v2.1h-2.1zM2328.5 182.2h2.1v2.1h-2.1zM2330.5 182.2h2.1v2.1h-2.1zM2330.5 184.2h2.1v2.1h-2.1zM2322.6 186.1h2.1v2.1h-2.1zM2324.6 186.1h2.1v2.1h-2.1zM2326.6 186.1h2.1v2.1h-2.1zM2328.5 186.1h2.1v2.1h-2.1zM2330.5 186.1h2.1v2.1h-2.1zM2336.4 186.1h2.1v2.1h-2.1zM2318.7 188.1h2.1v2.1h-2.1zM2328.5 188.1h2.1v2.1h-2.1zM2338.3 188.1h2.1v2.1h-2.1zM2308.9 190.1h2.1v2.1h-2.1zM2305.0 194.0h2.1v2.1h-2.1zM2306.9 194.0h2.1v2.1h-2.1zM2310.8 194.0h2.1v2.1h-2.1zM2332.4 194.0h2.1v2.1h-2.1zM2297.1 196.0h2.1v2.1h-2.1zM2316.7 196.0h2.1v2.1h-2.1zM2332.4 196.0h2.1v2.1h-2.1zM2305.0 198.0h2.1v2.1h-2.1zM2306.9 198.0h2.1v2.1h-2.1zM2310.8 200.0h2.1v2.1h-2.1zM2314.8 200.0h2.1v2.1h-2.1zM2318.7 200.0h2.1v2.1h-2.1zM2326.6 200.0h2.1v2.1h-2.1zM2332.4 200.0h2.1v2.1h-2.1zM2306.9 201.9h2.1v2.1h-2.1zM2316.7 201.9h2.1v2.1h-2.1zM2330.5 203.9h2.1v2.1h-2.1zM2316.7 205.9h2.1v2.1h-2.1zM2324.6 205.9h2.1v2.1h-2.1zM2295.1 207.9h2.1v2.1h-2.1zM2297.1 207.9h2.1v2.1h-2.1zM2291.2 209.8h2.1v2.1h-2.1zM2318.7 209.8h2.1v2.1h-2.1zM2287.3 211.8h2.1v2.1h-2.1zM2289.3 211.8h2.1v2.1h-2.1zM2293.2 211.8h2.1v2.1h-2.1zM2295.1 211.8h2.1v2.1h-2.1zM2306.9 211.8h2.1v2.1h-2.1zM2308.9 211.8h2.1v2.1h-2.1zM2310.8 211.8h2.1v2.1h-2.1zM2306.9 213.8h2.1v2.1h-2.1zM2299.1 215.8h2.1v2.1h-2.1zM2303.0 215.8h2.1v2.1h-2.1zM2316.7 215.8h2.1v2.1h-2.1zM2283.4 217.7h2.1v2.1h-2.1zM2295.1 217.7h2.1v2.1h-2.1zM2299.1 217.7h2.1v2.1h-2.1zM2306.9 217.7h2.1v2.1h-2.1zM2299.1 219.7h2.1v2.1h-2.1zM2283.4 221.7h2.1v2.1h-2.1zM2287.3 223.7h2.1v2.1h-2.1zM2295.1 223.7h2.1v2.1h-2.1zM2299.1 223.7h2.1v2.1h-2.1zM2289.3 225.6h2.1v2.1h-2.1zM2297.1 225.6h2.1v2.1h-2.1zM2287.3 227.6h2.1v2.1h-2.1zM2297.1 227.6h2.1v2.1h-2.1zM2273.6 229.6h2.1v2.1h-2.1zM2279.4 229.6h2.1v2.1h-2.1zM2271.6 233.5h2.1v2.1h-2.1zM2283.4 233.5h2.1v2.1h-2.1zM2267.7 235.5h2.1v2.1h-2.1zM2267.7 237.5h2.1v2.1h-2.1z" fill="#0037ff"/>
<path d="M2332.4 178.2h2.1v2.1h-2.1zM2342.3 178.2h2.1v2.1h-2.1zM2340.3 180.2h2.1v2.1h-2.1zM2336.4 182.2h2.1v2.1h-2.1zM2342.3 182.2h2.1v2.1h-2.1zM2332.4 184.2h2.1v2.1h-2.1zM2334.4 188.1h2.1v2.1h-2.1zM2324.6 190.1h2.1v2.1h-2.1zM2332.4 190.1h2.1v2.1h-2.1zM2308.9 192.1h2.1v2.1h-2.1zM2314.8 192.1h2.1v2.1h-2.1zM2316.7 192.1h2.1v2.1h-2.1zM2338.3 192.1h2.1v2.1h-2.1zM2314.8 194.0h2.1v2.1h-2.1zM2320.7 194.0h2.1v2.1h-2.1zM2334.4 194.0h2.1v2.1h-2.1zM2310.8 196.0h2.1v2.1h-2.1zM2318.7 196.0h2.1v2.1h-2.1zM2322.6 196.0h2.1v2.1h-2.1zM2328.5 196.0h2.1v2.1h-2.1zM2326.6 198.0h2.1v2.1h-2.1zM2306.9 200.0h2.1v2.1h-2.1zM2312.8 200.0h2.1v2.1h-2.1zM2310.8 201.9h2.1v2.1h-2.1zM2299.1 203.9h2.1v2.1h-2.1zM2314.8 203.9h2.1v2.1h-2.1zM2318.7 203.9h2.1v2.1h-2.1zM2295.1 205.9h2.1v2.1h-2.1zM2314.8 205.9h2.1v2.1h-2.1zM2322.6 205.9h2.1v2.1h-2.1zM2289.3 207.9h2.1v2.1h-2.1zM2287.3 209.8h2.1v2.1h-2.1zM2303.0 209.8h2.1v2.1h-2.1zM2305.0 209.8h2.1v2.1h-2.1zM2308.9 209.8h2.1v2.1h-2.1zM2305.0 211.8h2.1v2.1h-2.1zM2314.8 211.8h2.1v2.1h-2.1zM2295.1 213.8h2.1v2.1h-2.1zM2299.1 213.8h2.1v2.1h-2.1zM2297.1 215.8h2.1v2.1h-2.1zM2301.0 215.8h2.1v2.1h-2.1zM2289.3 217.7h2.1v2.1h-2.1zM2303.0 217.7h2.1v2.1h-2.1zM2310.8 217.7h2.1v2.1h-2.1zM2279.4 223.7h2.1v2.1h-2.1zM2281.4 223.7h2.1v2.1h-2.1zM2293.2 223.7h2.1v2.1h-2.1zM2303.0 223.7h2.1v2.1h-2.1zM2305.0 223.7h2.1v2.1h-2.1zM2303.0 225.6h2.1v2.1h-2.1zM2275.5 227.6h2.1v2.1h-2.1zM2277.5 227.6h2.1v2.1h-2.1zM2273.6 231.6h2.1v2.1h-2.1zM2277.5 231.6h2.1v2.1h-2.1zM2279.4 231.6h2.1v2.1h-2.1zM2283.4 231.6h2.1v2.1h-2.1zM2281.4 233.5h2.1v2.1h-2.1zM2279.4 235.5h2.1v2.1h-2.1z" fill="#005bff"/>
<path d="M2348.1 174.3h2.1v2.1h-2.1zM2340.3 176.2h2.1v2.1h-2.1zM2336.4 178.2h2.1v2.1h-2.1zM2334.4 180.2h2.1v2.1h-2.1zM2348.1 180.2h2.1v2.1h-2.1zM2312.8 188.1h2.1v2.1h-2.1zM2330.5 188.1h2.1v2.1h-2.1zM2316.7 190.1h2.1v2.1h-2.1zM2330.5 190.1h2.1v2.1h-2.1zM2338.3 190.1h2.1v2.1h-2.1zM2320.7 192.1h2.1v2.1h-2.1zM2324.6 192.1h2.1v2.1h-2.1zM2326.6 192.1h2.1v2.1h-2.1zM2332.4 192.1h2.1v2.1h-2.1zM2308.9 194.0h2.1v2.1h-2.1zM2318.7 194.0h2.1v2.1h-2.1zM2324.6 194.0h2.1v2.1h-2.1zM2320.7 196.0h2.1v2.1h-2.1zM2326.6 196.0h2.1v2.1h-2.1zM2303.0 198.0h2.1v2.1h-2.1zM2308.9 198.0h2.1v2.1h-2.1zM2310.8 198.0h2.1v2.1h-2.1zM2312.8 198.0h2.1v2.1h-2.1zM2314.8 198.0h2.1v2.1h-2.1zM2320.7 198.0h2.1v2.1h-2.1zM2330.5 198.0h2.1v2.1h-2.1zM2303.0 200.0h2.1v2.1h-2.1zM2305.0 200.0h2.1v2.1h-2.1zM2318.7 201.9h2.1v2.1h-2.1zM2308.9 203.9h2.1v2.1h-2.1zM2310.8 203.9h2.1v2.1h-2.1zM2324.6 203.9h2.1v2.1h-2.1zM2299.1 205.9h2.1v2.1h-2.1zM2301.0 205.9h2.1v2.1h-2.1zM2293.2 207.9h2.1v2.1h-2.1zM2308.9 207.9h2.1v2.1h-2.1zM2314.8 207.9h2.1v2.1h-2.1zM2295.1 209.8h2.1v2.1h-2.1zM2301.0 211.8h2.1v2.1h-2.1zM2303.0 211.8h2.1v2.1h-2.1zM2293.2 213.8h2.1v2.1h-2.1zM2301.0 213.8h2.1v2.1h-2.1zM2303.0 213.8h2.1v2.1h-2.1zM2305.0 213.8h2.1v2.1h-2.1zM2289.3 215.8h2.1v2.1h-2.1zM2295.1 215.8h2.1v2.1h-2.1zM2306.9 215.8h2.1v2.1h-2.1zM2310.8 215.8h2.1v2.1h-2.1zM2293.2 217.7h2.1v2.1h-2.1zM2283.4 219.7h2.1v2.1h-2.1zM2287.3 219.7h2.1v2.1h-2.1zM2301.0 219.7h2.1v2.1h-2.1zM2297.1 221.7h2.1v2.1h-2.1zM2299.1 221.7h2.1v2.1h-2.1zM2303.0 221.7h2.1v2.1h-2.1zM2301.0 223.7h2.1v2.1h-2.1zM2277.5 225.6h2.1v2.1h-2.1zM2283.4 225.6h2.1v2.1h-2.1zM2277.5 229.6h2.1v2.1h-2.1zM2269.6 231.6h2.1v2.1h-2.1zM2271.6 231.6h2.1v2.1h-2.1zM2281.4 231.6h2.1v2.1h-2.1zM2269.6 233.5h2.1v2.1h-2.1zM2279.4 233.5h2.1v2.1h-2.1z" fill="#0080ff"/>
<path d="M2344.2 178.2h2.1v2.1h-2.1zM2346.2 178.2h2.1v2.1h-2.1zM2336.4 184.2h2.1v2.1h-2.1zM2326.6 188.1h2.1v2.1h-2.1zM2312.8 190.1h2.1v2.1h-2.1zM2318.7 190.1h2.1v2.1h-2.1zM2336.4 190.1h2.1v2.1h-2.1zM2318.7 192.1h2.1v2.1h-2.1zM2305.0 196.0h2.1v2.1h-2.1zM2332.4 198.0h2.1v2.1h-2.1zM2324.6 200.0h2.1v2.1h-2.1zM2301.0 201.9h2.1v2.1h-2.1zM2303.0 201.9h2.1v2.1h-2.1zM2305.0 201.9h2.1v2.1h-2.1zM2314.8 201.9h2.1v2.1h-2.1zM2310.8 209.8h2.1v2.1h-2.1zM2316.7 209.8h2.1v2.1h-2.1zM2291.2 213.8h2.1v2.1h-2.1zM2310.8 213.8h2.1v2.1h-2.1zM2285.3 215.8h2.1v2.1h-2.1zM2305.0 215.8h2.1v2.1h-2.1zM2305.0 217.7h2.1v2.1h-2.1zM2285.3 219.7h2.1v2.1h-2.1zM2281.4 221.7h2.1v2.1h-2.1zM2287.3 225.6h2.1v2.1h-2.1zM2279.4 227.6h2.1v2.1h-2.1zM2283.4 229.6h2.1v2.1h-2.1zM2271.6 235.5h2.1v2.1h-2.1z" fill="#00a4ff"/>
<path d="M2338.3 176.2h2.1v2.1h-2.1zM2342.3 176.2h2.1v2.1h-2.1zM2342.3 180.2h2.1v2.1h-2.1zM2346.2 180.2h2.1v2.1h-2.1zM2350.1 180.2h2.1v2.1h-2.1zM2338.3 182.2h2.1v2.1h-2.1zM2326.6 184.2h2.1v2.1h-2.1zM2328.5 184.2h2.1v2.1h-2.1zM2342.3 184.2h2.1v2.1h-2.1zM2346.2 184.2h2.1v2.1h-2.1zM2314.8 190.1h2.1v2.1h-2.1zM2320.7 190.1h2.1v2.1h-2.1zM2312.8 192.1h2.1v2.1h-2.1zM2330.5 192.1h2.1v2.1h-2.1zM2322.6 194.0h2.1v2.1h-2.1zM2326.6 194.0h2.1v2.1h-2.1zM2328.5 194.0h2.1v2.1h-2.1zM2336.4 194.0h2.1v2.1h-2.1zM2306.9 196.0h2.1v2.1h-2.1zM2308.9 196.0h2.1v2.1h-2.1zM2308.9 200.0h2.1v2.1h-2.1zM2316.7 200.0h2.1v2.1h-2.1zM2320.7 200.0h2.1v2.1h-2.1zM2306.9 203.9h2.1v2.1h-2.1zM2310.8 205.9h2.1v2.1h-2.1zM2303.0 207.9h2.1v2.1h-2.1zM2312.8 209.8h2.1v2.1h-2.1zM2297.1 213.8h2.1v2.1h-2.1zM2293.2 215.8h2.1v2.1h-2.1zM2301.0 217.7h2.1v2.1h-2.1zM2293.2 219.7h2.1v2.1h-2.1zM2295.1 219.7h2.1v2.1h-2.1zM2285.3 221.7h2.1v2.1h-2.1zM2281.4 225.6h2.1v2.1h-2.1zM2275.5 229.6h2.1v2.1h-2.1zM2269.6 235.5h2.1v2.1h-2.1z" fill="#00c8ff"/>
<path d="M2346.2 174.3h2.1v2.1h-2.1zM2332.4 182.2h2.1v2.1h-2.1zM2334.4 184.2h2.1v2.1h-2.1zM2332.4 186.1h2.1v2.1h-2.1zM2332.4 188.1h2.1v2.1h-2.1zM2340.3 188.1h2.1v2.1h-2.1zM2342.3 188.1h2.1v2.1h-2.1zM2328.5 190.1h2.1v2.1h-2.1zM2308.9 201.9h2.1v2.1h-2.1zM2326.6 201.9h2.1v2.1h-2.1zM2306.9 209.8h2.1v2.1h-2.1zM2291.2 211.8h2.1v2.1h-2.1zM2285.3 217.7h2.1v2.1h-2.1zM2279.4 225.6h2.1v2.1h-2.1zM2281.4 227.6h2.1v2.1h-2.1zM2281.4 229.6h2.1v2.1h-2.1zM2275.5 233.5h2.1v2.1h-2.1z" fill="#00edff"/>
<path d="M2344.2 174.3h2.1v2.1h-2.1zM2348.1 176.2h2.1v2.1h-2.1zM2348.1 178.2h2.1v2.1h-2.1zM2332.4 180.2h2.1v2.1h-2.1zM2338.3 180.2h2.1v2.1h-2.1zM2334.4 182.2h2.1v2.1h-2.1zM2340.3 182.2h2.1v2.1h-2.1zM2344.2 182.2h2.1v2.1h-2.1zM2334.4 186.1h2.1v2.1h-2.1zM2342.3 186.1h2.1v2.1h-2.1zM2320.7 188.1h2.1v2.1h-2.1zM2326.6 190.1h2.1v2.1h-2.1zM2334.4 190.1h2.1v2.1h-2.1zM2330.5 194.0h2.1v2.1h-2.1zM2324.6 201.9h2.1v2.1h-2.1zM2322.6 203.9h2.1v2.1h-2.1zM2299.1 207.9h2.1v2.1h-2.1zM2305.0 207.9h2.1v2.1h-2.1zM2306.9 207.9h2.1v2.1h-2.1zM2310.8 207.9h2.1v2.1h-2.1zM2316.7 207.9h2.1v2.1h-2.1zM2297.1 209.8h2.1v2.1h-2.1zM2314.8 209.8h2.1v2.1h-2.1zM2297.1 217.7h2.1v2.1h-2.1zM2279.4 221.7h2.1v2.1h-2.1zM2291.2 223.7h2.1v2.1h-2.1zM2275.5 231.6h2.1v2.1h-2.1z" fill="#12ffed"/>
<path d="M2344.2 176.2h2.1v2.1h-2.1zM2322.6 198.0h2.1v2.1h-2.1zM2320.7 201.9h2.1v2.1h-2.1zM2320.7 203.9h2.1v2.1h-2.1zM2303.0 205.9h2.1v2.1h-2.1zM2301.0 209.8h2.1v2.1h-2.1zM2291.2 215.8h2.1v2.1h-2.1zM2291.2 217.7h2.1v2.1h-2.1zM2289.3 219.7h2.1v2.1h-2.1zM2287.3 221.7h2.1v2.1h-2.1z" fill="#37ffc8"/>
<path d="M2322.6 188.1h2.1v2.1h-2.1zM2324.6 188.1h2.1v2.1h-2.1zM2328.5 192.1h2.1v2.1h-2.1zM2334.4 192.1h2.1v2.1h-2.1zM2312.8 203.9h2.1v2.1h-2.1zM2308.9 205.9h2.1v2.1h-2.1zM2297.1 211.8h2.1v2.1h-2.1zM2285.3 213.8h2.1v2.1h-2.1zM2289.3 223.7h2.1v2.1h-2.1z" fill="#5bffa4"/>
<path d="M2340.3 178.2h2.1v2.1h-2.1zM2338.3 186.1h2.1v2.1h-2.1zM2330.5 196.0h2.1v2.1h-2.1zM2312.8 201.9h2.1v2.1h-2.1zM2326.6 203.9h2.1v2.1h-2.1zM2299.1 209.8h2.1v2.1h-2.1zM2299.1 211.8h2.1v2.1h-2.1zM2297.1 219.7h2.1v2.1h-2.1zM2293.2 221.7h2.1v2.1h-2.1z" fill="#80ff80"/>
<path d="M2344.2 180.2h2.1v2.1h-2.1zM2346.2 182.2h2.1v2.1h-2.1zM2301.0 207.9h2.1v2.1h-2.1zM2312.8 207.9h2.1v2.1h-2.1z" fill="#a4ff5b"/>
<path d="M2301.0 203.9h2.1v2.1h-2.1zM2312.8 205.9h2.1v2.1h-2.1z" fill="#c8ff37"/>
<path d="M2303.0 203.9h2.1v2.1h-2.1z" fill="#edff12"/>
<path d="M2336.4 192.1h2.1v2.1h-2.1zM2291.2 219.7h2.1v2.1h-2.1zM2295.1 221.7h2.1v2.1h-2.1z" fill="#ffed00"/>
<path d="M2346.2 176.2h2.1v2.1h-2.1zM2305.0 203.9h2.1v2.1h-2.1z" fill="#ffc800"/>
<path d="M2322.6 201.9h2.1v2.1h-2.1zM2301.0 221.7h2.1v2.1h-2.1z" fill="#ff5b00"/>
<path d="M2340.3 186.1h2.1v2.1h-2.1z" fill="#ff3700"/>
<path d="M2291.2 221.7h2.1v2.1h-2.1z" fill="#ff1200"/>
<path d="M2338.3 178.2h2.1v2.1h-2.1zM2338.3 184.2h2.1v2.1h-2.1zM2340.3 184.2h2.1v2.1h-2.1zM2322.6 200.0h2.1v2.1h-2.1zM2305.0 205.9h2.1v2.1h-2.1zM2306.9 205.9h2.1v2.1h-2.1zM2289.3 221.7h2.1v2.1h-2.1z" fill="#c80000"/>
<text class="sf"><tspan x="815.95" y="678.76" font-size="50.44" textLength="15.93" lengthAdjust="spacingAndGlyphs" fill="#000">(</tspan><tspan x="832.86" y="678.88" font-size="52.08" textLength="24.07" lengthAdjust="spacingAndGlyphs" fill="#000" font-weight="bold">a</tspan><tspan x="857.79" y="678.76" font-size="50.44" textLength="15.63" lengthAdjust="spacingAndGlyphs" fill="#000">)</tspan></text>
<text class="sf"><tspan x="1774.64" y="678.76" font-size="50.44" textLength="15.28" lengthAdjust="spacingAndGlyphs" fill="#000">(</tspan><tspan x="1790.76" y="678.87" font-size="52.77" textLength="30.18" lengthAdjust="spacingAndGlyphs" fill="#000" font-weight="bold">b</tspan><tspan x="1821.75" y="678.76" font-size="50.44" textLength="14.99" lengthAdjust="spacingAndGlyphs" fill="#000">)</tspan></text>
</svg>
</body></html>
